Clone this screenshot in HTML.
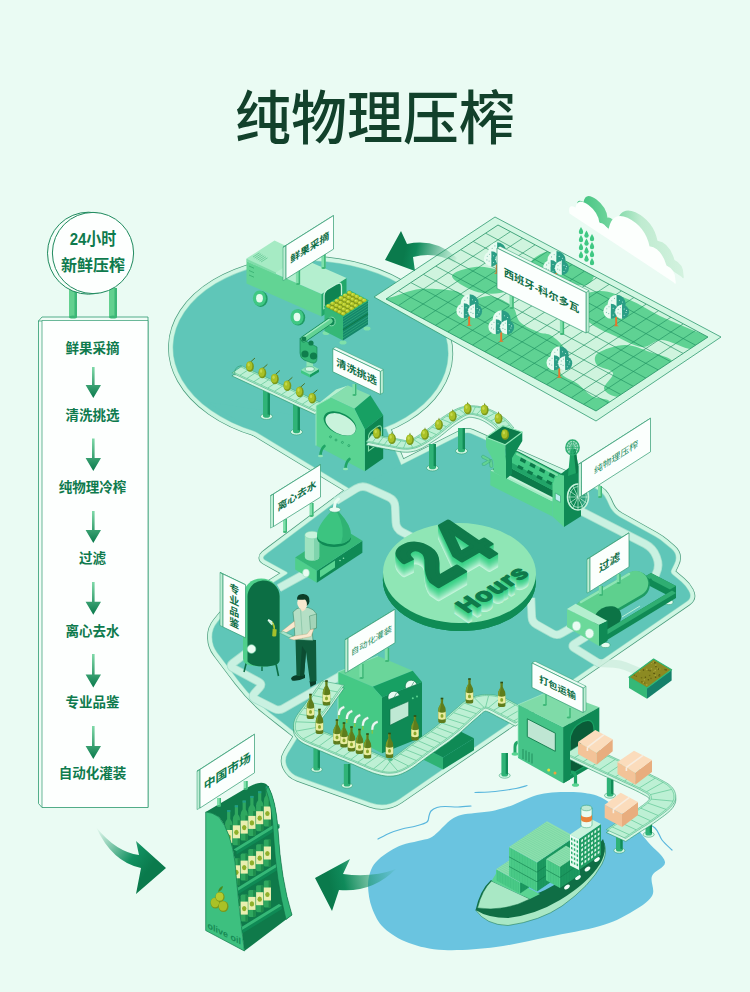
<!DOCTYPE html><html><head><meta charset="utf-8"><style>html,body{margin:0;padding:0;background:#eafbf3;font-family:"Liberation Sans",sans-serif}svg{display:block}svg text{font-family:"Liberation Sans","Noto Sans CJK SC",sans-serif}</style></head><body><svg width="750" height="992" viewBox="0 0 750 992">
<rect width="750" height="992" fill="#eafbf3"/>
<text transform="matrix(1 0 0 1.04 375 138.5)" x="0" y="0" font-size="56" font-weight="500" text-anchor="middle" fill="#12412b">纯物理压榨</text>
<ellipse cx="310.6" cy="350.5" rx="137.5" ry="89.5" transform="rotate(2 310.6 350.5)" fill="none" stroke="#4a9c7c" stroke-width="10.2" stroke-linejoin="round"/>
<polygon points="207,402 352,490 404,472 386,429 330,420" fill="none" stroke="#4a9c7c" stroke-width="10.2" stroke-linejoin="round"/>
<path d="M349.6 491.8Q352 490 354.7 488.6L462.5 434.3Q467 432 471.6 434L594.8 488.4Q603 492 606.7 500.2L609.2 505.7Q612.5 513 619.5 516.9L654.8 536.6Q660 539.5 664.6 543.4L671 548.8Q678.5 555 674.2 563.8L671.3 569.8Q670 572.5 672.3 574.4L681.4 582.1Q686 586 688.8 591.3L689 591.8Q692 597.5 686.7 601.2L399.2 798.9Q386 808 370.9 802.6L298.4 776.6Q291 774 287.5 767L287.5 767Q284 760 288.1 753.3L296.9 738.9Q299 735.5 295.9 733L292.8 730.5Q286.5 725.5 280.2 720.6L269 711.8Q252 698.5 239 681.2L232.8 673Q226 664 219.2 655L217.3 652.4Q212.5 646 212.3 638L212.2 637.5Q212 629 217.4 622.4L222.5 616.1Q225 613 228.4 610.9L286.5 574.6Q289 573 286.4 571.5L265.4 559.9Q262 558 265 555.5L265.7 554.9Q268 553 270.4 551.2Z" fill="none" stroke="#4a9c7c" stroke-width="10.2" stroke-linejoin="round"/>
<ellipse cx="310.6" cy="350.5" rx="137.5" ry="89.5" transform="rotate(2 310.6 350.5)" fill="none" stroke="#cff6e3" stroke-width="8.8" stroke-linejoin="round"/>
<polygon points="207,402 352,490 404,472 386,429 330,420" fill="none" stroke="#cff6e3" stroke-width="8.8" stroke-linejoin="round"/>
<path d="M349.6 491.8Q352 490 354.7 488.6L462.5 434.3Q467 432 471.6 434L594.8 488.4Q603 492 606.7 500.2L609.2 505.7Q612.5 513 619.5 516.9L654.8 536.6Q660 539.5 664.6 543.4L671 548.8Q678.5 555 674.2 563.8L671.3 569.8Q670 572.5 672.3 574.4L681.4 582.1Q686 586 688.8 591.3L689 591.8Q692 597.5 686.7 601.2L399.2 798.9Q386 808 370.9 802.6L298.4 776.6Q291 774 287.5 767L287.5 767Q284 760 288.1 753.3L296.9 738.9Q299 735.5 295.9 733L292.8 730.5Q286.5 725.5 280.2 720.6L269 711.8Q252 698.5 239 681.2L232.8 673Q226 664 219.2 655L217.3 652.4Q212.5 646 212.3 638L212.2 637.5Q212 629 217.4 622.4L222.5 616.1Q225 613 228.4 610.9L286.5 574.6Q289 573 286.4 571.5L265.4 559.9Q262 558 265 555.5L265.7 554.9Q268 553 270.4 551.2Z" fill="none" stroke="#cff6e3" stroke-width="8.8" stroke-linejoin="round"/>
<ellipse cx="310.6" cy="350.5" rx="137.5" ry="89.5" transform="rotate(2 310.6 350.5)" fill="none" stroke="#9fdfc9" stroke-width="1.2" stroke-linejoin="round"/>
<polygon points="207,402 352,490 404,472 386,429 330,420" fill="none" stroke="#9fdfc9" stroke-width="1.2" stroke-linejoin="round"/>
<path d="M349.6 491.8Q352 490 354.7 488.6L462.5 434.3Q467 432 471.6 434L594.8 488.4Q603 492 606.7 500.2L609.2 505.7Q612.5 513 619.5 516.9L654.8 536.6Q660 539.5 664.6 543.4L671 548.8Q678.5 555 674.2 563.8L671.3 569.8Q670 572.5 672.3 574.4L681.4 582.1Q686 586 688.8 591.3L689 591.8Q692 597.5 686.7 601.2L399.2 798.9Q386 808 370.9 802.6L298.4 776.6Q291 774 287.5 767L287.5 767Q284 760 288.1 753.3L296.9 738.9Q299 735.5 295.9 733L292.8 730.5Q286.5 725.5 280.2 720.6L269 711.8Q252 698.5 239 681.2L232.8 673Q226 664 219.2 655L217.3 652.4Q212.5 646 212.3 638L212.2 637.5Q212 629 217.4 622.4L222.5 616.1Q225 613 228.4 610.9L286.5 574.6Q289 573 286.4 571.5L265.4 559.9Q262 558 265 555.5L265.7 554.9Q268 553 270.4 551.2Z" fill="none" stroke="#9fdfc9" stroke-width="1.2" stroke-linejoin="round"/>
<ellipse cx="310.6" cy="350.5" rx="137.5" ry="89.5" transform="rotate(2 310.6 350.5)" fill="#5fc6b8"/>
<polygon points="207,402 352,490 404,472 386,429 330,420" fill="#5fc6b8"/>
<path d="M349.6 491.8Q352 490 354.7 488.6L462.5 434.3Q467 432 471.6 434L594.8 488.4Q603 492 606.7 500.2L609.2 505.7Q612.5 513 619.5 516.9L654.8 536.6Q660 539.5 664.6 543.4L671 548.8Q678.5 555 674.2 563.8L671.3 569.8Q670 572.5 672.3 574.4L681.4 582.1Q686 586 688.8 591.3L689 591.8Q692 597.5 686.7 601.2L399.2 798.9Q386 808 370.9 802.6L298.4 776.6Q291 774 287.5 767L287.5 767Q284 760 288.1 753.3L296.9 738.9Q299 735.5 295.9 733L292.8 730.5Q286.5 725.5 280.2 720.6L269 711.8Q252 698.5 239 681.2L232.8 673Q226 664 219.2 655L217.3 652.4Q212.5 646 212.3 638L212.2 637.5Q212 629 217.4 622.4L222.5 616.1Q225 613 228.4 610.9L286.5 574.6Q289 573 286.4 571.5L265.4 559.9Q262 558 265 555.5L265.7 554.9Q268 553 270.4 551.2Z" fill="#5fc6b8"/>
<g opacity="1"><path d="M577 509L645 543.9Q653 548 656.3 556.4L656.8 557.7Q660 566 656 574L652 582" fill="none" stroke="#a5e0cd" stroke-width="8.5" stroke-linejoin="round"/><path d="M577 509L645 543.9Q653 548 656.3 556.4L656.8 557.7Q660 566 656 574L652 582" fill="none" stroke="#c9f1e1" stroke-width="6.9" stroke-linejoin="round"/></g>
<g opacity="1"><path d="M531 598L531.8 617Q532 622 536.4 624.4L552.6 633.6Q557 636 561.3 633.5L578 624" fill="none" stroke="#a5e0cd" stroke-width="8.5" stroke-linejoin="round"/><path d="M531 598L531.8 617Q532 622 536.4 624.4L552.6 633.6Q557 636 561.3 633.5L578 624" fill="none" stroke="#c9f1e1" stroke-width="6.9" stroke-linejoin="round"/></g>
<g opacity="1"><path d="M592 633L574.4 643.9Q571 646 574.4 648.1L600 664" fill="none" stroke="#a5e0cd" stroke-width="8.5" stroke-linejoin="round"/><path d="M592 633L574.4 643.9Q571 646 574.4 648.1L600 664" fill="none" stroke="#c9f1e1" stroke-width="6.9" stroke-linejoin="round"/></g>
<g opacity="1"><path d="M336 501L356 488.7Q362 485 368.4 487.9L388.6 497.1Q395 500 395.2 507L395.8 522Q396 529 402.3 532.1L412 537" fill="none" stroke="#a5e0cd" stroke-width="8.5" stroke-linejoin="round"/><path d="M336 501L356 488.7Q362 485 368.4 487.9L388.6 497.1Q395 500 395.2 507L395.8 522Q396 529 402.3 532.1L412 537" fill="none" stroke="#c9f1e1" stroke-width="6.9" stroke-linejoin="round"/></g>
<g opacity="1"><path d="M308 572L279 588" fill="none" stroke="#a5e0cd" stroke-width="8.5" stroke-linejoin="round"/><path d="M308 572L279 588" fill="none" stroke="#c9f1e1" stroke-width="6.9" stroke-linejoin="round"/></g>
<g opacity="1"><path d="M253 648L233 663Q229 666 233.4 668.3L258.6 681.7Q263 684 259.6 687.7L254.4 693.3Q251 697 255.5 699.2L274.5 708.8Q279 711 283.3 708.5L340 676" fill="none" stroke="#a5e0cd" stroke-width="8.5" stroke-linejoin="round"/><path d="M253 648L233 663Q229 666 233.4 668.3L258.6 681.7Q263 684 259.6 687.7L254.4 693.3Q251 697 255.5 699.2L274.5 708.8Q279 711 283.3 708.5L340 676" fill="none" stroke="#c9f1e1" stroke-width="6.9" stroke-linejoin="round"/></g>
<path d="M368 886C367.8 879.7 369.3 874.3 371 870C372.7 865.7 374.8 863.2 378 860C381.2 856.8 386 853.5 390 851C394 848.5 397.3 846.7 402 845C406.7 843.3 413.3 842.2 418 841C422.7 839.8 426.7 839.5 430 838C433.3 836.5 435.7 834 438 832C440.3 830 441.7 828.2 444 826C446.3 823.8 449.2 820.8 452 819C454.8 817.2 457.2 816 461 815C464.8 814 470.3 813.6 475 813C479.7 812.4 484.5 812.2 489 811.5C493.5 810.8 498 809.6 502 808.5C506 807.4 509.3 806.4 513 805C516.7 803.6 520.5 801.5 524 800C527.5 798.5 530 797.2 534 796C538 794.8 542.8 793.7 548 793C553.2 792.3 558.8 792 565 792C571.2 792 578.5 791.8 585 793C591.5 794.2 596.8 794.8 604 799C611.2 803.2 620.7 810.8 628 818C635.3 825.2 641.8 834.7 648 842C654.2 849.3 664.3 856.3 665 862C665.7 867.7 654.2 870.3 652 876C649.8 881.7 655.7 889.8 652 896C648.3 902.2 638.7 908 630 913C621.3 918 613.7 922 600 926C586.3 930 565.3 933.5 548 937C530.7 940.5 513.3 944.8 496 947C478.7 949.2 458.5 950.7 444 950C429.5 949.3 419 946.7 409 943C399 939.3 390.2 933.8 384 928C377.8 922.2 374.7 915 372 908C369.3 901 368.2 892.3 368 886Z" fill="#6ac4e0"/>
<path d="M378 839C380 838 386 834.7 390 833C394 831.3 397.7 830.2 402 829C406.3 827.8 411.8 827.2 416 826C420.2 824.8 424.8 823.7 427 822C429.2 820.3 428.3 817.8 429 816C429.7 814.2 429.7 812.4 431 811C432.3 809.6 434.7 808.2 437 807.5C439.3 806.8 441.5 806.6 445 806.5C448.5 806.4 453.7 807.1 458 807C462.3 806.9 468.8 806.2 471 806" fill="none" stroke="#58b6dd" stroke-width="1.2" stroke-linecap="round"/>
<path d="M475 792.5C477.3 792.4 484.3 792.3 489 792C493.7 791.7 498.5 791.1 503 790.5C507.5 789.9 512 789.3 516 788.5C520 787.7 525.2 786 527 785.5" fill="none" stroke="#58b6dd" stroke-width="1.2" stroke-linecap="round"/>
<path d="M640 820C642.5 821.3 651.3 824.7 655 828C658.7 831.3 659.2 836.3 662 840C664.8 843.7 670.3 848.3 672 850" fill="none" stroke="#58b6dd" stroke-width="1.2" stroke-linecap="round"/>
<polygon points="495,217 721,337 596,421 374,297" fill="#d3f7e3" stroke="#2f9a70" stroke-width="0.8" stroke-linejoin="round"/>
<clipPath id="mapc"><polygon points="498,225 708,337 596,411 386,299"/></clipPath>
<g clip-path="url(#mapc)">
<polygon points="498,225 708,337 596,411 386,299" fill="#cff4de"/>
<path d="M380 300C382 298.5 385.3 298.8 392 297C398.7 295.2 409.5 290 420 289C430.5 288 446.7 289.2 455 291C463.3 292.8 464.2 299.2 470 300C475.8 300.8 483 295 490 296C497 297 507 301.7 512 306C517 310.3 515.7 317.7 520 322C524.3 326.3 532.7 329.7 538 332C543.3 334.3 547.3 332.7 552 336C556.7 339.3 564.7 346 566 352C567.3 358 558 366.7 560 372C562 377.3 572.7 380 578 384C583.3 388 586.7 393 592 396C597.3 399 608.7 398 610 402C611.3 406 608.3 420.3 600 420C591.7 419.7 596.7 419 560 400C523.3 381 410 322.7 380 306C350 289.3 378 301.5 380 300Z" fill="#5fd293"/>
<path d="M452 276C452.2 272 467 267.8 475 267C483 266.2 493.2 268.2 500 271C506.8 273.8 516 280.3 516 284C516 287.7 507 291.8 500 293C493 294.2 482 293.8 474 291C466 288.2 451.8 280 452 276Z" fill="#5fd293"/>
<path d="M531 262C532.7 258 542.7 251.8 550 251C557.3 250.2 567.7 253.7 575 257C582.3 260.3 592.2 266.3 594 271C595.8 275.7 591.7 283.3 586 285C580.3 286.7 567.7 282.7 560 281C552.3 279.3 544.8 278.2 540 275C535.2 271.8 529.3 266 531 262Z" fill="#5fd293"/>
<path d="M572 302C573.7 296.7 590.3 291.3 600 291C609.7 290.7 620 295.8 630 300C640 304.2 650 311.2 660 316C670 320.8 681.3 325 690 329C698.7 333 711.7 336.7 712 340C712.3 343.3 700.3 349 692 349C683.7 349 670.3 340.3 662 340C653.7 339.7 649.8 347.7 642 347C634.2 346.3 623.7 340 615 336C606.3 332 597.2 328.7 590 323C582.8 317.3 570.3 307.3 572 302Z" fill="#5fd293"/>
<path d="M598 353C602.7 349.7 616.3 345.2 625 345C633.7 344.8 642.2 349.3 650 352C657.8 354.7 671 357.5 672 361C673 364.5 661.3 368.8 656 373C650.7 377.2 646 382 640 386C634 390 626 396.5 620 397C614 397.5 605.2 393 604 389C602.8 385 614.2 377 613 373C611.8 369 599.5 368.3 597 365C594.5 361.7 593.3 356.3 598 353Z" fill="#5fd293"/>
<line x1="398.4" y1="305.6" x2="510.4" y2="231.6" stroke="#1f9162" stroke-width="0.65"/>
<line x1="410.7" y1="312.2" x2="522.7" y2="238.2" stroke="#1f9162" stroke-width="0.65"/>
<line x1="423.1" y1="318.8" x2="535.1" y2="244.8" stroke="#1f9162" stroke-width="0.65"/>
<line x1="435.4" y1="325.4" x2="547.4" y2="251.4" stroke="#1f9162" stroke-width="0.65"/>
<line x1="447.8" y1="331.9" x2="559.8" y2="257.9" stroke="#1f9162" stroke-width="0.65"/>
<line x1="460.1" y1="338.5" x2="572.1" y2="264.5" stroke="#1f9162" stroke-width="0.65"/>
<line x1="472.5" y1="345.1" x2="584.5" y2="271.1" stroke="#1f9162" stroke-width="0.65"/>
<line x1="484.8" y1="351.7" x2="596.8" y2="277.7" stroke="#1f9162" stroke-width="0.65"/>
<line x1="497.2" y1="358.3" x2="609.2" y2="284.3" stroke="#1f9162" stroke-width="0.65"/>
<line x1="509.5" y1="364.9" x2="621.5" y2="290.9" stroke="#1f9162" stroke-width="0.65"/>
<line x1="521.9" y1="371.5" x2="633.9" y2="297.5" stroke="#1f9162" stroke-width="0.65"/>
<line x1="534.2" y1="378.1" x2="646.2" y2="304.1" stroke="#1f9162" stroke-width="0.65"/>
<line x1="546.6" y1="384.6" x2="658.6" y2="310.6" stroke="#1f9162" stroke-width="0.65"/>
<line x1="558.9" y1="391.2" x2="670.9" y2="317.2" stroke="#1f9162" stroke-width="0.65"/>
<line x1="571.3" y1="397.8" x2="683.3" y2="323.8" stroke="#1f9162" stroke-width="0.65"/>
<line x1="583.6" y1="404.4" x2="695.6" y2="330.4" stroke="#1f9162" stroke-width="0.65"/>
<line x1="398.4" y1="290.8" x2="608.4" y2="402.8" stroke="#1f9162" stroke-width="0.65"/>
<line x1="410.9" y1="282.6" x2="620.9" y2="394.6" stroke="#1f9162" stroke-width="0.65"/>
<line x1="423.3" y1="274.3" x2="633.3" y2="386.3" stroke="#1f9162" stroke-width="0.65"/>
<line x1="435.8" y1="266.1" x2="645.8" y2="378.1" stroke="#1f9162" stroke-width="0.65"/>
<line x1="448.2" y1="257.9" x2="658.2" y2="369.9" stroke="#1f9162" stroke-width="0.65"/>
<line x1="460.7" y1="249.7" x2="670.7" y2="361.7" stroke="#1f9162" stroke-width="0.65"/>
<line x1="473.1" y1="241.4" x2="683.1" y2="353.4" stroke="#1f9162" stroke-width="0.65"/>
<line x1="485.6" y1="233.2" x2="695.6" y2="345.2" stroke="#1f9162" stroke-width="0.65"/>
</g>
<polygon points="498,225 708,337 596,411 386,299" fill="none" stroke="#1f9162" stroke-width="0.8" stroke-linejoin="round"/>
<path d="M598 663L614 663.7Q620 664 625.6 666.2L640.2 672.1Q645 674 646.5 679L648 684" fill="none" stroke="#cdeedd" stroke-width="8" opacity="0.8"/>
<defs>
<linearGradient id="gAr" x1="0" y1="0" x2="0" y2="1"><stop offset="0" stop-color="#7fd9a8"/><stop offset="1" stop-color="#0a7a4c"/></linearGradient>
<linearGradient id="gBig1" gradientUnits="userSpaceOnUse" x1="96" y1="827" x2="150" y2="868"><stop offset="0" stop-color="#1e9a68" stop-opacity="0"/><stop offset="0.7" stop-color="#119060" stop-opacity="1"/><stop offset="1" stop-color="#0a7a4c"/></linearGradient>
<linearGradient id="gBig2" gradientUnits="userSpaceOnUse" x1="400" y1="870" x2="330" y2="885"><stop offset="0" stop-color="#1e9a68" stop-opacity="0"/><stop offset="0.8" stop-color="#0f8a5a" stop-opacity="1"/><stop offset="1" stop-color="#0a7a4c"/></linearGradient>
<linearGradient id="gBig3" gradientUnits="userSpaceOnUse" x1="458" y1="262" x2="405" y2="250"><stop offset="0" stop-color="#1e9a68" stop-opacity="0"/><stop offset="0.8" stop-color="#0f8a5a" stop-opacity="1"/><stop offset="1" stop-color="#0a7a4c"/></linearGradient>
</defs>
<polygon points="38.5,321 42,317 148,317 148,807.5 42,807.5 38.5,803.5" fill="#f0fcf6" stroke="#2c9a6e" stroke-width="0.8" stroke-linejoin="round"/>
<polygon points="42,320.5 148,320.5 148,807.5 42,807.5" fill="#fdfffe" stroke="#2c9a6e" stroke-width="0.7" stroke-linejoin="round"/>
<line x1="38" y1="321" x2="42" y2="321" stroke="#2c9a6e" stroke-width="0.7"/>
<rect x="69" y="288" width="8" height="29" fill="#63d08f"/>
<rect x="74.5" y="288" width="2.5" height="29" fill="#3db777"/>
<ellipse cx="73" cy="317" rx="4" ry="1.6" fill="#3db777"/>
<rect x="109" y="288" width="8" height="29" fill="#63d08f"/>
<rect x="114.5" y="288" width="2.5" height="29" fill="#3db777"/>
<ellipse cx="113" cy="317" rx="4" ry="1.6" fill="#3db777"/>
<circle cx="88.5" cy="253.2" r="41" fill="#f6fef9" stroke="#1f8a5e" stroke-width="1"/>
<circle cx="93" cy="253" r="40.6" fill="#fdfffe" stroke="#1f8a5e" stroke-width="1"/>
<text transform="matrix(1 0 0 1.1 93 244.8)" x="0" y="0" font-size="15" font-weight="bold" text-anchor="middle" fill="#0e7a4d">24小时</text>
<text x="93" y="270.5" font-size="16" font-weight="bold" text-anchor="middle" fill="#0e7a4d">新鲜压榨</text>
<text x="92.6" y="353.2" font-size="13.5" font-weight="bold" text-anchor="middle" fill="#0e7a4d">鲜果采摘</text>
<text x="92.6" y="419.7" font-size="13.5" font-weight="bold" text-anchor="middle" fill="#0e7a4d">清洗挑选</text>
<text x="92.6" y="491.7" font-size="13.5" font-weight="bold" text-anchor="middle" fill="#0e7a4d">纯物理冷榨</text>
<text x="92.6" y="563.2" font-size="13.5" font-weight="bold" text-anchor="middle" fill="#0e7a4d">过滤</text>
<text x="92.6" y="636.2" font-size="13.5" font-weight="bold" text-anchor="middle" fill="#0e7a4d">离心去水</text>
<text x="92.6" y="706.9" font-size="13.5" font-weight="bold" text-anchor="middle" fill="#0e7a4d">专业品鉴</text>
<text x="92.6" y="778.2" font-size="13.5" font-weight="bold" text-anchor="middle" fill="#0e7a4d">自动化灌装</text>
<path d="M92 367 L94.6 367 L94.6 385 L101 385 L93.3 398 L85.6 385 L92 385 Z" fill="url(#gAr)"/>
<path d="M92 438.6 L94.6 438.6 L94.6 458 L101 458 L93.3 471 L85.6 458 L92 458 Z" fill="url(#gAr)"/>
<path d="M92 511 L94.6 511 L94.6 530 L101 530 L93.3 543 L85.6 530 L92 530 Z" fill="url(#gAr)"/>
<path d="M92 582 L94.6 582 L94.6 601.7 L101 601.7 L93.3 614.7 L85.6 601.7 L92 601.7 Z" fill="url(#gAr)"/>
<path d="M92 654 L94.6 654 L94.6 674.5 L101 674.5 L93.3 687.5 L85.6 674.5 L92 674.5 Z" fill="url(#gAr)"/>
<path d="M92 726 L94.6 726 L94.6 746 L101 746 L93.3 759 L85.6 746 L92 746 Z" fill="url(#gAr)"/>
<polygon points="321.5,316.5 246.5,283.5 246.5,261 321.5,294" fill="#62d494"/>
<polygon points="321.5,316.5 346.5,300.5 346.5,278 321.5,294" fill="#22a86a"/>
<polygon points="321.5,294 246.5,261 271.5,245 346.5,278" fill="#b4efcf"/>
<polygon points="246.5,261 246.5,258.5 274.5,240.5 304,254.5 276,272.5" fill="#a6ebc4"/>
<polygon points="246.5,261.5 276,274.5 276,272.5 246.5,258.7" fill="#7fdca9"/>
<line x1="253" y1="257" x2="259.5" y2="252.8" stroke="#4dbb83" stroke-width="0.6"/>
<line x1="254.6" y1="258" x2="261.1" y2="253.8" stroke="#4dbb83" stroke-width="0.6"/>
<line x1="256.2" y1="259" x2="262.7" y2="254.8" stroke="#4dbb83" stroke-width="0.6"/>
<line x1="257.8" y1="260" x2="264.3" y2="255.8" stroke="#4dbb83" stroke-width="0.6"/>
<line x1="259.4" y1="261" x2="265.9" y2="256.8" stroke="#4dbb83" stroke-width="0.6"/>
<line x1="261" y1="262" x2="267.5" y2="257.8" stroke="#4dbb83" stroke-width="0.6"/>
<line x1="249" y1="266" x2="254" y2="268.2" stroke="#2fa86c" stroke-width="0.7"/>
<line x1="249" y1="270.5" x2="254" y2="272.7" stroke="#2fa86c" stroke-width="0.7"/>
<line x1="249" y1="275" x2="254" y2="277.2" stroke="#2fa86c" stroke-width="0.7"/>
<path d="M324 308.5 L324 296 Q324 291 329 288.5 L337 283.8 Q341.5 281.5 341.5 286.5 L341.5 298.5 Z" fill="#0e8452" stroke="#c5f3da" stroke-width="1.3"/>
<ellipse cx="260.7" cy="298.9" rx="7" ry="8" fill="#1f9c63"/>
<ellipse cx="259.5" cy="298.3" rx="6.6" ry="7.8" fill="#3fc883"/>
<ellipse cx="259.5" cy="298.3" rx="3.4" ry="4.2" fill="#e4fbee"/>
<ellipse cx="298.2" cy="317.6" rx="7" ry="8" fill="#1f9c63"/>
<ellipse cx="297" cy="317" rx="6.6" ry="7.8" fill="#3fc883"/>
<ellipse cx="297" cy="317" rx="3.4" ry="4.2" fill="#e4fbee"/>
<rect x="295.9" y="270" width="4.2" height="14" fill="#7fe0aa"/>
<rect x="298.6" y="270" width="1.5" height="14" fill="#3db777"/>
<ellipse cx="298" cy="284" rx="2.1" ry="1.1" fill="#3db777"/>
<rect x="321.4" y="254" width="4.2" height="14" fill="#7fe0aa"/>
<rect x="324.1" y="254" width="1.5" height="14" fill="#3db777"/>
<ellipse cx="323.5" cy="268" rx="2.1" ry="1.1" fill="#3db777"/>
<polygon points="283,247.2 286,245.5 286,279 283,280.6" fill="#bfeed5" stroke="#2c9a6e" stroke-width="0.5" stroke-linejoin="round"/>
<polygon points="283,247.2 330.5,217.2 333.5,215.6 286,245.5" fill="#e9fbf2" stroke="#2c9a6e" stroke-width="0.5" stroke-linejoin="round"/>
<polygon points="286,245.5 333.5,215.6 333.5,249.1 286,279" fill="#fbfffd" stroke="#2c9a6e" stroke-width="0.7" stroke-linejoin="round"/>
<text transform="matrix(1 -0.63 0 1 309.8 250.9)" x="0" y="0" font-size="9.8" font-weight="bold" text-anchor="middle" fill="#0e6e46">鲜果采摘</text>
<ellipse cx="343" cy="342.5" rx="3.5" ry="2" fill="#7fe0aa"/>
<ellipse cx="367" cy="328.5" rx="3.5" ry="2" fill="#7fe0aa"/>
<ellipse cx="326" cy="333" rx="3.5" ry="2" fill="#7fe0aa"/>
<polygon points="343,340.5 324.5,330.9 324.5,306.9 343,316.5" fill="#35b877"/>
<polygon points="343,340.5 368,324.5 368,300.5 343,316.5" fill="#14866a"/>
<polygon points="343,316.5 324.5,306.9 349.5,290.9 368,300.5" fill="#8a9f1f"/>
<line x1="343" y1="319.2" x2="368" y2="303.2" stroke="#3fbf82" stroke-width="0.5"/>
<line x1="343" y1="321.8" x2="368" y2="305.8" stroke="#3fbf82" stroke-width="0.5"/>
<line x1="343" y1="324.5" x2="368" y2="308.5" stroke="#3fbf82" stroke-width="0.5"/>
<line x1="343" y1="327.2" x2="368" y2="311.2" stroke="#3fbf82" stroke-width="0.5"/>
<line x1="343" y1="329.8" x2="368" y2="313.8" stroke="#3fbf82" stroke-width="0.5"/>
<line x1="343" y1="332.5" x2="368" y2="316.5" stroke="#3fbf82" stroke-width="0.5"/>
<line x1="343" y1="335.2" x2="368" y2="319.2" stroke="#3fbf82" stroke-width="0.5"/>
<line x1="343" y1="337.8" x2="368" y2="321.8" stroke="#3fbf82" stroke-width="0.5"/>
<line x1="343" y1="329.7" x2="368" y2="313.7" stroke="#0c7a49" stroke-width="1.2"/>
<polygon points="343,316.5 324.5,306.9 349.5,290.9 368,300.5" fill="#7f981d" stroke="#2fb877" stroke-width="1.3" stroke-linejoin="round"/>
<ellipse cx="343.2" cy="313.6" rx="2.2" ry="1.8" fill="#b9cc2a"/>
<ellipse cx="342.7" cy="313.2" rx="1" ry="0.8" fill="#d3e35a"/>
<ellipse cx="347.4" cy="310.9" rx="2.2" ry="1.8" fill="#b9cc2a"/>
<ellipse cx="346.9" cy="310.5" rx="1" ry="0.8" fill="#d3e35a"/>
<ellipse cx="351.6" cy="308.3" rx="2.2" ry="1.8" fill="#b9cc2a"/>
<ellipse cx="351.1" cy="307.9" rx="1" ry="0.8" fill="#d3e35a"/>
<ellipse cx="355.7" cy="305.6" rx="2.2" ry="1.8" fill="#b9cc2a"/>
<ellipse cx="355.2" cy="305.2" rx="1" ry="0.8" fill="#d3e35a"/>
<ellipse cx="359.9" cy="302.9" rx="2.2" ry="1.8" fill="#b9cc2a"/>
<ellipse cx="359.4" cy="302.5" rx="1" ry="0.8" fill="#d3e35a"/>
<ellipse cx="364.1" cy="300.3" rx="2.2" ry="1.8" fill="#b9cc2a"/>
<ellipse cx="363.6" cy="299.9" rx="1" ry="0.8" fill="#d3e35a"/>
<ellipse cx="339.5" cy="311.7" rx="2.2" ry="1.8" fill="#b9cc2a"/>
<ellipse cx="339" cy="311.3" rx="1" ry="0.8" fill="#d3e35a"/>
<ellipse cx="343.7" cy="309" rx="2.2" ry="1.8" fill="#b9cc2a"/>
<ellipse cx="343.2" cy="308.6" rx="1" ry="0.8" fill="#d3e35a"/>
<ellipse cx="347.9" cy="306.3" rx="2.2" ry="1.8" fill="#b9cc2a"/>
<ellipse cx="347.4" cy="305.9" rx="1" ry="0.8" fill="#d3e35a"/>
<ellipse cx="352" cy="303.7" rx="2.2" ry="1.8" fill="#b9cc2a"/>
<ellipse cx="351.5" cy="303.3" rx="1" ry="0.8" fill="#d3e35a"/>
<ellipse cx="356.2" cy="301" rx="2.2" ry="1.8" fill="#b9cc2a"/>
<ellipse cx="355.7" cy="300.6" rx="1" ry="0.8" fill="#d3e35a"/>
<ellipse cx="360.4" cy="298.3" rx="2.2" ry="1.8" fill="#b9cc2a"/>
<ellipse cx="359.9" cy="297.9" rx="1" ry="0.8" fill="#d3e35a"/>
<ellipse cx="335.8" cy="309.8" rx="2.2" ry="1.8" fill="#b9cc2a"/>
<ellipse cx="335.3" cy="309.4" rx="1" ry="0.8" fill="#d3e35a"/>
<ellipse cx="340" cy="307.1" rx="2.2" ry="1.8" fill="#b9cc2a"/>
<ellipse cx="339.5" cy="306.7" rx="1" ry="0.8" fill="#d3e35a"/>
<ellipse cx="344.2" cy="304.4" rx="2.2" ry="1.8" fill="#b9cc2a"/>
<ellipse cx="343.7" cy="304" rx="1" ry="0.8" fill="#d3e35a"/>
<ellipse cx="348.3" cy="301.8" rx="2.2" ry="1.8" fill="#b9cc2a"/>
<ellipse cx="347.8" cy="301.4" rx="1" ry="0.8" fill="#d3e35a"/>
<ellipse cx="352.5" cy="299.1" rx="2.2" ry="1.8" fill="#b9cc2a"/>
<ellipse cx="352" cy="298.7" rx="1" ry="0.8" fill="#d3e35a"/>
<ellipse cx="356.7" cy="296.4" rx="2.2" ry="1.8" fill="#b9cc2a"/>
<ellipse cx="356.2" cy="296" rx="1" ry="0.8" fill="#d3e35a"/>
<ellipse cx="332.1" cy="307.8" rx="2.2" ry="1.8" fill="#b9cc2a"/>
<ellipse cx="331.6" cy="307.4" rx="1" ry="0.8" fill="#d3e35a"/>
<ellipse cx="336.3" cy="305.2" rx="2.2" ry="1.8" fill="#b9cc2a"/>
<ellipse cx="335.8" cy="304.8" rx="1" ry="0.8" fill="#d3e35a"/>
<ellipse cx="340.5" cy="302.5" rx="2.2" ry="1.8" fill="#b9cc2a"/>
<ellipse cx="340" cy="302.1" rx="1" ry="0.8" fill="#d3e35a"/>
<ellipse cx="344.6" cy="299.8" rx="2.2" ry="1.8" fill="#b9cc2a"/>
<ellipse cx="344.1" cy="299.4" rx="1" ry="0.8" fill="#d3e35a"/>
<ellipse cx="348.8" cy="297.2" rx="2.2" ry="1.8" fill="#b9cc2a"/>
<ellipse cx="348.3" cy="296.8" rx="1" ry="0.8" fill="#d3e35a"/>
<ellipse cx="353" cy="294.5" rx="2.2" ry="1.8" fill="#b9cc2a"/>
<ellipse cx="352.5" cy="294.1" rx="1" ry="0.8" fill="#d3e35a"/>
<ellipse cx="328.4" cy="305.9" rx="2.2" ry="1.8" fill="#b9cc2a"/>
<ellipse cx="327.9" cy="305.5" rx="1" ry="0.8" fill="#d3e35a"/>
<ellipse cx="332.6" cy="303.2" rx="2.2" ry="1.8" fill="#b9cc2a"/>
<ellipse cx="332.1" cy="302.8" rx="1" ry="0.8" fill="#d3e35a"/>
<ellipse cx="336.8" cy="300.6" rx="2.2" ry="1.8" fill="#b9cc2a"/>
<ellipse cx="336.3" cy="300.2" rx="1" ry="0.8" fill="#d3e35a"/>
<ellipse cx="340.9" cy="297.9" rx="2.2" ry="1.8" fill="#b9cc2a"/>
<ellipse cx="340.4" cy="297.5" rx="1" ry="0.8" fill="#d3e35a"/>
<ellipse cx="345.1" cy="295.2" rx="2.2" ry="1.8" fill="#b9cc2a"/>
<ellipse cx="344.6" cy="294.8" rx="1" ry="0.8" fill="#d3e35a"/>
<ellipse cx="349.3" cy="292.6" rx="2.2" ry="1.8" fill="#b9cc2a"/>
<ellipse cx="348.8" cy="292.2" rx="1" ry="0.8" fill="#d3e35a"/>
<ellipse cx="331.5" cy="321.5" rx="3.6" ry="4.3" fill="#0f8a55" stroke="#8fe3b5" stroke-width="0.9"/>
<polygon points="310,377.5 301,373 301,370 310,374.5" fill="#3fc883"/>
<polygon points="310,377.5 319,372.1 319,369.1 310,374.5" fill="#159a5e"/>
<polygon points="310,374.5 301,370 310,364.6 319,369.1" fill="#8fe5b6"/>
<rect x="306.5" y="360" width="6.5" height="9" fill="#8fe5b6"/>
<ellipse cx="309.7" cy="369" rx="4.6" ry="2.3" fill="#d4f7e4" stroke="#2a9d6c" stroke-width="0.5"/>
<path d="M300 338 L300 353 Q300 358 304 360 L312 363 Q317 364 317 358 L317 347 Z" fill="#35b877" stroke="#0f8452" stroke-width="0.6"/>
<circle cx="305" cy="354" r="3.6" fill="#0f7e4d"/><circle cx="313.5" cy="356" r="3.6" fill="#0f7e4d"/>
<circle cx="311" cy="343" r="2.6" fill="#0f7e4d"/>
<line x1="304" y1="339" x2="330" y2="321" stroke="#0f8452" stroke-width="6.6" stroke-linecap="round"/>
<line x1="304" y1="339" x2="330" y2="321" stroke="#63d394" stroke-width="5.2" stroke-linecap="round"/>
<line x1="303" y1="337.5" x2="329" y2="319.5" stroke="#a5ecc5" stroke-width="1.2" stroke-linecap="round"/>
<circle cx="304" cy="339" r="2.4" fill="#0f7e4d"/>
<ellipse cx="266.5" cy="416.5" rx="6" ry="2.9" fill="#d6f8e6" stroke="#1f9162" stroke-width="0.5"/>
<rect x="263" y="388" width="7" height="28" fill="#2fb377"/>
<rect x="267.6" y="388" width="2.4" height="28" fill="#118c57"/>
<ellipse cx="266.5" cy="416" rx="3.5" ry="1.8" fill="#2fb377"/>
<ellipse cx="296.5" cy="432" rx="6" ry="2.9" fill="#d6f8e6" stroke="#1f9162" stroke-width="0.5"/>
<rect x="293" y="403" width="7" height="28.5" fill="#2fb377"/>
<rect x="297.6" y="403" width="2.4" height="28.5" fill="#118c57"/>
<ellipse cx="296.5" cy="431.5" rx="3.5" ry="1.8" fill="#2fb377"/>
<polygon points="242.1,369.1 249,372.3 256,375.5 262.9,378.7 269.8,381.9 276.7,385.2 283.6,388.4 290.5,391.6 297.5,394.8 304.4,398 311.3,401.2 318.2,404.4 325.1,407.6 314.9,414.4 308,411.2 301,408 294.1,404.8 287.2,401.6 280.3,398.3 273.4,395.1 266.5,391.9 259.5,388.7 252.6,385.5 245.7,382.3 238.8,379.1 231.9,375.9" fill="#d4f6e4" stroke="#1f9162" stroke-width="0.6" stroke-linejoin="round"/>
<polygon points="242.1,366.1 249,369.3 256,372.5 262.9,375.7 269.8,378.9 276.7,382.2 283.6,385.4 290.5,388.6 297.5,391.8 304.4,395 311.3,398.2 318.2,401.4 325.1,404.6 314.9,411.4 308,408.2 301,405 294.1,401.8 287.2,398.6 280.3,395.3 273.4,392.1 266.5,388.9 259.5,385.7 252.6,382.5 245.7,379.3 238.8,376.1 231.9,372.9" fill="#bdf0d4" stroke="#2a9d6c" stroke-width="0.5" stroke-linejoin="round"/>
<polyline points="240.9,366.9 247.8,370.1 254.7,373.3 261.6,376.6 268.6,379.8 275.5,383 282.4,386.2 289.3,389.4 296.2,392.6 303.1,395.8 310.1,399 317,402.2 323.9,405.4" fill="none" stroke="#4fbf8a" stroke-width="0.6"/>
<polyline points="233.1,372.1 240,375.3 246.9,378.5 253.9,381.7 260.8,384.9 267.7,388.1 274.6,391.3 281.5,394.5 288.4,397.7 295.4,400.9 302.3,404.2 309.2,407.4 316.1,410.6" fill="none" stroke="#4fbf8a" stroke-width="0.6"/>
<line x1="247.8" y1="370.1" x2="240" y2="375.3" stroke="#4fbf8a" stroke-width="0.6"/>
<line x1="254.7" y1="373.3" x2="246.9" y2="378.5" stroke="#4fbf8a" stroke-width="0.6"/>
<line x1="261.6" y1="376.6" x2="253.9" y2="381.7" stroke="#4fbf8a" stroke-width="0.6"/>
<line x1="268.6" y1="379.8" x2="260.8" y2="384.9" stroke="#4fbf8a" stroke-width="0.6"/>
<line x1="275.5" y1="383" x2="267.7" y2="388.1" stroke="#4fbf8a" stroke-width="0.6"/>
<line x1="282.4" y1="386.2" x2="274.6" y2="391.3" stroke="#4fbf8a" stroke-width="0.6"/>
<line x1="289.3" y1="389.4" x2="281.5" y2="394.5" stroke="#4fbf8a" stroke-width="0.6"/>
<line x1="296.2" y1="392.6" x2="288.4" y2="397.7" stroke="#4fbf8a" stroke-width="0.6"/>
<line x1="303.1" y1="395.8" x2="295.4" y2="400.9" stroke="#4fbf8a" stroke-width="0.6"/>
<line x1="310.1" y1="399" x2="302.3" y2="404.2" stroke="#4fbf8a" stroke-width="0.6"/>
<line x1="317" y1="402.2" x2="309.2" y2="407.4" stroke="#4fbf8a" stroke-width="0.6"/>
<line x1="323.9" y1="405.4" x2="316.1" y2="410.6" stroke="#4fbf8a" stroke-width="0.6"/>
<path d="M241.5 365.5 Q233 367 235 375.5" fill="none" stroke="#2a9d6c" stroke-width="0.6"/>
<line x1="250.5" y1="362" x2="255" y2="358" stroke="#4a6b14" stroke-width="0.9"/>
<ellipse cx="250" cy="366.5" rx="3.9" ry="5.3" fill="#7a981b"/>
<ellipse cx="249.3" cy="365.9" rx="3" ry="4.4" fill="#a9c126"/>
<ellipse cx="248.7" cy="364.7" rx="1.2" ry="1.8" fill="#c5d84a"/>
<line x1="262.9" y1="368.4" x2="267.4" y2="364.4" stroke="#4a6b14" stroke-width="0.9"/>
<ellipse cx="262.4" cy="372.9" rx="3.9" ry="5.3" fill="#7a981b"/>
<ellipse cx="261.7" cy="372.3" rx="3" ry="4.4" fill="#a9c126"/>
<ellipse cx="261.1" cy="371.1" rx="1.2" ry="1.8" fill="#c5d84a"/>
<line x1="275.4" y1="374.5" x2="279.9" y2="370.5" stroke="#4a6b14" stroke-width="0.9"/>
<ellipse cx="274.9" cy="379" rx="3.9" ry="5.3" fill="#7a981b"/>
<ellipse cx="274.2" cy="378.4" rx="3" ry="4.4" fill="#a9c126"/>
<ellipse cx="273.6" cy="377.2" rx="1.2" ry="1.8" fill="#c5d84a"/>
<line x1="287.9" y1="381.3" x2="292.4" y2="377.3" stroke="#4a6b14" stroke-width="0.9"/>
<ellipse cx="287.4" cy="385.8" rx="3.9" ry="5.3" fill="#7a981b"/>
<ellipse cx="286.7" cy="385.2" rx="3" ry="4.4" fill="#a9c126"/>
<ellipse cx="286.1" cy="384" rx="1.2" ry="1.8" fill="#c5d84a"/>
<line x1="300.3" y1="387.4" x2="304.8" y2="383.4" stroke="#4a6b14" stroke-width="0.9"/>
<ellipse cx="299.8" cy="391.9" rx="3.9" ry="5.3" fill="#7a981b"/>
<ellipse cx="299.1" cy="391.3" rx="3" ry="4.4" fill="#a9c126"/>
<ellipse cx="298.5" cy="390.1" rx="1.2" ry="1.8" fill="#c5d84a"/>
<line x1="312.8" y1="393.8" x2="317.3" y2="389.8" stroke="#4a6b14" stroke-width="0.9"/>
<ellipse cx="312.3" cy="398.3" rx="3.9" ry="5.3" fill="#7a981b"/>
<ellipse cx="311.6" cy="397.7" rx="3" ry="4.4" fill="#a9c126"/>
<ellipse cx="311" cy="396.5" rx="1.2" ry="1.8" fill="#c5d84a"/>
<ellipse cx="432.5" cy="468" rx="6" ry="2.9" fill="#d6f8e6" stroke="#1f9162" stroke-width="0.5"/>
<rect x="429" y="444" width="7" height="23.5" fill="#2fb377"/>
<rect x="433.6" y="444" width="2.4" height="23.5" fill="#118c57"/>
<ellipse cx="432.5" cy="467.5" rx="3.5" ry="1.8" fill="#2fb377"/>
<ellipse cx="461.5" cy="451" rx="6" ry="2.9" fill="#d6f8e6" stroke="#1f9162" stroke-width="0.5"/>
<rect x="458" y="428" width="7" height="22.5" fill="#2fb377"/>
<rect x="462.6" y="428" width="2.4" height="22.5" fill="#118c57"/>
<ellipse cx="461.5" cy="450.5" rx="3.5" ry="1.8" fill="#2fb377"/>
<polygon points="316,405.6 330.4,397.6 348,385.6 336,389.5" fill="#b8f0d0"/>
<polygon points="330.4,397.6 348,385.6 370.4,395.2 354.4,408.8" fill="#86dfae"/>
<polygon points="354.4,408.8 370.4,395.2 383.2,415.2 364.8,429.6" fill="#17a063"/>
<polygon points="364.8,429.6 383.2,415.2 383.2,458.4 364.8,471.2" fill="#0d8550"/>
<polygon points="316,445.6 316,405.6 330.4,397.6 354.4,408.8 364.8,429.6 364.8,471.2" fill="#5ad492"/>
<path d="M316 445.6 L316 405.6 L330.4 397.6" fill="none" stroke="#a5ecc5" stroke-width="0.8"/>
<ellipse cx="340" cy="423.5" rx="17.5" ry="10.5" transform="rotate(27 340 423.5)" fill="#0f8c55"/>
<ellipse cx="340.6" cy="424.3" rx="16.3" ry="9.4" transform="rotate(27 340.6 424.3)" fill="#c9f3dc"/>
<circle cx="330.5" cy="436.8" r="1" fill="none" stroke="#17935b" stroke-width="0.6"/>
<circle cx="336" cy="440" r="1" fill="none" stroke="#17935b" stroke-width="0.6"/>
<circle cx="342.4" cy="442.4" r="1" fill="none" stroke="#17935b" stroke-width="0.6"/>
<circle cx="348.8" cy="445.6" r="1" fill="none" stroke="#17935b" stroke-width="0.6"/>
<path d="M324.5 446 q-3.5 3 -4 9" fill="none" stroke="#1fa566" stroke-width="2.6" stroke-linecap="round"/>
<ellipse cx="320.5" cy="456" rx="2.6" ry="1.3" fill="#8fe5b6"/>
<path d="M349.5 459 q-3.5 3 -4 9" fill="none" stroke="#1fa566" stroke-width="2.6" stroke-linecap="round"/>
<ellipse cx="345.5" cy="469" rx="2.6" ry="1.3" fill="#8fe5b6"/>
<path d="M368.5 451 L368.5 437.5 Q368.5 433.5 372 430.8 L377 427 Q381.5 424 381.5 429 L381.5 441.5 Z" fill="#0a6e42" stroke="#7fdba6" stroke-width="1.1"/>
<polygon points="372.1,437 374,437.3 376,437.8 378,438.2 380,438.6 381.9,439 383.9,439.4 385.8,439.8 387.6,440.1 389.5,440.5 391.2,440.8 392.9,441.1 394.7,441.4 396.6,441.7 398.5,442.1 400.3,442.5 401.8,442.8 403.3,443.1 404.5,443.4 405.6,443.5 406.5,443.6 407.2,443.7 407.8,443.7 408.2,443.6 408.7,443.6 409.4,443.4 410.3,443.1 411.3,442.6 412.6,442 413.9,441.3 415.3,440.4 416.8,439.5 418.3,438.5 419.9,437.5 421.5,436.4 423.1,435.3 424.7,434.2 426.2,433.2 427.7,432.1 429.2,431 430.8,429.7 432.4,428.4 434,427.1 435.6,425.7 437.3,424.4 438.9,423.1 440.6,421.8 442.3,420.5 444,419.4 445.5,418.4 447,417.4 448.5,416.5 450,415.5 451.6,414.6 453.2,413.7 454.8,412.8 456.5,412 458.4,411.2 460.3,410.5 462.4,409.9 464.7,409.4 467.1,409 469.4,408.8 471.6,408.8 473.8,408.8 475.8,409 477.8,409.2 479.7,409.6 481.5,409.9 483.2,410.4 484.9,410.8 486.4,411.3 488,411.8 489.7,412.4 491.4,413.1 493,413.8 494.5,414.6 496,415.4 497.4,416.3 498.8,417.1 500.1,418 501.4,418.8 502.6,419.7 503.8,420.5 504.9,421.3 505.9,422.1 506.9,423 507.8,423.9 508.7,424.7 509.4,425.6 510.1,426.4 510.8,427.2 511.4,428 512,428.7 512.6,429.4 513.2,430.1 513.8,430.8 500.2,435.2 499.4,434.4 498.7,433.6 498.1,432.8 497.5,432 496.9,431.3 496.3,430.5 495.7,429.9 495.1,429.2 494.5,428.5 493.8,427.9 493.1,427.3 492.3,426.7 491.4,426 490.4,425.3 489.3,424.6 488.2,423.8 487.1,423.1 486,422.4 484.8,421.7 483.6,421.1 482.5,420.5 481.4,420 480.4,419.6 479.4,419.2 478.3,418.8 477.1,418.5 475.9,418.2 474.8,417.9 473.8,417.7 472.7,417.5 471.8,417.4 471,417.3 470.2,417.3 469.6,417.3 469,417.4 468.5,417.4 467.9,417.6 467.2,417.8 466.4,418.1 465.5,418.5 464.4,419 463.3,419.6 462.1,420.3 460.8,421 459.5,421.9 458.1,422.7 456.7,423.7 455.2,424.6 453.9,425.5 452.5,426.5 451,427.7 449.5,428.9 447.9,430.1 446.3,431.5 444.7,432.8 443,434.2 441.3,435.5 439.6,436.9 437.8,438.2 436.1,439.4 434.5,440.4 432.9,441.5 431.2,442.6 429.5,443.8 427.8,444.9 426,446 424.2,447 422.3,448.1 420.3,449 418.2,449.9 415.9,450.8 413.3,451.4 410.6,451.9 407.9,452.2 405.4,452.2 403,452.1 400.9,451.8 398.9,451.5 397.1,451.2 395.4,450.8 393.8,450.5 392.3,450.2 390.8,449.9 389.3,449.6 387.5,449.3 385.6,449 383.6,448.6 381.6,448.2 379.6,447.8 377.6,447.4 375.6,447 373.7,446.6 371.7,446.2 369.8,445.8 367.9,445.4 365.9,445" fill="#d4f6e4" stroke="#1f9162" stroke-width="0.6" stroke-linejoin="round"/>
<polygon points="372.1,434 374,434.3 376,434.8 378,435.2 380,435.6 381.9,436 383.9,436.4 385.8,436.8 387.6,437.1 389.5,437.5 391.2,437.8 392.9,438.1 394.7,438.4 396.6,438.7 398.5,439.1 400.3,439.5 401.8,439.8 403.3,440.1 404.5,440.4 405.6,440.5 406.5,440.6 407.2,440.7 407.8,440.7 408.2,440.6 408.7,440.6 409.4,440.4 410.3,440.1 411.3,439.6 412.6,439 413.9,438.3 415.3,437.4 416.8,436.5 418.3,435.5 419.9,434.5 421.5,433.4 423.1,432.3 424.7,431.2 426.2,430.2 427.7,429.1 429.2,428 430.8,426.7 432.4,425.4 434,424.1 435.6,422.7 437.3,421.4 438.9,420.1 440.6,418.8 442.3,417.5 444,416.4 445.5,415.4 447,414.4 448.5,413.5 450,412.5 451.6,411.6 453.2,410.7 454.8,409.8 456.5,409 458.4,408.2 460.3,407.5 462.4,406.9 464.7,406.4 467.1,406 469.4,405.8 471.6,405.8 473.8,405.8 475.8,406 477.8,406.2 479.7,406.6 481.5,406.9 483.2,407.4 484.9,407.8 486.4,408.3 488,408.8 489.7,409.4 491.4,410.1 493,410.8 494.5,411.6 496,412.4 497.4,413.3 498.8,414.1 500.1,415 501.4,415.8 502.6,416.7 503.8,417.5 504.9,418.3 505.9,419.1 506.9,420 507.8,420.9 508.7,421.7 509.4,422.6 510.1,423.4 510.8,424.2 511.4,425 512,425.7 512.6,426.4 513.2,427.1 513.8,427.8 500.2,432.2 499.4,431.4 498.7,430.6 498.1,429.8 497.5,429 496.9,428.3 496.3,427.5 495.7,426.9 495.1,426.2 494.5,425.5 493.8,424.9 493.1,424.3 492.3,423.7 491.4,423 490.4,422.3 489.3,421.6 488.2,420.8 487.1,420.1 486,419.4 484.8,418.7 483.6,418.1 482.5,417.5 481.4,417 480.4,416.6 479.4,416.2 478.3,415.8 477.1,415.5 475.9,415.2 474.8,414.9 473.8,414.7 472.7,414.5 471.8,414.4 471,414.3 470.2,414.3 469.6,414.3 469,414.4 468.5,414.4 467.9,414.6 467.2,414.8 466.4,415.1 465.5,415.5 464.4,416 463.3,416.6 462.1,417.3 460.8,418 459.5,418.9 458.1,419.7 456.7,420.7 455.2,421.6 453.9,422.5 452.5,423.5 451,424.7 449.5,425.9 447.9,427.1 446.3,428.5 444.7,429.8 443,431.2 441.3,432.5 439.6,433.9 437.8,435.2 436.1,436.4 434.5,437.4 432.9,438.5 431.2,439.6 429.5,440.8 427.8,441.9 426,443 424.2,444 422.3,445.1 420.3,446 418.2,446.9 415.9,447.8 413.3,448.4 410.6,448.9 407.9,449.2 405.4,449.2 403,449.1 400.9,448.8 398.9,448.5 397.1,448.2 395.4,447.8 393.8,447.5 392.3,447.2 390.8,446.9 389.3,446.6 387.5,446.3 385.6,446 383.6,445.6 381.6,445.2 379.6,444.8 377.6,444.4 375.6,444 373.7,443.6 371.7,443.2 369.8,442.8 367.9,442.4 365.9,442" fill="#bdf0d4" stroke="#2a9d6c" stroke-width="0.5" stroke-linejoin="round"/>
<polyline points="371.3,434.9 373.3,435.3 375.2,435.7 377.2,436.1 379.2,436.5 381.2,436.9 383.1,437.3 385,437.7 386.9,438.1 388.8,438.5 390.6,438.8 392.3,439.1 394.1,439.4 395.9,439.7 397.8,440.1 399.5,440.4 401.1,440.8 402.5,441.1 403.9,441.3 405.1,441.5 406.1,441.7 407,441.7 407.8,441.7 408.5,441.6 409.2,441.5 410.1,441.3 411.2,440.9 412.4,440.4 413.7,439.7 415.1,439 416.6,438.1 418.1,437.2 419.7,436.2 421.3,435.1 422.9,434 424.5,432.9 426.1,431.9 427.6,430.8 429.1,429.7 430.7,428.5 432.2,427.2 433.8,425.9 435.5,424.6 437.1,423.3 438.7,421.9 440.4,420.6 442,419.3 443.7,418.1 445.3,417 446.9,416 448.4,415.1 449.8,414.1 451.3,413.2 452.8,412.3 454.4,411.4 456,410.6 457.6,409.8 459.3,409.1 461.2,408.4 463.1,407.8 465.2,407.3 467.3,407 469.4,406.8 471.5,406.8 473.4,406.8 475.4,407 477.2,407.2 479,407.5 480.7,407.9 482.3,408.3 483.9,408.7 485.5,409.2 487,409.7 488.6,410.3 490.2,410.9 491.7,411.6 493.2,412.4 494.7,413.2 496.1,414 497.4,414.8 498.7,415.7 500,416.5 501.2,417.3 502.3,418.1 503.4,418.9 504.4,419.8 505.4,420.6 506.2,421.4 507,422.3 507.8,423.1 508.5,423.9 509.1,424.7 509.7,425.4 510.3,426.2 510.9,426.9 511.5,427.6 512.2,428.3" fill="none" stroke="#4fbf8a" stroke-width="0.6"/>
<polyline points="366.7,441.1 368.6,441.5 370.5,441.8 372.5,442.2 374.4,442.6 376.4,443.1 378.4,443.5 380.4,443.9 382.3,444.3 384.3,444.6 386.2,445 388.2,445.3 389.9,445.6 391.5,445.9 393,446.2 394.6,446.5 396.2,446.9 397.8,447.2 399.6,447.6 401.5,447.9 403.5,448.1 405.6,448.2 407.9,448.2 410.3,447.9 412.8,447.5 415.1,446.9 417.2,446.1 419.2,445.3 421.1,444.3 423,443.3 424.8,442.3 426.5,441.2 428.2,440.1 429.9,439 431.5,437.9 433.1,436.8 434.7,435.7 436.4,434.6 438.2,433.3 439.9,432 441.5,430.6 443.2,429.3 444.8,427.9 446.4,426.6 448,425.3 449.6,424.1 451,423 452.5,421.9 453.9,421 455.3,420 456.8,419.1 458.2,418.2 459.5,417.4 460.8,416.6 462.1,415.9 463.3,415.2 464.4,414.7 465.5,414.3 466.4,413.9 467.3,413.6 468,413.5 468.8,413.4 469.5,413.3 470.4,413.3 471.3,413.3 472.3,413.4 473.4,413.5 474.5,413.7 475.6,414 476.8,414.2 478,414.6 479.2,414.9 480.4,415.3 481.5,415.7 482.6,416.2 483.8,416.7 484.9,417.3 486.1,417.9 487.3,418.6 488.5,419.4 489.7,420.1 490.8,420.9 491.9,421.6 492.9,422.4 493.8,423.1 494.7,423.7 495.4,424.3 496.1,425 496.7,425.7 497.3,426.3 497.9,427 498.5,427.8 499.1,428.5 499.8,429.3 500.4,430.1 501.1,430.9 501.8,431.7" fill="none" stroke="#4fbf8a" stroke-width="0.6"/>
<line x1="377.2" y1="436.1" x2="372.5" y2="442.2" stroke="#4fbf8a" stroke-width="0.6"/>
<line x1="383.1" y1="437.3" x2="378.4" y2="443.5" stroke="#4fbf8a" stroke-width="0.6"/>
<line x1="388.8" y1="438.5" x2="384.3" y2="444.6" stroke="#4fbf8a" stroke-width="0.6"/>
<line x1="394.1" y1="439.4" x2="389.9" y2="445.6" stroke="#4fbf8a" stroke-width="0.6"/>
<line x1="401.1" y1="440.8" x2="396.2" y2="446.9" stroke="#4fbf8a" stroke-width="0.6"/>
<line x1="406.1" y1="441.7" x2="403.5" y2="448.1" stroke="#4fbf8a" stroke-width="0.6"/>
<line x1="409.2" y1="441.5" x2="412.8" y2="447.5" stroke="#4fbf8a" stroke-width="0.6"/>
<line x1="413.7" y1="439.7" x2="421.1" y2="444.3" stroke="#4fbf8a" stroke-width="0.6"/>
<line x1="418.1" y1="437.2" x2="426.5" y2="441.2" stroke="#4fbf8a" stroke-width="0.6"/>
<line x1="422.9" y1="434" x2="431.5" y2="437.9" stroke="#4fbf8a" stroke-width="0.6"/>
<line x1="427.6" y1="430.8" x2="436.4" y2="434.6" stroke="#4fbf8a" stroke-width="0.6"/>
<line x1="432.2" y1="427.2" x2="441.5" y2="430.6" stroke="#4fbf8a" stroke-width="0.6"/>
<line x1="437.1" y1="423.3" x2="446.4" y2="426.6" stroke="#4fbf8a" stroke-width="0.6"/>
<line x1="442" y1="419.3" x2="451" y2="423" stroke="#4fbf8a" stroke-width="0.6"/>
<line x1="446.9" y1="416" x2="455.3" y2="420" stroke="#4fbf8a" stroke-width="0.6"/>
<line x1="452.8" y1="412.3" x2="460.8" y2="416.6" stroke="#4fbf8a" stroke-width="0.6"/>
<line x1="459.3" y1="409.1" x2="465.5" y2="414.3" stroke="#4fbf8a" stroke-width="0.6"/>
<line x1="467.3" y1="407" x2="468.8" y2="413.4" stroke="#4fbf8a" stroke-width="0.6"/>
<line x1="475.4" y1="407" x2="472.3" y2="413.4" stroke="#4fbf8a" stroke-width="0.6"/>
<line x1="482.3" y1="408.3" x2="476.8" y2="414.2" stroke="#4fbf8a" stroke-width="0.6"/>
<line x1="488.6" y1="410.3" x2="481.5" y2="415.7" stroke="#4fbf8a" stroke-width="0.6"/>
<line x1="494.7" y1="413.2" x2="486.1" y2="417.9" stroke="#4fbf8a" stroke-width="0.6"/>
<line x1="500" y1="416.5" x2="490.8" y2="420.9" stroke="#4fbf8a" stroke-width="0.6"/>
<line x1="505.4" y1="420.6" x2="495.4" y2="424.3" stroke="#4fbf8a" stroke-width="0.6"/>
<line x1="509.7" y1="425.4" x2="499.1" y2="428.5" stroke="#4fbf8a" stroke-width="0.6"/>
<ellipse cx="377" cy="433.4" rx="3.9" ry="5.3" fill="#7a981b"/>
<ellipse cx="376.3" cy="432.8" rx="3" ry="4.4" fill="#a9c126"/>
<ellipse cx="375.7" cy="431.6" rx="1.2" ry="1.8" fill="#c5d84a"/>
<path d="M376.2 428.4 l0.8 -2.2 l0.8 2.2z" fill="#6f8d1a"/>
<ellipse cx="392" cy="438.7" rx="3.9" ry="5.3" fill="#7a981b"/>
<ellipse cx="391.3" cy="438.1" rx="3" ry="4.4" fill="#a9c126"/>
<ellipse cx="390.7" cy="436.9" rx="1.2" ry="1.8" fill="#c5d84a"/>
<path d="M391.2 433.7 l0.8 -2.2 l0.8 2.2z" fill="#6f8d1a"/>
<ellipse cx="410" cy="439.8" rx="3.9" ry="5.3" fill="#7a981b"/>
<ellipse cx="409.3" cy="439.2" rx="3" ry="4.4" fill="#a9c126"/>
<ellipse cx="408.7" cy="438" rx="1.2" ry="1.8" fill="#c5d84a"/>
<path d="M409.2 434.8 l0.8 -2.2 l0.8 2.2z" fill="#6f8d1a"/>
<ellipse cx="425" cy="434.4" rx="3.9" ry="5.3" fill="#7a981b"/>
<ellipse cx="424.3" cy="433.8" rx="3" ry="4.4" fill="#a9c126"/>
<ellipse cx="423.7" cy="432.6" rx="1.2" ry="1.8" fill="#c5d84a"/>
<path d="M424.2 429.4 l0.8 -2.2 l0.8 2.2z" fill="#6f8d1a"/>
<ellipse cx="439" cy="424.8" rx="3.9" ry="5.3" fill="#7a981b"/>
<ellipse cx="438.3" cy="424.2" rx="3" ry="4.4" fill="#a9c126"/>
<ellipse cx="437.7" cy="423" rx="1.2" ry="1.8" fill="#c5d84a"/>
<path d="M438.2 419.8 l0.8 -2.2 l0.8 2.2z" fill="#6f8d1a"/>
<ellipse cx="452.8" cy="416.3" rx="3.9" ry="5.3" fill="#7a981b"/>
<ellipse cx="452.1" cy="415.7" rx="3" ry="4.4" fill="#a9c126"/>
<ellipse cx="451.5" cy="414.5" rx="1.2" ry="1.8" fill="#c5d84a"/>
<path d="M452 411.3 l0.8 -2.2 l0.8 2.2z" fill="#6f8d1a"/>
<ellipse cx="467.7" cy="408.9" rx="3.9" ry="5.3" fill="#7a981b"/>
<ellipse cx="467" cy="408.3" rx="3" ry="4.4" fill="#a9c126"/>
<ellipse cx="466.4" cy="407.1" rx="1.2" ry="1.8" fill="#c5d84a"/>
<path d="M466.9 403.9 l0.8 -2.2 l0.8 2.2z" fill="#6f8d1a"/>
<ellipse cx="484.7" cy="410" rx="3.9" ry="5.3" fill="#7a981b"/>
<ellipse cx="484" cy="409.4" rx="3" ry="4.4" fill="#a9c126"/>
<ellipse cx="483.4" cy="408.2" rx="1.2" ry="1.8" fill="#c5d84a"/>
<path d="M483.9 405 l0.8 -2.2 l0.8 2.2z" fill="#6f8d1a"/>
<ellipse cx="498.6" cy="418.5" rx="3.9" ry="5.3" fill="#7a981b"/>
<ellipse cx="497.9" cy="417.9" rx="3" ry="4.4" fill="#a9c126"/>
<ellipse cx="497.3" cy="416.7" rx="1.2" ry="1.8" fill="#c5d84a"/>
<path d="M497.8 413.5 l0.8 -2.2 l0.8 2.2z" fill="#6f8d1a"/>
<rect x="352.4" y="384" width="4" height="11" fill="#7fe0aa"/>
<rect x="355" y="384" width="1.4" height="11" fill="#3db777"/>
<ellipse cx="354.4" cy="395" rx="2" ry="1" fill="#3db777"/>
<polygon points="380.3,371.4 383.3,369.6 383.3,392.6 380.3,394.4" fill="#bfeed5" stroke="#2c9a6e" stroke-width="0.5" stroke-linejoin="round"/>
<polygon points="332.8,348.8 335.8,347 383.3,369.6 380.3,371.4" fill="#e9fbf2" stroke="#2c9a6e" stroke-width="0.5" stroke-linejoin="round"/>
<polygon points="332.8,348.8 380.3,371.4 380.3,394.4 332.8,371.8" fill="#fbfffd" stroke="#2c9a6e" stroke-width="0.7" stroke-linejoin="round"/>
<text transform="matrix(1 0.475 0 1 356.6 375.3)" x="0" y="0" font-size="10.2" font-weight="bold" text-anchor="middle" fill="#0e6e46">清洗挑选</text>
<path d="M490 459 l-7 -4 q-2.5 0.5 -1 3 l5.5 2.5 l-5.5 3 q-0.5 2.5 2.5 2 l6.5 -4z M489 460 l1 7 q2 1.5 3 -0.5 l-1 -7z" fill="#63d394" stroke="#2a9d6c" stroke-width="0.4"/>
<polygon points="490.3,470.4 507,460 569,491 552.5,501.5" fill="#0c7a4a"/>
<polygon points="498,474 552,501.5 556,499 502,471.5" fill="#c3f2d8"/>
<line x1="514" y1="460" x2="556" y2="482" stroke="#0c7a4a" stroke-width="19" stroke-linecap="round"/>
<line x1="514" y1="460" x2="556" y2="482" stroke="#3fc883" stroke-width="17.5" stroke-linecap="round"/>
<line x1="517" y1="454" x2="557" y2="475" stroke="#7fe0aa" stroke-width="2" stroke-linecap="round"/>
<line x1="511.5" y1="465.5" x2="553" y2="487.5" stroke="#22a468" stroke-width="5" stroke-linecap="round"/>
<polygon points="521,457.5 526.2,460.2 525,463.5 519.8,460.8" fill="#0c7a4a"/>
<polygon points="518.5,464.7 523.7,467.4 522.2,470.3 517.2,467.7" fill="#0c7a4a"/>
<polygon points="530.6,462.5 535.8,465.2 534.6,468.5 529.4,465.8" fill="#0c7a4a"/>
<polygon points="528.1,469.7 533.3,472.4 531.8,475.3 526.8,472.7" fill="#0c7a4a"/>
<polygon points="540.2,467.5 545.4,470.2 544.2,473.5 539,470.8" fill="#0c7a4a"/>
<polygon points="537.7,474.7 542.9,477.4 541.4,480.3 536.4,477.7" fill="#0c7a4a"/>
<polygon points="549.8,472.5 555,475.2 553.8,478.5 548.6,475.8" fill="#0c7a4a"/>
<polygon points="547.3,479.7 552.5,482.4 551,485.3 546,482.7" fill="#0c7a4a"/>
<polygon points="490.3,470.4 490.3,485.3 552.5,516.5 552.5,501.5" fill="#5ad492"/>
<polygon points="490.3,470.4 552.5,501.5 554.5,500.3 492.3,469.2" fill="#a5ecc5"/>
<polygon points="486,437.3 486,447 493.5,461 493.5,472 506,479 506,461 505.2,444.8" fill="#5ad492"/>
<polygon points="505.2,444.8 506,461 506,479 512,474 512,458 522.3,441 522.3,432" fill="#0f8a55"/>
<polygon points="486,437.3 503,425.6 522.3,432 505.2,444.8" fill="#0c7a4a" stroke="#8fe5b6" stroke-width="1.2" stroke-linejoin="round"/>
<ellipse cx="505.2" cy="434.5" rx="3.9" ry="5.3" fill="#7a981b"/>
<ellipse cx="504.5" cy="433.9" rx="3" ry="4.4" fill="#a9c126"/>
<ellipse cx="503.9" cy="432.7" rx="1.2" ry="1.8" fill="#c5d84a"/>
<polygon points="552.5,516.5 552.5,485 555,478 560,474.5 564,475.5 564,527" fill="#5ad492"/>
<polygon points="564,527 564,475.5 560,474.5 570,467 577,464.5 581,468 581,516.3" fill="#0f8a55"/>
<rect x="555.3" y="493" width="5.2" height="6.5" transform="skewY(29)" fill="#bfeff0" stroke="#2a9d6c" stroke-width="0.5" style="transform-origin:555.3px 493px"/>
<polygon points="568,476 570.5,449 575.5,449 579,472" fill="#1fa566"/>
<polygon points="573.5,449 575.5,449 579,472 576,474" fill="#0c7a4a"/>
<ellipse cx="578" cy="497" rx="10.5" ry="13" fill="#0f8a55" opacity="0.6"/>
<ellipse cx="578" cy="497" rx="10.5" ry="13" fill="none" stroke="#c9f3dc" stroke-width="1.5"/>
<ellipse cx="578" cy="497" rx="8.3" ry="10.4" fill="none" stroke="#c9f3dc" stroke-width="0.7"/>
<line x1="567.5" y1="497" x2="588.5" y2="497" stroke="#c9f3dc" stroke-width="0.7"/>
<line x1="568.9" y1="490.5" x2="587.1" y2="503.5" stroke="#c9f3dc" stroke-width="0.7"/>
<line x1="572.8" y1="485.7" x2="583.2" y2="508.3" stroke="#c9f3dc" stroke-width="0.7"/>
<line x1="578" y1="484" x2="578" y2="510" stroke="#c9f3dc" stroke-width="0.7"/>
<line x1="583.2" y1="485.7" x2="572.8" y2="508.3" stroke="#c9f3dc" stroke-width="0.7"/>
<line x1="587.1" y1="490.5" x2="568.9" y2="503.5" stroke="#c9f3dc" stroke-width="0.7"/>
<ellipse cx="572.5" cy="447.5" rx="6.6" ry="7.6" fill="#1fa566" opacity="0.35"/>
<ellipse cx="572.5" cy="447.5" rx="6.6" ry="7.6" fill="none" stroke="#2fae72" stroke-width="1.5"/>
<ellipse cx="572.5" cy="447.5" rx="4.3999999999999995" ry="5.0" fill="none" stroke="#2fae72" stroke-width="0.7"/>
<line x1="565.9" y1="447.5" x2="579.1" y2="447.5" stroke="#2fae72" stroke-width="0.7"/>
<line x1="566.8" y1="443.7" x2="578.2" y2="451.3" stroke="#2fae72" stroke-width="0.7"/>
<line x1="569.2" y1="440.9" x2="575.8" y2="454.1" stroke="#2fae72" stroke-width="0.7"/>
<line x1="572.5" y1="439.9" x2="572.5" y2="455.1" stroke="#2fae72" stroke-width="0.7"/>
<line x1="575.8" y1="440.9" x2="569.2" y2="454.1" stroke="#2fae72" stroke-width="0.7"/>
<line x1="578.2" y1="443.7" x2="566.8" y2="451.3" stroke="#2fae72" stroke-width="0.7"/>
<rect x="598" y="486" width="4" height="11" fill="#7fe0aa"/>
<rect x="600.6" y="486" width="1.4" height="11" fill="#3db777"/>
<ellipse cx="600" cy="497" rx="2" ry="1" fill="#3db777"/>
<polygon points="578.5,464.1 581.5,462.5 581.5,496 578.5,497.6" fill="#bfeed5" stroke="#2c9a6e" stroke-width="0.5" stroke-linejoin="round"/>
<polygon points="578.5,464.1 647.5,420 650.5,418.3 581.5,462.5" fill="#e9fbf2" stroke="#2c9a6e" stroke-width="0.5" stroke-linejoin="round"/>
<polygon points="581.5,462.5 650.5,418.3 650.5,451.8 581.5,496" fill="#fbfffd" stroke="#2c9a6e" stroke-width="0.7" stroke-linejoin="round"/>
<text transform="matrix(1 -0.64 0 1 616 460.4)" x="0" y="0" font-size="8.8" text-anchor="middle" fill="#178a5a">纯物理压榨</text>
<ellipse cx="668.5" cy="602" rx="4.6" ry="2.6" fill="#e6fbf0" stroke="#2a9d6c" stroke-width="0.5"/>
<ellipse cx="605.5" cy="645" rx="4.6" ry="2.6" fill="#e6fbf0" stroke="#2a9d6c" stroke-width="0.5"/>
<polygon points="645,576.5 651,573 676,586 676,593 670,596.5 645,583.5" fill="#0f8a55"/>
<polygon points="645,576.5 651,573 676,586 670,589.5" fill="#2fae72"/>
<line x1="598" y1="612" x2="652" y2="580" stroke="#0f8a55" stroke-width="4"/>
<line x1="588" y1="613" x2="636" y2="585" stroke="#1f9c63" stroke-width="27.5" stroke-linecap="round"/>
<line x1="587.5" y1="611.5" x2="635.5" y2="583.5" stroke="#5ed08e" stroke-width="25.5" stroke-linecap="round"/>
<line x1="581" y1="602" x2="629" y2="574" stroke="#8fe5b6" stroke-width="2.5" stroke-linecap="round"/>
<ellipse cx="607.5" cy="618.5" rx="14.5" ry="11.5" transform="rotate(-30 607.5 618.5)" fill="#0c7446"/>
<polygon points="603,632 672,590.5 676,593 676,598 607,640 603,637.5" fill="#0f8a55"/>
<polygon points="603,632 672,590.5 676,593 607,634.5" fill="#2fae72"/>
<line x1="622" y1="617" x2="640" y2="606" stroke="#c5f3da" stroke-width="0.9"/>
<polygon points="567,609 567,627 599,646 599,625" fill="#6bd99a"/>
<polygon points="567,609 575.6,603.7 607.5,621 599,625" fill="#b4efcf"/>
<polygon points="599,625 607.5,621 607.5,641 599,646" fill="#0f8a55"/>
<ellipse cx="576.5" cy="626" rx="4.3" ry="4.8" fill="#e9fcf2" stroke="#8fdcb8" stroke-width="0.6"/>
<ellipse cx="589.5" cy="633.5" rx="4.3" ry="4.8" fill="#e9fcf2" stroke="#8fdcb8" stroke-width="0.6"/>
<rect x="599" y="586" width="4" height="9" fill="#7fe0aa"/>
<rect x="601.6" y="586" width="1.4" height="9" fill="#3db777"/>
<ellipse cx="601" cy="595" rx="2" ry="1" fill="#3db777"/>
<rect x="616.7" y="574" width="4" height="9" fill="#7fe0aa"/>
<rect x="619.3" y="574" width="1.4" height="9" fill="#3db777"/>
<ellipse cx="618.7" cy="583" rx="2" ry="1" fill="#3db777"/>
<polygon points="587,559.1 590,557.5 590,591.5 587,593.1" fill="#bfeed5" stroke="#2c9a6e" stroke-width="0.5" stroke-linejoin="round"/>
<polygon points="587,559.1 626,534.6 629,532.9 590,557.5" fill="#e9fbf2" stroke="#2c9a6e" stroke-width="0.5" stroke-linejoin="round"/>
<polygon points="590,557.5 629,532.9 629,566.9 590,591.5" fill="#fbfffd" stroke="#2c9a6e" stroke-width="0.7" stroke-linejoin="round"/>
<text transform="matrix(1 -0.63 0 1 609.5 566.1)" x="0" y="0" font-size="10.6" font-weight="bold" text-anchor="middle" fill="#0e6e46">过滤</text>
<polygon points="647,698.7 629,687.9 629,677.2 647,688" fill="#35b877"/>
<polygon points="647,698.7 671.6,680.5 671.6,669.8 647,688" fill="#15806a"/>
<polygon points="647,688 629,677.2 653.6,659 671.6,669.8" fill="#8a8a24"/>
<polygon points="647,688 629,677.2 653.6,659 671.6,669.8" fill="#8c8a22" stroke="#2fb877" stroke-width="1.2" stroke-linejoin="round"/>
<circle cx="655.2" cy="675.2" r="0.8" fill="#a9a53a"/>
<circle cx="643.5" cy="670.1" r="0.8" fill="#5c5a10"/>
<circle cx="646.8" cy="684.9" r="0.8" fill="#a9a53a"/>
<circle cx="648.4" cy="679.7" r="0.8" fill="#5c5a10"/>
<circle cx="657.7" cy="668.6" r="0.8" fill="#a9a53a"/>
<circle cx="659.3" cy="668.9" r="0.8" fill="#6e6a16"/>
<circle cx="655.9" cy="666.6" r="0.8" fill="#5c5a10"/>
<circle cx="641.9" cy="681.9" r="0.8" fill="#6e6a16"/>
<circle cx="664.9" cy="669.6" r="0.8" fill="#6e6a16"/>
<circle cx="643.6" cy="682.5" r="0.8" fill="#a9a53a"/>
<circle cx="655.2" cy="670.4" r="0.8" fill="#a9a53a"/>
<circle cx="655.8" cy="665.1" r="0.8" fill="#a9a53a"/>
<circle cx="648.4" cy="670.3" r="0.8" fill="#6e6a16"/>
<circle cx="636.3" cy="676.2" r="0.8" fill="#6e6a16"/>
<circle cx="645.4" cy="677.2" r="0.8" fill="#5c5a10"/>
<circle cx="653.9" cy="672.1" r="0.8" fill="#a9a53a"/>
<circle cx="658.4" cy="669.1" r="0.8" fill="#5c5a10"/>
<circle cx="654.3" cy="673.5" r="0.8" fill="#5c5a10"/>
<circle cx="651" cy="678.4" r="0.8" fill="#6e6a16"/>
<circle cx="655.1" cy="662.8" r="0.8" fill="#5c5a10"/>
<circle cx="651.4" cy="668.7" r="0.8" fill="#a9a53a"/>
<circle cx="651.6" cy="663.1" r="0.8" fill="#5c5a10"/>
<circle cx="659.5" cy="674.7" r="0.8" fill="#5c5a10"/>
<circle cx="646.8" cy="669.4" r="0.8" fill="#a9a53a"/>
<circle cx="655.6" cy="677.2" r="0.8" fill="#5c5a10"/>
<circle cx="634.4" cy="675.3" r="0.8" fill="#6e6a16"/>
<circle cx="644.4" cy="679.7" r="0.8" fill="#a9a53a"/>
<circle cx="649.6" cy="675.5" r="0.8" fill="#6e6a16"/>
<circle cx="659.6" cy="675.9" r="0.8" fill="#6e6a16"/>
<circle cx="653.9" cy="673.3" r="0.8" fill="#5c5a10"/>
<circle cx="654.5" cy="662.7" r="0.8" fill="#5c5a10"/>
<circle cx="644.7" cy="683" r="0.8" fill="#6e6a16"/>
<circle cx="658.8" cy="675.8" r="0.8" fill="#6e6a16"/>
<circle cx="653.3" cy="662.2" r="0.8" fill="#a9a53a"/>
<circle cx="641.5" cy="677.8" r="0.8" fill="#6e6a16"/>
<circle cx="639.7" cy="671.6" r="0.8" fill="#a9a53a"/>
<circle cx="651.6" cy="663.3" r="0.8" fill="#a9a53a"/>
<circle cx="659.8" cy="669" r="0.8" fill="#a9a53a"/>
<circle cx="650.1" cy="670.7" r="0.8" fill="#5c5a10"/>
<circle cx="666.1" cy="669.9" r="0.8" fill="#5c5a10"/>
<g transform="rotate(1 459.5 573)">
<path d="M383.0 573 a76.5 50 0 0 0 153.0 0 v8 a76.5 50 0 0 1 -153.0 0z" fill="#0f8c55"/>
<ellipse cx="459.5" cy="581" rx="76.5" ry="50" fill="#0f8c55"/>
<ellipse cx="459.5" cy="573" rx="76.5" ry="50" fill="#8fe6b5"/>
</g>
<text transform="matrix(0.566 -0.324 0.693 0.473 436 601)" x="0" y="0" font-size="100" font-weight="bold" letter-spacing="5" fill="#c4f5db" stroke="#c4f5db" stroke-width="4.5" stroke-linejoin="round">24</text>
<text transform="matrix(0.566 -0.324 0.693 0.473 436 600)" x="0" y="0" font-size="100" font-weight="bold" letter-spacing="5" fill="#b3f0d1" stroke="#b3f0d1" stroke-width="4.5" stroke-linejoin="round">24</text>
<text transform="matrix(0.566 -0.324 0.693 0.473 436 599)" x="0" y="0" font-size="100" font-weight="bold" letter-spacing="5" fill="#a4ecc7" stroke="#a4ecc7" stroke-width="4.5" stroke-linejoin="round">24</text>
<text transform="matrix(0.566 -0.324 0.693 0.473 436 598)" x="0" y="0" font-size="100" font-weight="bold" letter-spacing="5" fill="#95e8be" stroke="#95e8be" stroke-width="4.5" stroke-linejoin="round">24</text>
<text transform="matrix(0.566 -0.324 0.693 0.473 436 597)" x="0" y="0" font-size="100" font-weight="bold" letter-spacing="5" fill="#87e5b6" stroke="#87e5b6" stroke-width="4.5" stroke-linejoin="round">24</text>
<text transform="matrix(0.566 -0.324 0.693 0.473 436 596)" x="0" y="0" font-size="100" font-weight="bold" letter-spacing="5" fill="#7ae1ad" stroke="#7ae1ad" stroke-width="4.5" stroke-linejoin="round">24</text>
<text transform="matrix(0.566 -0.324 0.693 0.473 436 595)" x="0" y="0" font-size="100" font-weight="bold" letter-spacing="5" fill="#6ddea6" stroke="#6ddea6" stroke-width="4.5" stroke-linejoin="round">24</text>
<text transform="matrix(0.566 -0.324 0.693 0.473 436 594)" x="0" y="0" font-size="100" font-weight="bold" letter-spacing="5" fill="#61db9f" stroke="#61db9f" stroke-width="4.5" stroke-linejoin="round">24</text>
<text transform="matrix(0.566 -0.324 0.693 0.473 436 593)" x="0" y="0" font-size="100" font-weight="bold" letter-spacing="5" fill="#57d898" stroke="#57d898" stroke-width="4.5" stroke-linejoin="round">24</text>
<text transform="matrix(0.566 -0.324 0.693 0.473 436 592)" x="0" y="0" font-size="100" font-weight="bold" letter-spacing="5" fill="#4dd692" stroke="#4dd692" stroke-width="4.5" stroke-linejoin="round">24</text>
<text transform="matrix(0.566 -0.324 0.693 0.473 436 591)" x="0" y="0" font-size="100" font-weight="bold" letter-spacing="5" fill="#44d48d" stroke="#44d48d" stroke-width="4.5" stroke-linejoin="round">24</text>
<text transform="matrix(0.566 -0.324 0.693 0.473 436 590)" x="0" y="0" font-size="100" font-weight="bold" letter-spacing="5" fill="#3dd289" stroke="#3dd289" stroke-width="4.5" stroke-linejoin="round">24</text>
<text transform="matrix(0.566 -0.324 0.693 0.473 436 589)" x="0" y="0" font-size="100" font-weight="bold" letter-spacing="5" fill="#38d085" stroke="#38d085" stroke-width="4.5" stroke-linejoin="round">24</text>
<text transform="matrix(0.566 -0.324 0.693 0.473 436 588)" x="0" y="0" font-size="100" font-weight="bold" letter-spacing="5" fill="#0f7a4a" stroke="#0f7a4a" stroke-width="4.5" stroke-linejoin="round">24</text>
<text transform="matrix(0.212 -0.132 0.2 0.14 467 623.5)" x="0" y="0" font-size="96" font-weight="bold" letter-spacing="5" fill="#c4f5db" stroke="#c4f5db" stroke-width="6" stroke-linejoin="round">Hours</text>
<text transform="matrix(0.212 -0.132 0.2 0.14 467 622.5)" x="0" y="0" font-size="96" font-weight="bold" letter-spacing="5" fill="#afefce" stroke="#afefce" stroke-width="6" stroke-linejoin="round">Hours</text>
<text transform="matrix(0.212 -0.132 0.2 0.14 467 621.5)" x="0" y="0" font-size="96" font-weight="bold" letter-spacing="5" fill="#9beac2" stroke="#9beac2" stroke-width="6" stroke-linejoin="round">Hours</text>
<text transform="matrix(0.212 -0.132 0.2 0.14 467 620.5)" x="0" y="0" font-size="96" font-weight="bold" letter-spacing="5" fill="#88e5b6" stroke="#88e5b6" stroke-width="6" stroke-linejoin="round">Hours</text>
<text transform="matrix(0.212 -0.132 0.2 0.14 467 619.5)" x="0" y="0" font-size="96" font-weight="bold" letter-spacing="5" fill="#77e1ac" stroke="#77e1ac" stroke-width="6" stroke-linejoin="round">Hours</text>
<text transform="matrix(0.212 -0.132 0.2 0.14 467 618.5)" x="0" y="0" font-size="96" font-weight="bold" letter-spacing="5" fill="#67dda2" stroke="#67dda2" stroke-width="6" stroke-linejoin="round">Hours</text>
<text transform="matrix(0.212 -0.132 0.2 0.14 467 617.5)" x="0" y="0" font-size="96" font-weight="bold" letter-spacing="5" fill="#59d99a" stroke="#59d99a" stroke-width="6" stroke-linejoin="round">Hours</text>
<text transform="matrix(0.212 -0.132 0.2 0.14 467 616.5)" x="0" y="0" font-size="96" font-weight="bold" letter-spacing="5" fill="#4cd692" stroke="#4cd692" stroke-width="6" stroke-linejoin="round">Hours</text>
<text transform="matrix(0.212 -0.132 0.2 0.14 467 615.5)" x="0" y="0" font-size="96" font-weight="bold" letter-spacing="5" fill="#41d38b" stroke="#41d38b" stroke-width="6" stroke-linejoin="round">Hours</text>
<text transform="matrix(0.212 -0.132 0.2 0.14 467 614.5)" x="0" y="0" font-size="96" font-weight="bold" letter-spacing="5" fill="#39d186" stroke="#39d186" stroke-width="6" stroke-linejoin="round">Hours</text>
<text transform="matrix(0.212 -0.132 0.2 0.14 467 613.5)" x="0" y="0" font-size="96" font-weight="bold" letter-spacing="5" fill="#0f7a4a" stroke="#0f7a4a" stroke-width="6" stroke-linejoin="round">Hours</text>
<polygon points="316.8,582.8 295.2,569.6 295.2,557.6 316.8,570.8" fill="#4fcf8b"/>
<polygon points="316.8,582.8 362.4,552.7 362.4,540.7 316.8,570.8" fill="#0f8a55"/>
<polygon points="316.8,570.8 295.2,557.6 340.8,527.5 362.4,540.7" fill="#35b877"/>
<polygon points="320,577.5 335,567.5 335,560.5 320,570.5" fill="#5ad492"/>
<circle cx="340" cy="560.5" r="0.8" fill="#8fe5b6"/><circle cx="343.5" cy="558.2" r="0.8" fill="#8fe5b6"/>
<ellipse cx="306" cy="573" rx="3.4" ry="4" fill="#e9fcf2" stroke="#8fdcb8" stroke-width="0.5"/>
<path d="M304.8 535 v22 a7.2 3.8 0 0 0 14.4 0 v-22z" fill="#9fe3c0"/>
<path d="M314 535 v25.5 a7.2 3.8 0 0 0 5.2 -3.5 v-22z" fill="#7fd4ad"/>
<ellipse cx="312" cy="535" rx="7.2" ry="3.8" fill="#c9f3dc" stroke="#7fd4ad" stroke-width="0.5"/>
<ellipse cx="334" cy="537.5" rx="17" ry="9.5" fill="#0f8a55"/>
<path d="M317 535.5 Q317 526 330.5 512 L331 509.5 L338.5 509.5 L339 512 Q351.5 526 351 535.5 A17 9 0 0 1 317 535.5z" fill="#3cc480"/>
<path d="M339 512 Q351.5 526 351 535.5 A17 9 0 0 1 341 544 Q346 528 337 512z" fill="#2fb374"/>
<ellipse cx="334.8" cy="509.6" rx="5.8" ry="2.6" fill="#e9fcf2" stroke="#2a9d6c" stroke-width="0.5"/>
<path d="M334.5 509 Q334 502 338.5 499" fill="none" stroke="#e9fcf2" stroke-width="3" stroke-linecap="round"/>
<rect x="283" y="519" width="4" height="13" fill="#7fe0aa"/>
<rect x="285.6" y="519" width="1.4" height="13" fill="#3db777"/>
<ellipse cx="285" cy="532" rx="2" ry="1" fill="#3db777"/>
<rect x="309.5" y="503" width="4" height="13" fill="#7fe0aa"/>
<rect x="312.1" y="503" width="1.4" height="13" fill="#3db777"/>
<ellipse cx="311.5" cy="516" rx="2" ry="1" fill="#3db777"/>
<polygon points="270.5,495.6 273.5,494 273.5,526.5 270.5,528.1" fill="#bfeed5" stroke="#2c9a6e" stroke-width="0.5" stroke-linejoin="round"/>
<polygon points="270.5,495.6 317.5,466.3 320.5,464.6 273.5,494" fill="#e9fbf2" stroke="#2c9a6e" stroke-width="0.5" stroke-linejoin="round"/>
<polygon points="273.5,494 320.5,464.6 320.5,497.1 273.5,526.5" fill="#fbfffd" stroke="#2c9a6e" stroke-width="0.7" stroke-linejoin="round"/>
<text transform="matrix(1 -0.625 0 1 297 499.2)" x="0" y="0" font-size="9.8" font-weight="bold" text-anchor="middle" fill="#0e6e46">离心去水</text>
<line x1="247" y1="660" x2="244" y2="672" stroke="#0c6e44" stroke-width="1.6"/><line x1="276" y1="664" x2="278.5" y2="676" stroke="#0c6e44" stroke-width="1.6"/><line x1="262" y1="664" x2="262" y2="671" stroke="#0c6e44" stroke-width="1.4"/>
<path d="M243 659 V596 a18.3 17.5 0 0 1 36.6 0 V660 q0 6.5 -18 6.5 q-18.6 0 -18.6 -7.5z" fill="#4fcf8b"/>
<path d="M247.5 661.5 V598 a16 16.5 0 0 1 32.1 -2 V660 q0 6.5 -16 6.5 q-12 0 -16.1 -5z" fill="#0c6e44"/>
<circle cx="251.5" cy="649" r="4.3" fill="#e9fcf2" stroke="#8fdcb8" stroke-width="0.6"/>
<path d="M268.5 619 l4 2.2 l-1 2 l-4 -2.2z" fill="#e9fcf2"/>
<path d="M271.5 622 q2.5 1 2.8 6" fill="none" stroke="#c5d84a" stroke-width="1.3"/>
<polygon points="220,572.4 223,574 223,627 220,625.4" fill="#bfeed5" stroke="#2c9a6e" stroke-width="0.5" stroke-linejoin="round"/>
<polygon points="220,572.4 242.5,583.1 245.5,584.8 223,574" fill="#e9fbf2" stroke="#2c9a6e" stroke-width="0.5" stroke-linejoin="round"/>
<polygon points="223,574 245.5,584.8 245.5,637.8 223,627" fill="#fbfffd" stroke="#2c9a6e" stroke-width="0.7" stroke-linejoin="round"/>
<text transform="matrix(1 0.48 0 1 234.2 593)" x="0" y="0" font-size="10" font-weight="bold" text-anchor="middle" fill="#0e6e46">专</text>
<text transform="matrix(1 0.48 0 1 234.2 604.2)" x="0" y="0" font-size="10" font-weight="bold" text-anchor="middle" fill="#0e6e46">业</text>
<text transform="matrix(1 0.48 0 1 234.2 615.5)" x="0" y="0" font-size="10" font-weight="bold" text-anchor="middle" fill="#0e6e46">品</text>
<text transform="matrix(1 0.48 0 1 234.2 626.7)" x="0" y="0" font-size="10" font-weight="bold" text-anchor="middle" fill="#0e6e46">鉴</text>
<path d="M291 678.5 q1 -3 6 -3.5 l8 -0.5 v3.5 q-7 3.5 -13 2.5z" fill="#0a3f2a"/>
<path d="M309.5 681 l6.5 -1 v4 l-5.5 3z" fill="#0a3f2a"/>
<path d="M295.5 639 L316 640 L316.5 681 L310 682 L306 652 L304 676 L296.5 676 Z" fill="#0f5c3c"/>
<path d="M306 652 L304 676 L300 676 L302 646z" fill="#0c4c32"/>
<path d="M293 612 Q297 607.5 301 607.5 L308 607.5 Q314 609 316.5 614 L316.5 628 L312 629.5 L313 640.5 L295 639.5 L294 622 Z" fill="#b4dfc5" stroke="#2a7d5a" stroke-width="0.5"/>
<path d="M300.5 608 L302.5 639" fill="none" stroke="#6fb595" stroke-width="0.5"/>
<path d="M309.5 616 L316.5 614 L316.5 628 L310.5 630z" fill="#a3d4b8" stroke="#2a7d5a" stroke-width="0.4"/>
<path d="M310.5 629.5 L313.8 629 L311 636.5 L294 640 L289 638.5 L291 636.5 L307 634z" fill="#f8e8cf" stroke="#b58a5a" stroke-width="0.3"/>
<path d="M294.5 621 L295 627 L284 634 L281 633 L282 631z" fill="#f8e8cf" stroke="#b58a5a" stroke-width="0.3"/>
<polygon points="279,632.5 289,637.5 293.5,636 283.5,631.5" fill="#a5e3cc" stroke="#2a9d6c" stroke-width="0.4" stroke-linejoin="round"/>
<path d="M272.7 628.5 l4 1 l-0.5 6.5 q-2 1.2 -4 0z" fill="#b5c92a" opacity="0.9"/>
<path d="M270 620.5 l3.2 3.6 l-1.6 1.2 l-3 -3.4z" fill="#c9f3dc"/>
<path d="M272.8 624.5 q1.8 2 1.7 5" fill="none" stroke="#a9c126" stroke-width="1.4"/>
<path d="M300.5 605 h5 v4.5 l-3 2 l-2 -2z" fill="#f5e2c6"/>
<ellipse cx="302.6" cy="602.8" rx="5.4" ry="6.4" fill="#f8e8cf"/>
<path d="M297 600 Q296.5 593.5 303.5 594 Q310 594.5 309.5 601.5 Q309 605 306.8 606 Q307.5 601.5 305 599.5 Q301 600 297.3 599.5z" fill="#0c3d28"/>
<polygon points="443,769.5 423,759.5 423,747.5 443,757.5" fill="#2fb374"/>
<polygon points="443,769.5 474,750.3 474,738.3 443,757.5" fill="#0f8a55"/>
<polygon points="443,757.5 423,747.5 454,728.3 474,738.3" fill="#0f8a55"/>
<ellipse cx="316.7" cy="769.5" rx="5.5" ry="2.7" fill="#d6f8e6" stroke="#1f9162" stroke-width="0.5"/>
<rect x="313.4" y="748" width="6.5" height="21" fill="#2fb377"/>
<rect x="317.7" y="748" width="2.3" height="21" fill="#118c57"/>
<ellipse cx="316.7" cy="769" rx="3.2" ry="1.6" fill="#2fb377"/>
<ellipse cx="347" cy="785.5" rx="5.5" ry="2.7" fill="#d6f8e6" stroke="#1f9162" stroke-width="0.5"/>
<rect x="343.8" y="764" width="6.5" height="21" fill="#2fb377"/>
<rect x="348" y="764" width="2.3" height="21" fill="#118c57"/>
<ellipse cx="347" cy="785" rx="3.2" ry="1.6" fill="#2fb377"/>
<polygon points="338,672 372.7,686.7 412.7,670.7 378,656" fill="#6ad69a"/>
<polygon points="372.7,686.7 412.7,670.7 422,681.9 382,697.3" fill="#17a063"/>
<polygon points="382,697.3 422,681.9 422,737.3 382,753.3" fill="#0f8a55"/>
<polygon points="338,730.7 338,672 372.7,686.7 382,697.3 382,753.3" fill="#45c985"/>
<path d="M338 730 V672 L378 656" fill="none" stroke="#a5ecc5" stroke-width="0.7"/>
<path d="M388.4 699.7 a6 6.3 -20 0 1 11.2 -4.4 z" fill="#e9fcf2" stroke="#0c6e44" stroke-width="0.6"/>
<line x1="394" y1="697.5" x2="396.5" y2="693" stroke="#0c6e44" stroke-width="0.5"/>
<path d="M405.7 688.7 a6 6.3 -20 0 1 11.2 -4.4 z" fill="#e9fcf2" stroke="#0c6e44" stroke-width="0.6"/>
<line x1="411.3" y1="686.5" x2="413.8" y2="682" stroke="#0c6e44" stroke-width="0.5"/>
<polygon points="390,709.3 408.7,701.3 408.7,716 390,725.3" fill="#bfe9d4" stroke="#0c6e44" stroke-width="0.6" stroke-linejoin="round"/>
<circle cx="412.8" cy="698.3" r="1" fill="#5ad492"/><circle cx="417" cy="696.6" r="1" fill="#5ad492"/>
<polygon points="344.2,688.1 343,689.8 341.7,691.6 340.4,693.4 339.1,695.2 337.8,697 336.5,698.8 335.2,700.6 334,702.4 332.8,704.1 331.6,705.8 330.4,707.4 329.3,709.1 328.1,710.7 326.9,712.3 325.7,713.9 324.5,715.4 323.4,716.9 322.3,718.2 321.4,719.5 320.5,720.8 319.8,721.9 319.2,722.9 318.8,723.8 318.5,724.7 318.2,725.6 318,726.5 317.8,727.3 317.8,728 317.8,728.7 317.8,729.2 317.9,729.7 318.1,730.2 318.3,730.7 318.6,731.1 319,731.6 319.5,732.1 320,732.5 320.7,733 321.6,733.5 322.7,734.1 324.1,734.7 325.6,735.4 327.4,736.1 329.3,736.9 331.3,737.7 333.4,738.6 335.7,739.5 337.9,740.5 340.1,741.4 342.4,742.4 344.8,743.4 347.3,744.5 349.9,745.5 352.5,746.6 355.1,747.7 357.7,748.8 360.3,749.9 362.9,750.9 365.3,751.9 367.7,752.9 370.1,753.9 372.5,754.9 374.9,755.9 377.1,756.9 379.3,757.9 381.4,758.8 383.4,759.7 385.3,760.4 387,761.1 388.4,761.6 389.6,761.9 390.5,762.2 391.5,762.4 392.4,762.6 392.7,762.6 392.4,762.6 391.5,762.6 390.2,762.7 389,762.8 388.3,763 388.1,763.1 388.5,762.9 389.3,762.6 390.3,762.1 391.3,761.6 392.4,760.9 393.8,760 395.3,759 397,757.8 398.8,756.5 400.6,755.1 402.6,753.6 404.5,752.1 406.6,750.6 408.6,749.1 410.7,747.6 412.7,746.1 414.8,744.6 416.9,743.2 419.1,741.7 421.2,740.2 423.3,738.7 425.5,737.1 427.6,735.7 429.6,734.2 431.6,732.7 433.5,731.3 435.3,729.9 437,728.5 438.7,727 440.5,725.5 442.2,724 443.9,722.5 445.6,721 447.2,719.5 448.8,718 450.4,716.6 452,715.2 453.6,713.8 455,712.6 456.3,711.5 457.5,710.5 458.6,709.5 459.7,708.5 460.8,707.5 461.9,706.5 463.1,705.5 464.4,704.5 465.8,703.5 467.5,702.5 469.3,701.5 471.3,700.6 473.4,699.9 475.4,699.2 477.5,698.6 479.8,698.2 482.1,697.8 484.4,697.6 486.7,697.5 488.9,697.6 491.1,697.7 493.2,697.9 495.2,698.2 497.3,698.6 499.6,699.2 501.7,699.9 503.6,700.6 505.3,701.4 507,702.2 508.5,703 510,703.7 511.4,704.5 512.8,705.3 514.1,706 515.3,706.6 516.6,707.3 517.9,707.9 519.3,708.7 520.7,709.4 522.1,710.1 523.4,710.8 524.8,711.6 526.1,712.3 527.5,713 528.8,713.7 530.1,714.5 531.4,715.2 532.8,715.9 515.2,726.1 513.9,725.4 512.5,724.7 511.2,724 509.9,723.2 508.5,722.5 507.2,721.8 505.9,721.1 504.6,720.4 503.3,719.7 502,719.1 500.8,718.4 499.4,717.7 498,717 496.5,716.2 495.1,715.4 493.8,714.7 492.5,714 491.2,713.4 490.1,712.8 489,712.3 488.1,711.9 487.4,711.6 487,711.4 486.7,711.4 486.3,711.3 485.9,711.2 485.6,711.2 485.4,711.2 485.3,711.2 485.3,711.2 485.3,711.2 485.3,711.2 485.2,711.2 485.1,711.2 484.9,711.3 484.7,711.4 484.5,711.5 484.3,711.6 483.8,711.8 483.3,712.2 482.6,712.8 481.8,713.4 481,714.2 480,715.1 478.9,716 477.7,717.1 476.3,718.3 475,719.4 473.6,720.6 472.2,721.8 470.8,723.1 469.2,724.5 467.6,726 465.9,727.5 464.2,729.1 462.4,730.7 460.6,732.3 458.7,733.9 456.7,735.5 454.7,737.1 452.7,738.7 450.6,740.3 448.5,741.9 446.3,743.5 444.1,745 441.9,746.6 439.7,748.1 437.5,749.7 435.4,751.2 433.3,752.6 431.3,754.1 429.3,755.4 427.5,756.8 425.6,758.2 423.6,759.7 421.7,761.1 419.7,762.6 417.7,764.1 415.8,765.6 413.8,767 411.8,768.3 409.8,769.6 407.7,770.8 405.7,771.9 404,772.7 402.4,773.5 400.7,774.2 398.6,774.9 396.1,775.6 393.1,776 390.1,776.2 387.4,776.2 385.1,775.9 383.1,775.6 381.4,775.3 379.5,774.8 377.2,774.2 374.8,773.5 372.5,772.7 370.2,771.8 367.9,770.9 365.7,769.9 363.4,768.9 361.2,768 358.9,767 356.7,766 354.5,765 352.3,764.1 350,763.2 347.5,762.2 345,761.1 342.3,760.1 339.7,759 337,757.9 334.4,756.8 331.7,755.7 329.2,754.6 326.7,753.5 324.3,752.5 322.1,751.5 320.1,750.7 318.1,749.9 316.1,749 314,748.2 312,747.4 309.9,746.5 307.9,745.6 305.9,744.7 303.9,743.7 301.9,742.5 300.1,741.3 298.5,739.9 297.2,738.6 296.1,737.2 295.2,735.9 294.4,734.5 293.9,733.1 293.6,731.6 293.5,730.2 293.5,728.8 293.6,727.5 293.8,726.1 294.1,724.7 294.5,723.3 295.1,721.7 295.9,720.1 296.8,718.5 297.8,716.9 298.9,715.4 300,713.9 301.1,712.4 302.3,710.9 303.4,709.4 304.6,707.9 305.7,706.4 306.7,704.9 307.9,703.4 309,701.7 310.3,700 311.5,698.2 312.8,696.5 314.1,694.7 315.3,692.9 316.6,691.1 317.9,689.3 319.2,687.5 320.5,685.7 321.8,683.9" fill="#d4f6e4" stroke="#1f9162" stroke-width="0.6" stroke-linejoin="round"/>
<polygon points="344.2,685.1 343,686.8 341.7,688.6 340.4,690.4 339.1,692.2 337.8,694 336.5,695.8 335.2,697.6 334,699.4 332.8,701.1 331.6,702.8 330.4,704.4 329.3,706.1 328.1,707.7 326.9,709.3 325.7,710.9 324.5,712.4 323.4,713.9 322.3,715.2 321.4,716.5 320.5,717.8 319.8,718.9 319.2,719.9 318.8,720.8 318.5,721.7 318.2,722.6 318,723.5 317.8,724.3 317.8,725 317.8,725.7 317.8,726.2 317.9,726.7 318.1,727.2 318.3,727.7 318.6,728.1 319,728.6 319.5,729.1 320,729.5 320.7,730 321.6,730.5 322.7,731.1 324.1,731.7 325.6,732.4 327.4,733.1 329.3,733.9 331.3,734.7 333.4,735.6 335.7,736.5 337.9,737.5 340.1,738.4 342.4,739.4 344.8,740.4 347.3,741.5 349.9,742.5 352.5,743.6 355.1,744.7 357.7,745.8 360.3,746.9 362.9,747.9 365.3,748.9 367.7,749.9 370.1,750.9 372.5,751.9 374.9,752.9 377.1,753.9 379.3,754.9 381.4,755.8 383.4,756.7 385.3,757.4 387,758.1 388.4,758.6 389.6,758.9 390.5,759.2 391.5,759.4 392.4,759.6 392.7,759.6 392.4,759.6 391.5,759.6 390.2,759.7 389,759.8 388.3,760 388.1,760.1 388.5,759.9 389.3,759.6 390.3,759.1 391.3,758.6 392.4,757.9 393.8,757 395.3,756 397,754.8 398.8,753.5 400.6,752.1 402.6,750.6 404.5,749.1 406.6,747.6 408.6,746.1 410.7,744.6 412.7,743.1 414.8,741.6 416.9,740.2 419.1,738.7 421.2,737.2 423.3,735.7 425.5,734.1 427.6,732.7 429.6,731.2 431.6,729.7 433.5,728.3 435.3,726.9 437,725.5 438.7,724 440.5,722.5 442.2,721 443.9,719.5 445.6,718 447.2,716.5 448.8,715 450.4,713.6 452,712.2 453.6,710.8 455,709.6 456.3,708.5 457.5,707.5 458.6,706.5 459.7,705.5 460.8,704.5 461.9,703.5 463.1,702.5 464.4,701.5 465.8,700.5 467.5,699.5 469.3,698.5 471.3,697.6 473.4,696.9 475.4,696.2 477.5,695.6 479.8,695.2 482.1,694.8 484.4,694.6 486.7,694.5 488.9,694.6 491.1,694.7 493.2,694.9 495.2,695.2 497.3,695.6 499.6,696.2 501.7,696.9 503.6,697.6 505.3,698.4 507,699.2 508.5,700 510,700.7 511.4,701.5 512.8,702.3 514.1,703 515.3,703.6 516.6,704.3 517.9,704.9 519.3,705.7 520.7,706.4 522.1,707.1 523.4,707.8 524.8,708.6 526.1,709.3 527.5,710 528.8,710.7 530.1,711.5 531.4,712.2 532.8,712.9 515.2,723.1 513.9,722.4 512.5,721.7 511.2,721 509.9,720.2 508.5,719.5 507.2,718.8 505.9,718.1 504.6,717.4 503.3,716.7 502,716.1 500.8,715.4 499.4,714.7 498,714 496.5,713.2 495.1,712.4 493.8,711.7 492.5,711 491.2,710.4 490.1,709.8 489,709.3 488.1,708.9 487.4,708.6 487,708.4 486.7,708.4 486.3,708.3 485.9,708.2 485.6,708.2 485.4,708.2 485.3,708.2 485.3,708.2 485.3,708.2 485.3,708.2 485.2,708.2 485.1,708.2 484.9,708.3 484.7,708.4 484.5,708.5 484.3,708.6 483.8,708.8 483.3,709.2 482.6,709.8 481.8,710.4 481,711.2 480,712.1 478.9,713 477.7,714.1 476.3,715.3 475,716.4 473.6,717.6 472.2,718.8 470.8,720.1 469.2,721.5 467.6,723 465.9,724.5 464.2,726.1 462.4,727.7 460.6,729.3 458.7,730.9 456.7,732.5 454.7,734.1 452.7,735.7 450.6,737.3 448.5,738.9 446.3,740.5 444.1,742 441.9,743.6 439.7,745.1 437.5,746.7 435.4,748.2 433.3,749.6 431.3,751.1 429.3,752.4 427.5,753.8 425.6,755.2 423.6,756.7 421.7,758.1 419.7,759.6 417.7,761.1 415.8,762.6 413.8,764 411.8,765.3 409.8,766.6 407.7,767.8 405.7,768.9 404,769.7 402.4,770.5 400.7,771.2 398.6,771.9 396.1,772.6 393.1,773 390.1,773.2 387.4,773.2 385.1,772.9 383.1,772.6 381.4,772.3 379.5,771.8 377.2,771.2 374.8,770.5 372.5,769.7 370.2,768.8 367.9,767.9 365.7,766.9 363.4,765.9 361.2,765 358.9,764 356.7,763 354.5,762 352.3,761.1 350,760.2 347.5,759.2 345,758.1 342.3,757.1 339.7,756 337,754.9 334.4,753.8 331.7,752.7 329.2,751.6 326.7,750.5 324.3,749.5 322.1,748.5 320.1,747.7 318.1,746.9 316.1,746 314,745.2 312,744.4 309.9,743.5 307.9,742.6 305.9,741.7 303.9,740.7 301.9,739.5 300.1,738.3 298.5,736.9 297.2,735.6 296.1,734.2 295.2,732.9 294.4,731.5 293.9,730.1 293.6,728.6 293.5,727.2 293.5,725.8 293.6,724.5 293.8,723.1 294.1,721.7 294.5,720.3 295.1,718.7 295.9,717.1 296.8,715.5 297.8,713.9 298.9,712.4 300,710.9 301.1,709.4 302.3,707.9 303.4,706.4 304.6,704.9 305.7,703.4 306.7,701.9 307.9,700.4 309,698.7 310.3,697 311.5,695.2 312.8,693.5 314.1,691.7 315.3,689.9 316.6,688.1 317.9,686.3 319.2,684.5 320.5,682.7 321.8,680.9" fill="#bdf0d4" stroke="#2a9d6c" stroke-width="0.5" stroke-linejoin="round"/>
<polyline points="342.6,684.8 341.3,686.5 340,688.3 338.7,690.1 337.4,691.9 336.1,693.7 334.8,695.5 333.6,697.3 332.3,699.1 331.1,700.8 329.9,702.5 328.7,704.1 327.6,705.7 326.4,707.4 325.2,709 324,710.6 322.8,712.1 321.7,713.5 320.6,714.9 319.7,716.2 318.8,717.5 318.1,718.6 317.5,719.7 317,720.7 316.7,721.6 316.4,722.6 316.2,723.5 316,724.3 315.9,725.1 315.9,725.8 316,726.4 316.1,727 316.3,727.5 316.6,728 316.9,728.6 317.4,729.1 317.9,729.7 318.5,730.2 319.3,730.7 320.3,731.3 321.5,731.9 322.9,732.5 324.5,733.2 326.2,734 328.1,734.7 330.2,735.6 332.3,736.4 334.5,737.3 336.7,738.3 338.9,739.3 341.2,740.2 343.6,741.3 346.1,742.3 348.7,743.4 351.3,744.5 353.9,745.6 356.6,746.6 359.2,747.7 361.7,748.7 364.2,749.7 366.6,750.7 368.9,751.7 371.3,752.7 373.7,753.8 375.9,754.8 378.1,755.7 380.3,756.7 382.3,757.5 384.2,758.3 385.9,758.9 387.4,759.5 388.6,759.9 389.7,760.1 390.8,760.4 391.7,760.5 392.1,760.6 392,760.6 391.4,760.6 390.4,760.7 389.6,760.8 389.1,760.9 389.1,760.9 389.6,760.7 390.4,760.3 391.5,759.8 392.5,759.3 393.7,758.6 395.1,757.6 396.7,756.6 398.4,755.4 400.2,754 402.1,752.6 404,751.2 406,749.7 408,748.2 410,746.6 412.1,745.2 414.1,743.7 416.2,742.2 418.3,740.8 420.4,739.3 422.6,737.8 424.7,736.3 426.9,734.7 429,733.2 431,731.7 433,730.3 434.9,728.8 436.7,727.4 438.5,726 440.2,724.5 442,723.1 443.7,721.5 445.4,720 447.1,718.5 448.7,717 450.4,715.5 452,714.1 453.5,712.7 455.1,711.3 456.5,710.1 457.8,709 459,708 460.1,707 461.2,706 462.3,705 463.4,704 464.6,703.1 465.8,702.1 467.2,701.2 468.7,700.2 470.5,699.3 472.3,698.4 474.2,697.7 476.1,697.1 478.1,696.6 480.2,696.2 482.3,695.8 484.4,695.6 486.6,695.6 488.6,695.6 490.7,695.7 492.7,695.9 494.6,696.2 496.5,696.6 498.6,697.1 500.6,697.8 502.4,698.5 504.1,699.2 505.7,700 507.2,700.7 508.7,701.5 510.1,702.3 511.5,703 512.8,703.7 514,704.4 515.3,705.1 516.6,705.7 518,706.4 519.4,707.2 520.8,707.9 522.1,708.6 523.5,709.3 524.8,710.1 526.2,710.8 527.5,711.5 528.8,712.2 530.1,712.9 531.4,713.6" fill="none" stroke="#4fbf8a" stroke-width="0.6"/>
<polyline points="323.4,681.2 322.2,683 320.9,684.8 319.6,686.6 318.3,688.4 317,690.2 315.7,692 314.5,693.8 313.2,695.5 311.9,697.3 310.7,699 309.6,700.7 308.4,702.3 307.4,703.8 306.3,705.2 305.1,706.7 304,708.2 302.8,709.7 301.7,711.2 300.6,712.7 299.5,714.2 298.5,715.8 297.7,717.3 296.9,718.9 296.3,720.4 295.9,721.8 295.6,723.1 295.4,724.5 295.3,725.8 295.3,727.1 295.4,728.5 295.7,729.8 296.2,731.1 296.9,732.5 297.8,733.8 298.8,735 300.1,736.3 301.6,737.6 303.3,738.8 305.2,739.9 307.1,740.9 309.1,741.8 311.1,742.7 313.1,743.5 315.2,744.4 317.2,745.2 319.2,746 321.2,746.8 323.3,747.7 325.5,748.7 327.9,749.7 330.3,750.8 332.9,751.8 335.5,752.9 338.2,754 340.8,755.1 343.5,756.2 346.1,757.3 348.7,758.3 351.1,759.3 353.4,760.3 355.6,761.2 357.9,762.2 360.1,763.1 362.4,764.1 364.6,765.1 366.9,766.1 369.1,767 371.3,768 373.6,768.8 375.8,769.6 378.1,770.3 380.3,770.9 382.2,771.3 383.8,771.6 385.6,771.9 387.8,772.1 390.2,772.2 392.9,772 395.6,771.6 397.8,771 399.7,770.3 401.4,769.7 402.9,769 404.5,768.2 406.5,767.1 408.5,766 410.5,764.7 412.4,763.4 414.4,762 416.3,760.5 418.3,759.1 420.2,757.6 422.2,756.1 424.1,754.6 426,753.2 427.9,751.8 429.9,750.5 431.9,749 434,747.6 436.1,746.1 438.3,744.5 440.5,743 442.7,741.4 444.9,739.9 447,738.3 449.2,736.7 451.2,735.2 453.3,733.6 455.2,732 457.2,730.4 459.1,728.8 460.9,727.2 462.7,725.6 464.4,724 466.1,722.5 467.7,721 469.3,719.6 470.7,718.3 472.1,717.1 473.5,715.9 474.8,714.8 476.2,713.6 477.3,712.5 478.4,711.6 479.4,710.7 480.3,709.9 481.2,709.2 481.9,708.7 482.5,708.2 483,707.9 483.4,707.7 483.7,707.6 484,707.4 484.4,707.3 484.6,707.3 484.9,707.2 485,707.2 485.2,707.2 485.4,707.2 485.6,707.2 486,707.2 486.4,707.2 487,707.3 487.5,707.4 487.9,707.5 488.5,707.7 489.3,708 490.3,708.5 491.4,709 492.5,709.6 493.8,710.2 495.1,710.9 496.4,711.7 497.8,712.4 499.3,713.2 500.7,713.9 502,714.6 503.3,715.3 504.6,715.9 505.9,716.6 507.2,717.3 508.5,718 509.8,718.8 511.2,719.5 512.5,720.2 513.9,720.9 515.2,721.6 516.6,722.4" fill="none" stroke="#4fbf8a" stroke-width="0.6"/>
<line x1="337.4" y1="691.9" x2="318.3" y2="688.4" stroke="#4fbf8a" stroke-width="0.6"/>
<line x1="332.3" y1="699.1" x2="313.2" y2="695.5" stroke="#4fbf8a" stroke-width="0.6"/>
<line x1="327.6" y1="705.7" x2="308.4" y2="702.3" stroke="#4fbf8a" stroke-width="0.6"/>
<line x1="322.8" y1="712.1" x2="304" y2="708.2" stroke="#4fbf8a" stroke-width="0.6"/>
<line x1="318.8" y1="717.5" x2="299.5" y2="714.2" stroke="#4fbf8a" stroke-width="0.6"/>
<line x1="316.4" y1="722.6" x2="295.9" y2="721.8" stroke="#4fbf8a" stroke-width="0.6"/>
<line x1="316.3" y1="727.5" x2="296.2" y2="731.1" stroke="#4fbf8a" stroke-width="0.6"/>
<line x1="319.3" y1="730.7" x2="303.3" y2="738.8" stroke="#4fbf8a" stroke-width="0.6"/>
<line x1="324.5" y1="733.2" x2="311.1" y2="742.7" stroke="#4fbf8a" stroke-width="0.6"/>
<line x1="332.3" y1="736.4" x2="319.2" y2="746" stroke="#4fbf8a" stroke-width="0.6"/>
<line x1="341.2" y1="740.2" x2="327.9" y2="749.7" stroke="#4fbf8a" stroke-width="0.6"/>
<line x1="348.7" y1="743.4" x2="335.5" y2="752.9" stroke="#4fbf8a" stroke-width="0.6"/>
<line x1="356.6" y1="746.6" x2="343.5" y2="756.2" stroke="#4fbf8a" stroke-width="0.6"/>
<line x1="364.2" y1="749.7" x2="351.1" y2="759.3" stroke="#4fbf8a" stroke-width="0.6"/>
<line x1="371.3" y1="752.7" x2="357.9" y2="762.2" stroke="#4fbf8a" stroke-width="0.6"/>
<line x1="378.1" y1="755.7" x2="364.6" y2="765.1" stroke="#4fbf8a" stroke-width="0.6"/>
<line x1="385.9" y1="758.9" x2="373.6" y2="768.8" stroke="#4fbf8a" stroke-width="0.6"/>
<line x1="390.8" y1="760.4" x2="382.2" y2="771.3" stroke="#4fbf8a" stroke-width="0.6"/>
<line x1="389.1" y1="760.9" x2="397.8" y2="771" stroke="#4fbf8a" stroke-width="0.6"/>
<line x1="393.7" y1="758.6" x2="408.5" y2="766" stroke="#4fbf8a" stroke-width="0.6"/>
<line x1="400.2" y1="754" x2="416.3" y2="760.5" stroke="#4fbf8a" stroke-width="0.6"/>
<line x1="406" y1="749.7" x2="422.2" y2="756.1" stroke="#4fbf8a" stroke-width="0.6"/>
<line x1="412.1" y1="745.2" x2="427.9" y2="751.8" stroke="#4fbf8a" stroke-width="0.6"/>
<line x1="418.3" y1="740.8" x2="434" y2="747.6" stroke="#4fbf8a" stroke-width="0.6"/>
<line x1="424.7" y1="736.3" x2="440.5" y2="743" stroke="#4fbf8a" stroke-width="0.6"/>
<line x1="431" y1="731.7" x2="447" y2="738.3" stroke="#4fbf8a" stroke-width="0.6"/>
<line x1="436.7" y1="727.4" x2="453.3" y2="733.6" stroke="#4fbf8a" stroke-width="0.6"/>
<line x1="442" y1="723.1" x2="459.1" y2="728.8" stroke="#4fbf8a" stroke-width="0.6"/>
<line x1="447.1" y1="718.5" x2="464.4" y2="724" stroke="#4fbf8a" stroke-width="0.6"/>
<line x1="453.5" y1="712.7" x2="470.7" y2="718.3" stroke="#4fbf8a" stroke-width="0.6"/>
<line x1="459" y1="708" x2="476.2" y2="713.6" stroke="#4fbf8a" stroke-width="0.6"/>
<line x1="464.6" y1="703.1" x2="481.2" y2="709.2" stroke="#4fbf8a" stroke-width="0.6"/>
<line x1="474.2" y1="697.7" x2="484" y2="707.4" stroke="#4fbf8a" stroke-width="0.6"/>
<line x1="488.6" y1="695.6" x2="485.6" y2="707.2" stroke="#4fbf8a" stroke-width="0.6"/>
<line x1="500.6" y1="697.8" x2="488.5" y2="707.7" stroke="#4fbf8a" stroke-width="0.6"/>
<line x1="508.7" y1="701.5" x2="493.8" y2="710.2" stroke="#4fbf8a" stroke-width="0.6"/>
<line x1="515.3" y1="705.1" x2="500.7" y2="713.9" stroke="#4fbf8a" stroke-width="0.6"/>
<line x1="522.1" y1="708.6" x2="507.2" y2="717.3" stroke="#4fbf8a" stroke-width="0.6"/>
<line x1="528.8" y1="712.2" x2="513.9" y2="720.9" stroke="#4fbf8a" stroke-width="0.6"/>
<path d="M344.3 707 q-5.5 1.5 -5.5 8" fill="none" stroke="#7fbf9f" stroke-width="3"/>
<path d="M344.3 707 q-5.5 1.5 -5.5 8" fill="none" stroke="#ecfaf3" stroke-width="2.1"/>
<line x1="338.8" y1="715.5" x2="338.8" y2="719" stroke="#a9c126" stroke-width="0.9"/>
<path d="M352.3 711 q-5.5 1.5 -5.5 8" fill="none" stroke="#7fbf9f" stroke-width="3"/>
<path d="M352.3 711 q-5.5 1.5 -5.5 8" fill="none" stroke="#ecfaf3" stroke-width="2.1"/>
<line x1="346.8" y1="719.5" x2="346.8" y2="723" stroke="#a9c126" stroke-width="0.9"/>
<path d="M360.3 715 q-5.5 1.5 -5.5 8" fill="none" stroke="#7fbf9f" stroke-width="3"/>
<path d="M360.3 715 q-5.5 1.5 -5.5 8" fill="none" stroke="#ecfaf3" stroke-width="2.1"/>
<line x1="354.8" y1="723.5" x2="354.8" y2="727" stroke="#a9c126" stroke-width="0.9"/>
<path d="M368.3 717.7 q-5.5 1.5 -5.5 8" fill="none" stroke="#7fbf9f" stroke-width="3"/>
<path d="M368.3 717.7 q-5.5 1.5 -5.5 8" fill="none" stroke="#ecfaf3" stroke-width="2.1"/>
<line x1="362.8" y1="726.2" x2="362.8" y2="729.7" stroke="#a9c126" stroke-width="0.9"/>
<path d="M377.7 721.7 q-5.5 1.5 -5.5 8" fill="none" stroke="#7fbf9f" stroke-width="3"/>
<path d="M377.7 721.7 q-5.5 1.5 -5.5 8" fill="none" stroke="#ecfaf3" stroke-width="2.1"/>
<line x1="372.2" y1="730.2" x2="372.2" y2="733.7" stroke="#a9c126" stroke-width="0.9"/>
<path d="M322.8 704 v-11.5 q0 -2.5 1.2 -4 l1.4 -3 v-4.3 h2.2 v4.3 l1.4 3 q1.2 1.5 1.2 4 v11.5 a3.7 1.6 0 0 1 -7.4 0z" fill="#5e7d1c"/>
<path d="M322.8 704 v-11.5 q0 -2.5 1.2 -4 l1.4 -3 v-4.3 h0.9 z" fill="#7c9a2a"/>
<rect x="325.2" y="680.2" width="2.6" height="1.6" fill="#2f4f12"/>
<path d="M322.8 700.8 v-7 a3.7 1.4 0 0 0 7.4 0 v7 a3.7 1.4 0 0 1 -7.4 0z" fill="#e9eda0"/>
<ellipse cx="326.5" cy="698.4" rx="1.5" ry="1.9" fill="#8aa62a"/>
<path d="M306.8 717.5 v-11.5 q0 -2.5 1.2 -4 l1.4 -3 v-4.3 h2.2 v4.3 l1.4 3 q1.2 1.5 1.2 4 v11.5 a3.7 1.6 0 0 1 -7.4 0z" fill="#5e7d1c"/>
<path d="M306.8 717.5 v-11.5 q0 -2.5 1.2 -4 l1.4 -3 v-4.3 h0.9 z" fill="#7c9a2a"/>
<rect x="309.2" y="693.7" width="2.6" height="1.6" fill="#2f4f12"/>
<path d="M306.8 714.3 v-7 a3.7 1.4 0 0 0 7.4 0 v7 a3.7 1.4 0 0 1 -7.4 0z" fill="#e9eda0"/>
<ellipse cx="310.5" cy="711.9" rx="1.5" ry="1.9" fill="#8aa62a"/>
<path d="M315.8 732.5 v-11.5 q0 -2.5 1.2 -4 l1.4 -3 v-4.3 h2.2 v4.3 l1.4 3 q1.2 1.5 1.2 4 v11.5 a3.7 1.6 0 0 1 -7.4 0z" fill="#5e7d1c"/>
<path d="M315.8 732.5 v-11.5 q0 -2.5 1.2 -4 l1.4 -3 v-4.3 h0.9 z" fill="#7c9a2a"/>
<rect x="318.2" y="708.7" width="2.6" height="1.6" fill="#2f4f12"/>
<path d="M315.8 729.3 v-7 a3.7 1.4 0 0 0 7.4 0 v7 a3.7 1.4 0 0 1 -7.4 0z" fill="#e9eda0"/>
<ellipse cx="319.5" cy="726.9" rx="1.5" ry="1.9" fill="#8aa62a"/>
<path d="M333.3 743 v-11.5 q0 -2.5 1.2 -4 l1.4 -3 v-4.3 h2.2 v4.3 l1.4 3 q1.2 1.5 1.2 4 v11.5 a3.7 1.6 0 0 1 -7.4 0z" fill="#5e7d1c"/>
<path d="M333.3 743 v-11.5 q0 -2.5 1.2 -4 l1.4 -3 v-4.3 h0.9 z" fill="#7c9a2a"/>
<rect x="335.7" y="719.2" width="2.6" height="1.6" fill="#2f4f12"/>
<path d="M333.3 739.8 v-7 a3.7 1.4 0 0 0 7.4 0 v7 a3.7 1.4 0 0 1 -7.4 0z" fill="#e9eda0"/>
<ellipse cx="337" cy="737.4" rx="1.5" ry="1.9" fill="#8aa62a"/>
<path d="M340.3 746 v-11.5 q0 -2.5 1.2 -4 l1.4 -3 v-4.3 h2.2 v4.3 l1.4 3 q1.2 1.5 1.2 4 v11.5 a3.7 1.6 0 0 1 -7.4 0z" fill="#5e7d1c"/>
<path d="M340.3 746 v-11.5 q0 -2.5 1.2 -4 l1.4 -3 v-4.3 h0.9 z" fill="#7c9a2a"/>
<rect x="342.7" y="722.2" width="2.6" height="1.6" fill="#2f4f12"/>
<path d="M340.3 742.8 v-7 a3.7 1.4 0 0 0 7.4 0 v7 a3.7 1.4 0 0 1 -7.4 0z" fill="#e9eda0"/>
<ellipse cx="344" cy="740.4" rx="1.5" ry="1.9" fill="#8aa62a"/>
<path d="M347.8 750 v-11.5 q0 -2.5 1.2 -4 l1.4 -3 v-4.3 h2.2 v4.3 l1.4 3 q1.2 1.5 1.2 4 v11.5 a3.7 1.6 0 0 1 -7.4 0z" fill="#5e7d1c"/>
<path d="M347.8 750 v-11.5 q0 -2.5 1.2 -4 l1.4 -3 v-4.3 h0.9 z" fill="#7c9a2a"/>
<rect x="350.2" y="726.2" width="2.6" height="1.6" fill="#2f4f12"/>
<path d="M347.8 746.8 v-7 a3.7 1.4 0 0 0 7.4 0 v7 a3.7 1.4 0 0 1 -7.4 0z" fill="#e9eda0"/>
<ellipse cx="351.5" cy="744.4" rx="1.5" ry="1.9" fill="#8aa62a"/>
<path d="M355.8 752.5 v-11.5 q0 -2.5 1.2 -4 l1.4 -3 v-4.3 h2.2 v4.3 l1.4 3 q1.2 1.5 1.2 4 v11.5 a3.7 1.6 0 0 1 -7.4 0z" fill="#5e7d1c"/>
<path d="M355.8 752.5 v-11.5 q0 -2.5 1.2 -4 l1.4 -3 v-4.3 h0.9 z" fill="#7c9a2a"/>
<rect x="358.2" y="728.7" width="2.6" height="1.6" fill="#2f4f12"/>
<path d="M355.8 749.3 v-7 a3.7 1.4 0 0 0 7.4 0 v7 a3.7 1.4 0 0 1 -7.4 0z" fill="#e9eda0"/>
<ellipse cx="359.5" cy="746.9" rx="1.5" ry="1.9" fill="#8aa62a"/>
<path d="M363.8 757 v-11.5 q0 -2.5 1.2 -4 l1.4 -3 v-4.3 h2.2 v4.3 l1.4 3 q1.2 1.5 1.2 4 v11.5 a3.7 1.6 0 0 1 -7.4 0z" fill="#5e7d1c"/>
<path d="M363.8 757 v-11.5 q0 -2.5 1.2 -4 l1.4 -3 v-4.3 h0.9 z" fill="#7c9a2a"/>
<rect x="366.2" y="733.2" width="2.6" height="1.6" fill="#2f4f12"/>
<path d="M363.8 753.8 v-7 a3.7 1.4 0 0 0 7.4 0 v7 a3.7 1.4 0 0 1 -7.4 0z" fill="#e9eda0"/>
<ellipse cx="367.5" cy="751.4" rx="1.5" ry="1.9" fill="#8aa62a"/>
<path d="M385.8 756.5 v-11.5 q0 -2.5 1.2 -4 l1.4 -3 v-4.3 h2.2 v4.3 l1.4 3 q1.2 1.5 1.2 4 v11.5 a3.7 1.6 0 0 1 -7.4 0z" fill="#5e7d1c"/>
<path d="M385.8 756.5 v-11.5 q0 -2.5 1.2 -4 l1.4 -3 v-4.3 h0.9 z" fill="#7c9a2a"/>
<rect x="388.2" y="732.7" width="2.6" height="1.6" fill="#2f4f12"/>
<path d="M385.8 753.3 v-7 a3.7 1.4 0 0 0 7.4 0 v7 a3.7 1.4 0 0 1 -7.4 0z" fill="#e9eda0"/>
<ellipse cx="389.5" cy="750.9" rx="1.5" ry="1.9" fill="#8aa62a"/>
<path d="M411.3 739 v-11.5 q0 -2.5 1.2 -4 l1.4 -3 v-4.3 h2.2 v4.3 l1.4 3 q1.2 1.5 1.2 4 v11.5 a3.7 1.6 0 0 1 -7.4 0z" fill="#5e7d1c"/>
<path d="M411.3 739 v-11.5 q0 -2.5 1.2 -4 l1.4 -3 v-4.3 h0.9 z" fill="#7c9a2a"/>
<rect x="413.7" y="715.2" width="2.6" height="1.6" fill="#2f4f12"/>
<path d="M411.3 735.8 v-7 a3.7 1.4 0 0 0 7.4 0 v7 a3.7 1.4 0 0 1 -7.4 0z" fill="#e9eda0"/>
<ellipse cx="415" cy="733.4" rx="1.5" ry="1.9" fill="#8aa62a"/>
<path d="M438.3 721.5 v-11.5 q0 -2.5 1.2 -4 l1.4 -3 v-4.3 h2.2 v4.3 l1.4 3 q1.2 1.5 1.2 4 v11.5 a3.7 1.6 0 0 1 -7.4 0z" fill="#5e7d1c"/>
<path d="M438.3 721.5 v-11.5 q0 -2.5 1.2 -4 l1.4 -3 v-4.3 h0.9 z" fill="#7c9a2a"/>
<rect x="440.7" y="697.7" width="2.6" height="1.6" fill="#2f4f12"/>
<path d="M438.3 718.3 v-7 a3.7 1.4 0 0 0 7.4 0 v7 a3.7 1.4 0 0 1 -7.4 0z" fill="#e9eda0"/>
<ellipse cx="442" cy="715.9" rx="1.5" ry="1.9" fill="#8aa62a"/>
<path d="M465.8 702 v-11.5 q0 -2.5 1.2 -4 l1.4 -3 v-4.3 h2.2 v4.3 l1.4 3 q1.2 1.5 1.2 4 v11.5 a3.7 1.6 0 0 1 -7.4 0z" fill="#5e7d1c"/>
<path d="M465.8 702 v-11.5 q0 -2.5 1.2 -4 l1.4 -3 v-4.3 h0.9 z" fill="#7c9a2a"/>
<rect x="468.2" y="678.2" width="2.6" height="1.6" fill="#2f4f12"/>
<path d="M465.8 698.8 v-7 a3.7 1.4 0 0 0 7.4 0 v7 a3.7 1.4 0 0 1 -7.4 0z" fill="#e9eda0"/>
<ellipse cx="469.5" cy="696.4" rx="1.5" ry="1.9" fill="#8aa62a"/>
<path d="M498 705.5 v-11.5 q0 -2.5 1.2 -4 l1.4 -3 v-4.3 h2.2 v4.3 l1.4 3 q1.2 1.5 1.2 4 v11.5 a3.7 1.6 0 0 1 -7.4 0z" fill="#5e7d1c"/>
<path d="M498 705.5 v-11.5 q0 -2.5 1.2 -4 l1.4 -3 v-4.3 h0.9 z" fill="#7c9a2a"/>
<rect x="500.4" y="681.7" width="2.6" height="1.6" fill="#2f4f12"/>
<path d="M498 702.3 v-7 a3.7 1.4 0 0 0 7.4 0 v7 a3.7 1.4 0 0 1 -7.4 0z" fill="#e9eda0"/>
<ellipse cx="501.7" cy="699.9" rx="1.5" ry="1.9" fill="#8aa62a"/>
<rect x="359.3" y="664" width="4.4" height="14" fill="#7fe0aa"/>
<rect x="362.2" y="664" width="1.5" height="14" fill="#3db777"/>
<ellipse cx="361.5" cy="678" rx="2.2" ry="1.1" fill="#3db777"/>
<rect x="384.8" y="648" width="4.4" height="13" fill="#7fe0aa"/>
<rect x="387.7" y="648" width="1.5" height="13" fill="#3db777"/>
<ellipse cx="387" cy="661" rx="2.2" ry="1.1" fill="#3db777"/>
<polygon points="345,639.6 348,638 348,671.5 345,673.1" fill="#bfeed5" stroke="#2c9a6e" stroke-width="0.5" stroke-linejoin="round"/>
<polygon points="345,639.6 392,611 395,609.3 348,638" fill="#e9fbf2" stroke="#2c9a6e" stroke-width="0.5" stroke-linejoin="round"/>
<polygon points="348,638 395,609.3 395,642.8 348,671.5" fill="#fbfffd" stroke="#2c9a6e" stroke-width="0.7" stroke-linejoin="round"/>
<text transform="matrix(1 -0.61 0 1 371.5 643.5)" x="0" y="0" font-size="8.2" text-anchor="middle" fill="#178a5a">自动化灌装</text>
<ellipse cx="504.7" cy="775.5" rx="5.5" ry="2.7" fill="#d6f8e6" stroke="#1f9162" stroke-width="0.5"/>
<rect x="501.4" y="753" width="6.5" height="22" fill="#2fb377"/>
<rect x="505.7" y="753" width="2.3" height="22" fill="#118c57"/>
<ellipse cx="504.7" cy="775" rx="3.2" ry="1.6" fill="#2fb377"/>
<ellipse cx="610" cy="795.5" rx="5.5" ry="2.7" fill="#d6f8e6" stroke="#1f9162" stroke-width="0.5"/>
<rect x="606.8" y="778" width="6.5" height="17" fill="#2fb377"/>
<rect x="611" y="778" width="2.3" height="17" fill="#118c57"/>
<ellipse cx="610" cy="795" rx="3.2" ry="1.6" fill="#2fb377"/>
<ellipse cx="648.7" cy="834.5" rx="5.5" ry="2.7" fill="#d6f8e6" stroke="#1f9162" stroke-width="0.5"/>
<rect x="645.5" y="815" width="6.5" height="19" fill="#2fb377"/>
<rect x="649.7" y="815" width="2.3" height="19" fill="#118c57"/>
<ellipse cx="648.7" cy="834" rx="3.2" ry="1.6" fill="#2fb377"/>
<ellipse cx="619.3" cy="850.5" rx="5.5" ry="2.7" fill="#d6f8e6" stroke="#1f9162" stroke-width="0.5"/>
<rect x="616" y="837" width="6.5" height="13" fill="#2fb377"/>
<rect x="620.3" y="837" width="2.3" height="13" fill="#118c57"/>
<ellipse cx="619.3" cy="850" rx="3.2" ry="1.6" fill="#2fb377"/>
<path d="M518 742 q-3 1 -3 5 v6" fill="none" stroke="#1fa566" stroke-width="3"/>
<polygon points="518,704.7 552.7,690 599.3,707.3 563.3,727.3" fill="#7fdba8"/>
<polygon points="563.3,727.3 599.3,707.3 599.3,762 563.3,783.3" fill="#0f8a55"/>
<path d="M570 775 V742 Q570 728 582 722 Q594 716.5 594 730 V761z" fill="#0a5c38" stroke="#17a063" stroke-width="1.2"/>
<polygon points="583,745.8 585.1,746.8 587.3,747.8 589.4,748.9 591.5,749.9 593.6,750.9 595.7,751.9 597.9,752.9 600,754 602.2,755 604.4,756.1 606.6,757.1 608.9,758.2 611.3,759.3 613.7,760.5 616.3,761.7 618.9,762.9 621.5,764.1 624.2,765.4 626.8,766.6 629.4,767.8 631.9,769 634.4,770.1 636.7,771.2 638.9,772.2 640.9,773.1 642.8,774 644.7,774.9 646.5,775.7 648.3,776.5 650,777.3 651.7,778.1 653.3,778.9 654.9,779.7 656.5,780.4 658,781.2 659.5,782 660.7,782.7 661.9,783.3 663.1,784 664.3,784.6 665.5,785.3 666.8,786 668,786.8 669.2,787.7 670.4,788.7 671.5,789.7 672.5,790.8 673.3,792 674,793 674.5,794.1 675,795.2 675.3,796.3 675.6,797.5 675.8,798.8 675.8,800.1 675.6,801.5 675.3,802.9 674.7,804.3 674,805.7 673.1,807.2 671.9,808.7 670.6,810.2 669.1,811.6 667.6,812.9 666,814.2 664.4,815.5 662.7,816.7 661.1,817.9 659.5,819 657.9,820.2 656.5,821.2 655,822.2 653.5,823.3 651.9,824.4 650.4,825.4 648.8,826.5 647.2,827.5 645.7,828.5 644.2,829.4 642.7,830.3 641.3,831.2 640,832 638.8,832.8 637.6,833.5 636.5,834.3 635.4,835 634.3,835.7 633.3,836.3 632.4,837 631.4,837.6 630.5,838.2 629.6,838.9 628.6,839.5 627.7,840.1 626.7,840.8 625.7,841.4 606.3,832.6 607.3,831.9 608.2,831.3 609.1,830.6 610.1,830 611,829.4 612,828.8 612.9,828.1 613.9,827.4 615,826.7 616,826 617.2,825.3 618.4,824.5 619.7,823.6 621.1,822.7 622.5,821.9 624,821 625.4,820.1 626.8,819.2 628.3,818.3 629.7,817.4 631.1,816.5 632.4,815.6 633.7,814.7 635,813.8 636.4,812.8 637.9,811.7 639.4,810.6 640.9,809.5 642.4,808.5 643.8,807.4 645,806.4 646.2,805.5 647.2,804.6 648,803.9 648.5,803.3 648.9,802.8 649.2,802.4 649.4,802 649.5,801.6 649.6,801.2 649.6,800.9 649.6,800.5 649.6,800.1 649.5,799.8 649.3,799.3 649.2,798.9 648.9,798.4 648.7,798 648.5,797.7 648.3,797.6 648.1,797.3 647.8,797.1 647.3,796.8 646.7,796.4 646,796 645.2,795.5 644.2,795 643.1,794.4 641.8,793.7 640.5,793 639.3,792.4 638.1,791.7 636.8,791.1 635.4,790.4 634,789.7 632.4,789 630.7,788.2 629,787.4 627.2,786.6 625.2,785.7 623.2,784.8 621.1,783.8 619,782.8 616.7,781.7 614.3,780.6 611.8,779.4 609.2,778.2 606.6,777 603.9,775.8 601.2,774.5 598.6,773.3 596,772.1 593.5,770.9 591.1,769.8 588.8,768.7 586.5,767.6 584.3,766.5 582.1,765.5 579.9,764.4 577.8,763.4 575.6,762.4 573.5,761.3 571.4,760.3 569.3,759.3 567.2,758.3 565,757.2" fill="#d4f6e4" stroke="#1f9162" stroke-width="0.6" stroke-linejoin="round"/>
<polygon points="583,742.8 585.1,743.8 587.3,744.8 589.4,745.9 591.5,746.9 593.6,747.9 595.7,748.9 597.9,749.9 600,751 602.2,752 604.4,753.1 606.6,754.1 608.9,755.2 611.3,756.3 613.7,757.5 616.3,758.7 618.9,759.9 621.5,761.1 624.2,762.4 626.8,763.6 629.4,764.8 631.9,766 634.4,767.1 636.7,768.2 638.9,769.2 640.9,770.1 642.8,771 644.7,771.9 646.5,772.7 648.3,773.5 650,774.3 651.7,775.1 653.3,775.9 654.9,776.7 656.5,777.4 658,778.2 659.5,779 660.7,779.7 661.9,780.3 663.1,781 664.3,781.6 665.5,782.3 666.8,783 668,783.8 669.2,784.7 670.4,785.7 671.5,786.7 672.5,787.8 673.3,789 674,790 674.5,791.1 675,792.2 675.3,793.3 675.6,794.5 675.8,795.8 675.8,797.1 675.6,798.5 675.3,799.9 674.7,801.3 674,802.7 673.1,804.2 671.9,805.7 670.6,807.2 669.1,808.6 667.6,809.9 666,811.2 664.4,812.5 662.7,813.7 661.1,814.9 659.5,816 657.9,817.2 656.5,818.2 655,819.2 653.5,820.3 651.9,821.4 650.4,822.4 648.8,823.5 647.2,824.5 645.7,825.5 644.2,826.4 642.7,827.3 641.3,828.2 640,829 638.8,829.8 637.6,830.5 636.5,831.3 635.4,832 634.3,832.7 633.3,833.3 632.4,834 631.4,834.6 630.5,835.2 629.6,835.9 628.6,836.5 627.7,837.1 626.7,837.8 625.7,838.4 606.3,829.6 607.3,828.9 608.2,828.3 609.1,827.6 610.1,827 611,826.4 612,825.8 612.9,825.1 613.9,824.4 615,823.7 616,823 617.2,822.3 618.4,821.5 619.7,820.6 621.1,819.7 622.5,818.9 624,818 625.4,817.1 626.8,816.2 628.3,815.3 629.7,814.4 631.1,813.5 632.4,812.6 633.7,811.7 635,810.8 636.4,809.8 637.9,808.7 639.4,807.6 640.9,806.5 642.4,805.5 643.8,804.4 645,803.4 646.2,802.5 647.2,801.6 648,800.9 648.5,800.3 648.9,799.8 649.2,799.4 649.4,799 649.5,798.6 649.6,798.2 649.6,797.9 649.6,797.5 649.6,797.1 649.5,796.8 649.3,796.3 649.2,795.9 648.9,795.4 648.7,795 648.5,794.7 648.3,794.6 648.1,794.3 647.8,794.1 647.3,793.8 646.7,793.4 646,793 645.2,792.5 644.2,792 643.1,791.4 641.8,790.7 640.5,790 639.3,789.4 638.1,788.7 636.8,788.1 635.4,787.4 634,786.7 632.4,786 630.7,785.2 629,784.4 627.2,783.6 625.2,782.7 623.2,781.8 621.1,780.8 619,779.8 616.7,778.7 614.3,777.6 611.8,776.4 609.2,775.2 606.6,774 603.9,772.8 601.2,771.5 598.6,770.3 596,769.1 593.5,767.9 591.1,766.8 588.8,765.7 586.5,764.6 584.3,763.5 582.1,762.5 579.9,761.4 577.8,760.4 575.6,759.4 573.5,758.3 571.4,757.3 569.3,756.3 567.2,755.3 565,754.2" fill="#bdf0d4" stroke="#2a9d6c" stroke-width="0.5" stroke-linejoin="round"/>
<polyline points="581.7,743.6 583.9,744.6 586,745.6 588.1,746.7 590.3,747.7 592.4,748.7 594.5,749.7 596.6,750.7 598.8,751.8 600.9,752.8 603.1,753.9 605.4,754.9 607.7,756 610,757.1 612.5,758.3 615.1,759.5 617.7,760.7 620.3,762 623,763.2 625.6,764.4 628.2,765.6 630.7,766.8 633.1,767.9 635.5,769 637.6,770 639.6,771 641.6,771.8 643.5,772.7 645.3,773.5 647,774.4 648.8,775.1 650.4,775.9 652.1,776.7 653.7,777.5 655.2,778.2 656.7,779 658.1,779.8 659.4,780.5 660.6,781.1 661.8,781.7 663,782.4 664.2,783 665.4,783.8 666.5,784.5 667.7,785.4 668.8,786.3 669.9,787.2 670.8,788.3 671.6,789.4 672.2,790.4 672.7,791.4 673.2,792.5 673.5,793.6 673.8,794.7 673.9,795.9 673.9,797.2 673.8,798.5 673.5,799.8 673,801.1 672.3,802.5 671.4,803.9 670.3,805.3 669,806.7 667.6,808.1 666.1,809.4 664.5,810.6 662.9,811.9 661.3,813.1 659.7,814.3 658.1,815.5 656.5,816.6 655.1,817.6 653.6,818.6 652.1,819.7 650.6,820.8 649,821.8 647.4,822.8 645.9,823.8 644.3,824.8 642.8,825.7 641.4,826.6 640,827.5 638.7,828.3 637.4,829.1 636.3,829.9 635.1,830.6 634,831.4 633,832.1 632,832.7 631,833.4 630.1,834 629.1,834.6 628.2,835.3 627.3,835.9 626.3,836.5 625.3,837.2 624.4,837.8" fill="none" stroke="#4fbf8a" stroke-width="0.6"/>
<polyline points="566.3,753.4 568.4,754.5 570.6,755.5 572.7,756.5 574.8,757.5 576.9,758.6 579,759.6 581.2,760.6 583.3,761.7 585.5,762.7 587.7,763.8 590,764.9 592.3,766 594.8,767.1 597.3,768.3 599.8,769.5 602.5,770.7 605.1,772 607.8,773.2 610.4,774.4 613,775.6 615.5,776.8 617.9,777.9 620.2,779 622.4,780 624.5,781 626.5,781.9 628.4,782.8 630.2,783.6 632,784.4 633.6,785.2 635.2,785.9 636.7,786.6 638.1,787.3 639.4,787.9 640.6,788.6 641.9,789.2 643.1,789.9 644.4,790.6 645.5,791.2 646.5,791.7 647.4,792.2 648.1,792.7 648.8,793.1 649.3,793.4 649.6,793.7 649.9,794 650.2,794.3 650.4,794.6 650.7,795.1 650.9,795.6 651.1,796.1 651.3,796.5 651.4,797 651.4,797.4 651.4,797.8 651.4,798.2 651.3,798.7 651.1,799.1 650.9,799.6 650.6,800.1 650.2,800.6 649.5,801.3 648.7,802.1 647.7,803 646.5,804 645.2,805 643.8,806 642.3,807.1 640.8,808.2 639.3,809.3 637.8,810.3 636.4,811.4 635.1,812.3 633.8,813.2 632.4,814.1 631,815 629.6,815.9 628.2,816.8 626.7,817.7 625.3,818.6 623.8,819.5 622.4,820.4 621.1,821.3 619.7,822.1 618.5,822.9 617.4,823.7 616.3,824.4 615.3,825.1 614.3,825.7 613.3,826.4 612.4,827 611.4,827.6 610.5,828.3 609.6,828.9 608.6,829.5 607.6,830.2" fill="none" stroke="#4fbf8a" stroke-width="0.6"/>
<line x1="590.3" y1="747.7" x2="574.8" y2="757.5" stroke="#4fbf8a" stroke-width="0.6"/>
<line x1="598.8" y1="751.8" x2="583.3" y2="761.7" stroke="#4fbf8a" stroke-width="0.6"/>
<line x1="607.7" y1="756" x2="592.3" y2="766" stroke="#4fbf8a" stroke-width="0.6"/>
<line x1="615.1" y1="759.5" x2="599.8" y2="769.5" stroke="#4fbf8a" stroke-width="0.6"/>
<line x1="623" y1="763.2" x2="607.8" y2="773.2" stroke="#4fbf8a" stroke-width="0.6"/>
<line x1="630.7" y1="766.8" x2="615.5" y2="776.8" stroke="#4fbf8a" stroke-width="0.6"/>
<line x1="639.6" y1="771" x2="624.5" y2="781" stroke="#4fbf8a" stroke-width="0.6"/>
<line x1="647" y1="774.4" x2="632" y2="784.4" stroke="#4fbf8a" stroke-width="0.6"/>
<line x1="655.2" y1="778.2" x2="639.4" y2="787.9" stroke="#4fbf8a" stroke-width="0.6"/>
<line x1="663" y1="782.4" x2="646.5" y2="791.7" stroke="#4fbf8a" stroke-width="0.6"/>
<line x1="671.6" y1="789.4" x2="650.4" y2="794.6" stroke="#4fbf8a" stroke-width="0.6"/>
<line x1="673" y1="801.1" x2="651.1" y2="799.1" stroke="#4fbf8a" stroke-width="0.6"/>
<line x1="666.1" y1="809.4" x2="647.7" y2="803" stroke="#4fbf8a" stroke-width="0.6"/>
<line x1="658.1" y1="815.5" x2="640.8" y2="808.2" stroke="#4fbf8a" stroke-width="0.6"/>
<line x1="650.6" y1="820.8" x2="633.8" y2="813.2" stroke="#4fbf8a" stroke-width="0.6"/>
<line x1="642.8" y1="825.7" x2="626.7" y2="817.7" stroke="#4fbf8a" stroke-width="0.6"/>
<line x1="636.3" y1="829.9" x2="619.7" y2="822.1" stroke="#4fbf8a" stroke-width="0.6"/>
<line x1="629.1" y1="834.6" x2="612.4" y2="827" stroke="#4fbf8a" stroke-width="0.6"/>
<polygon points="518,704.7 518,758 563.3,783.3 563.3,727.3" fill="#45c488"/>
<path d="M518 757 V704.7 L552.7 690" fill="none" stroke="#a5ecc5" stroke-width="0.7"/>
<polygon points="527.3,718.8 555.3,733.2 555.3,751.3 527.3,736.7" fill="#bfe6d3" stroke="#0f7a4a" stroke-width="0.9" stroke-linejoin="round"/>
<line x1="523" y1="749" x2="523" y2="759" stroke="#0f7a4a" stroke-width="0.7"/>
<line x1="526" y1="750.5" x2="526" y2="760.5" stroke="#0f7a4a" stroke-width="0.7"/>
<line x1="529" y1="752" x2="529" y2="762" stroke="#0f7a4a" stroke-width="0.7"/>
<line x1="532" y1="753.5" x2="532" y2="763.5" stroke="#0f7a4a" stroke-width="0.7"/>
<circle cx="548.7" cy="770" r="1.5" fill="#e6e23a"/><circle cx="555" cy="773" r="1.5" fill="#f0a03c"/>
<path d="M571 772 q4 0 4.5 4 v8" fill="none" stroke="#1fa566" stroke-width="3.2"/>
<ellipse cx="575.5" cy="785" rx="3.6" ry="1.8" fill="#5ad492"/>
<ellipse cx="515" cy="754" rx="3.4" ry="1.7" fill="#5ad492"/>
<polygon points="563.3,727.3 570,723.6 570,779.5 563.3,783.3" fill="#0f8a55"/>
<polygon points="578,742 596.7,752.7 596.7,764.7 578,754" fill="#f3c398"/>
<polygon points="596.7,752.7 612.7,739.3 612.7,751.3 596.7,764.7" fill="#e8ad7e"/>
<polygon points="578,742 595.3,730 612.7,739.3 596.7,752.7" fill="#fbdcbc"/>
<line x1="587.4" y1="747.4" x2="604" y2="734.6" stroke="#f7ede0" stroke-width="1.6"/>
<line x1="587.4" y1="747.4" x2="587.4" y2="751" stroke="#f7ede0" stroke-width="1.6"/>
<polygon points="617.5,762 635.3,772.7 635.3,784.7 617.5,774" fill="#f3c398"/>
<polygon points="635.3,772.7 652,759.9 652,771.9 635.3,784.7" fill="#e8ad7e"/>
<polygon points="617.5,762 634,750.8 652,759.9 635.3,772.7" fill="#fbdcbc"/>
<line x1="626.4" y1="767.4" x2="643" y2="755.3" stroke="#f7ede0" stroke-width="1.6"/>
<line x1="626.4" y1="767.4" x2="626.4" y2="771" stroke="#f7ede0" stroke-width="1.6"/>
<polygon points="604.7,804.7 622,814 622,827 604.7,817.7" fill="#f3c398"/>
<polygon points="622,814 638,802 638,815 622,827" fill="#e8ad7e"/>
<polygon points="604.7,804.7 620.7,792.7 638,802 622,814" fill="#fbdcbc"/>
<line x1="613.4" y1="809.4" x2="629.4" y2="797.4" stroke="#f7ede0" stroke-width="1.6"/>
<line x1="613.4" y1="809.4" x2="613.4" y2="813.2" stroke="#f7ede0" stroke-width="1.6"/>
<rect x="542.7" y="694" width="4" height="11" fill="#7fe0aa"/>
<rect x="545.3" y="694" width="1.4" height="11" fill="#3db777"/>
<ellipse cx="544.7" cy="705" rx="2" ry="1" fill="#3db777"/>
<rect x="566.7" y="708" width="4" height="9.5" fill="#7fe0aa"/>
<rect x="569.3" y="708" width="1.4" height="9.5" fill="#3db777"/>
<ellipse cx="568.7" cy="717.5" rx="2" ry="1" fill="#3db777"/>
<polygon points="583,688 586,686.2 586,710.7 583,712.5" fill="#bfeed5" stroke="#2c9a6e" stroke-width="0.5" stroke-linejoin="round"/>
<polygon points="532,663 535,661.2 586,686.2 583,688" fill="#e9fbf2" stroke="#2c9a6e" stroke-width="0.5" stroke-linejoin="round"/>
<polygon points="532,663 583,688 583,712.5 532,687.5" fill="#fbfffd" stroke="#2c9a6e" stroke-width="0.7" stroke-linejoin="round"/>
<text transform="matrix(1 0.49 0 1 557.5 691.1)" x="0" y="0" font-size="9.2" font-weight="bold" text-anchor="middle" fill="#0e6e46">打包运输</text>
<path d="M475.6 910 Q486 925 508 925.5 Q540 921 562 906 Q590 886 602 864 Q608 852 604 843 L604 852 Q590 880 556 897 Q520 914 492 912z" fill="#a9e8c5" stroke="#0f6e45" stroke-width="0.5"/>
<path d="M475.6 910 Q480 890 491 880 L500 886 Q520 903 545 890 L556 884 Q585 865 603 839 Q608 850 600 864 Q588 883 560 900 Q535 915 508 918 Q488 918 475.6 910z" fill="#0f6e45"/>
<path d="M477.5 908 Q482 890 491.5 881 L530 899 Q505 912 477.5 908z" fill="#a9e8c5" stroke="#0f6e45" stroke-width="0.5"/>
<path d="M491.5 881 L497 872 L540 894 L530 899z" fill="#5ad492"/>
<ellipse cx="567" cy="887" rx="3.2" ry="1.9" transform="rotate(-38 567 887)" fill="#f3fdf8"/>
<ellipse cx="578" cy="877.5" rx="3.2" ry="1.9" transform="rotate(-38 578 877.5)" fill="#f3fdf8"/>
<ellipse cx="587.5" cy="869" rx="3.2" ry="1.9" transform="rotate(-38 587.5 869)" fill="#f3fdf8"/>
<ellipse cx="597" cy="859.5" rx="3.2" ry="1.9" transform="rotate(-38 597 859.5)" fill="#f3fdf8"/>
<polygon points="520,893.5 496,880.3 496,869.3 520,882.5" fill="#4fcf8b"/>
<polygon points="520,893.5 535,883.3 535,872.3 520,882.5" fill="#1f9c63"/>
<polygon points="520,882.5 496,869.3 511,859.1 535,872.3" fill="#8ddfae"/>
<line x1="518.4" y1="892.6" x2="518.4" y2="881.6" stroke="#2fae72" stroke-width="0.35"/>
<line x1="516.8" y1="891.7" x2="516.8" y2="880.7" stroke="#2fae72" stroke-width="0.35"/>
<line x1="515.2" y1="890.9" x2="515.2" y2="879.9" stroke="#2fae72" stroke-width="0.35"/>
<line x1="513.6" y1="890" x2="513.6" y2="879" stroke="#2fae72" stroke-width="0.35"/>
<line x1="512" y1="889.1" x2="512" y2="878.1" stroke="#2fae72" stroke-width="0.35"/>
<line x1="510.4" y1="888.2" x2="510.4" y2="877.2" stroke="#2fae72" stroke-width="0.35"/>
<line x1="508.8" y1="887.3" x2="508.8" y2="876.3" stroke="#2fae72" stroke-width="0.35"/>
<line x1="507.2" y1="886.5" x2="507.2" y2="875.5" stroke="#2fae72" stroke-width="0.35"/>
<line x1="505.6" y1="885.6" x2="505.6" y2="874.6" stroke="#2fae72" stroke-width="0.35"/>
<line x1="504" y1="884.7" x2="504" y2="873.7" stroke="#2fae72" stroke-width="0.35"/>
<line x1="502.4" y1="883.8" x2="502.4" y2="872.8" stroke="#2fae72" stroke-width="0.35"/>
<line x1="500.8" y1="882.9" x2="500.8" y2="871.9" stroke="#2fae72" stroke-width="0.35"/>
<line x1="499.2" y1="882.1" x2="499.2" y2="871.1" stroke="#2fae72" stroke-width="0.35"/>
<line x1="497.6" y1="881.2" x2="497.6" y2="870.2" stroke="#2fae72" stroke-width="0.35"/>
<line x1="521.6" y1="892.4" x2="521.6" y2="881.4" stroke="#0f8452" stroke-width="0.35"/>
<line x1="523.2" y1="891.3" x2="523.2" y2="880.3" stroke="#0f8452" stroke-width="0.35"/>
<line x1="524.8" y1="890.2" x2="524.8" y2="879.2" stroke="#0f8452" stroke-width="0.35"/>
<line x1="526.4" y1="889.1" x2="526.4" y2="878.1" stroke="#0f8452" stroke-width="0.35"/>
<line x1="528" y1="888.1" x2="528" y2="877.1" stroke="#0f8452" stroke-width="0.35"/>
<line x1="529.6" y1="887" x2="529.6" y2="876" stroke="#0f8452" stroke-width="0.35"/>
<line x1="531.2" y1="885.9" x2="531.2" y2="874.9" stroke="#0f8452" stroke-width="0.35"/>
<line x1="532.8" y1="884.8" x2="532.8" y2="873.8" stroke="#0f8452" stroke-width="0.35"/>
<line x1="521.8" y1="881.3" x2="497.8" y2="868.1" stroke="#5ecf93" stroke-width="0.35"/>
<line x1="523.6" y1="880.1" x2="499.6" y2="866.9" stroke="#5ecf93" stroke-width="0.35"/>
<line x1="525.4" y1="878.8" x2="501.4" y2="865.6" stroke="#5ecf93" stroke-width="0.35"/>
<line x1="527.2" y1="877.6" x2="503.2" y2="864.4" stroke="#5ecf93" stroke-width="0.35"/>
<line x1="529" y1="876.4" x2="505" y2="863.2" stroke="#5ecf93" stroke-width="0.35"/>
<line x1="530.8" y1="875.2" x2="506.8" y2="862" stroke="#5ecf93" stroke-width="0.35"/>
<line x1="532.6" y1="873.9" x2="508.6" y2="860.7" stroke="#5ecf93" stroke-width="0.35"/>
<polygon points="537,891.5 509,876.1 509,847.1 537,862.5" fill="#4fcf8b"/>
<polygon points="537,891.5 575,865.7 575,836.7 537,862.5" fill="#1f9c63"/>
<polygon points="537,862.5 509,847.1 547,821.3 575,836.7" fill="#8ddfae"/>
<line x1="535.4" y1="890.6" x2="535.4" y2="861.6" stroke="#2fae72" stroke-width="0.35"/>
<line x1="533.8" y1="889.7" x2="533.8" y2="860.7" stroke="#2fae72" stroke-width="0.35"/>
<line x1="532.2" y1="888.9" x2="532.2" y2="859.9" stroke="#2fae72" stroke-width="0.35"/>
<line x1="530.6" y1="888" x2="530.6" y2="859" stroke="#2fae72" stroke-width="0.35"/>
<line x1="529" y1="887.1" x2="529" y2="858.1" stroke="#2fae72" stroke-width="0.35"/>
<line x1="527.4" y1="886.2" x2="527.4" y2="857.2" stroke="#2fae72" stroke-width="0.35"/>
<line x1="525.8" y1="885.3" x2="525.8" y2="856.3" stroke="#2fae72" stroke-width="0.35"/>
<line x1="524.2" y1="884.5" x2="524.2" y2="855.5" stroke="#2fae72" stroke-width="0.35"/>
<line x1="522.6" y1="883.6" x2="522.6" y2="854.6" stroke="#2fae72" stroke-width="0.35"/>
<line x1="521" y1="882.7" x2="521" y2="853.7" stroke="#2fae72" stroke-width="0.35"/>
<line x1="519.4" y1="881.8" x2="519.4" y2="852.8" stroke="#2fae72" stroke-width="0.35"/>
<line x1="517.8" y1="880.9" x2="517.8" y2="851.9" stroke="#2fae72" stroke-width="0.35"/>
<line x1="516.2" y1="880.1" x2="516.2" y2="851.1" stroke="#2fae72" stroke-width="0.35"/>
<line x1="514.6" y1="879.2" x2="514.6" y2="850.2" stroke="#2fae72" stroke-width="0.35"/>
<line x1="513" y1="878.3" x2="513" y2="849.3" stroke="#2fae72" stroke-width="0.35"/>
<line x1="511.4" y1="877.4" x2="511.4" y2="848.4" stroke="#2fae72" stroke-width="0.35"/>
<line x1="538.6" y1="890.4" x2="538.6" y2="861.4" stroke="#0f8452" stroke-width="0.35"/>
<line x1="540.2" y1="889.3" x2="540.2" y2="860.3" stroke="#0f8452" stroke-width="0.35"/>
<line x1="541.8" y1="888.2" x2="541.8" y2="859.2" stroke="#0f8452" stroke-width="0.35"/>
<line x1="543.4" y1="887.1" x2="543.4" y2="858.1" stroke="#0f8452" stroke-width="0.35"/>
<line x1="545" y1="886.1" x2="545" y2="857.1" stroke="#0f8452" stroke-width="0.35"/>
<line x1="546.6" y1="885" x2="546.6" y2="856" stroke="#0f8452" stroke-width="0.35"/>
<line x1="548.2" y1="883.9" x2="548.2" y2="854.9" stroke="#0f8452" stroke-width="0.35"/>
<line x1="549.8" y1="882.8" x2="549.8" y2="853.8" stroke="#0f8452" stroke-width="0.35"/>
<line x1="551.4" y1="881.7" x2="551.4" y2="852.7" stroke="#0f8452" stroke-width="0.35"/>
<line x1="553" y1="880.6" x2="553" y2="851.6" stroke="#0f8452" stroke-width="0.35"/>
<line x1="554.6" y1="879.5" x2="554.6" y2="850.5" stroke="#0f8452" stroke-width="0.35"/>
<line x1="556.2" y1="878.4" x2="556.2" y2="849.4" stroke="#0f8452" stroke-width="0.35"/>
<line x1="557.8" y1="877.4" x2="557.8" y2="848.4" stroke="#0f8452" stroke-width="0.35"/>
<line x1="559.4" y1="876.3" x2="559.4" y2="847.3" stroke="#0f8452" stroke-width="0.35"/>
<line x1="561" y1="875.2" x2="561" y2="846.2" stroke="#0f8452" stroke-width="0.35"/>
<line x1="562.6" y1="874.1" x2="562.6" y2="845.1" stroke="#0f8452" stroke-width="0.35"/>
<line x1="564.2" y1="873" x2="564.2" y2="844" stroke="#0f8452" stroke-width="0.35"/>
<line x1="565.8" y1="871.9" x2="565.8" y2="842.9" stroke="#0f8452" stroke-width="0.35"/>
<line x1="567.4" y1="870.8" x2="567.4" y2="841.8" stroke="#0f8452" stroke-width="0.35"/>
<line x1="569" y1="869.7" x2="569" y2="840.7" stroke="#0f8452" stroke-width="0.35"/>
<line x1="570.6" y1="868.7" x2="570.6" y2="839.7" stroke="#0f8452" stroke-width="0.35"/>
<line x1="572.2" y1="867.6" x2="572.2" y2="838.6" stroke="#0f8452" stroke-width="0.35"/>
<line x1="538.8" y1="861.3" x2="510.8" y2="845.9" stroke="#5ecf93" stroke-width="0.35"/>
<line x1="540.6" y1="860.1" x2="512.6" y2="844.7" stroke="#5ecf93" stroke-width="0.35"/>
<line x1="542.4" y1="858.8" x2="514.4" y2="843.4" stroke="#5ecf93" stroke-width="0.35"/>
<line x1="544.2" y1="857.6" x2="516.2" y2="842.2" stroke="#5ecf93" stroke-width="0.35"/>
<line x1="546" y1="856.4" x2="518" y2="841" stroke="#5ecf93" stroke-width="0.35"/>
<line x1="547.8" y1="855.2" x2="519.8" y2="839.8" stroke="#5ecf93" stroke-width="0.35"/>
<line x1="549.6" y1="853.9" x2="521.6" y2="838.5" stroke="#5ecf93" stroke-width="0.35"/>
<line x1="551.4" y1="852.7" x2="523.4" y2="837.3" stroke="#5ecf93" stroke-width="0.35"/>
<line x1="553.2" y1="851.5" x2="525.2" y2="836.1" stroke="#5ecf93" stroke-width="0.35"/>
<line x1="555" y1="850.3" x2="527" y2="834.9" stroke="#5ecf93" stroke-width="0.35"/>
<line x1="556.8" y1="849" x2="528.8" y2="833.6" stroke="#5ecf93" stroke-width="0.35"/>
<line x1="558.6" y1="847.8" x2="530.6" y2="832.4" stroke="#5ecf93" stroke-width="0.35"/>
<line x1="560.4" y1="846.6" x2="532.4" y2="831.2" stroke="#5ecf93" stroke-width="0.35"/>
<line x1="562.2" y1="845.4" x2="534.2" y2="830" stroke="#5ecf93" stroke-width="0.35"/>
<line x1="564" y1="844.1" x2="536" y2="828.7" stroke="#5ecf93" stroke-width="0.35"/>
<line x1="565.8" y1="842.9" x2="537.8" y2="827.5" stroke="#5ecf93" stroke-width="0.35"/>
<line x1="567.6" y1="841.7" x2="539.6" y2="826.3" stroke="#5ecf93" stroke-width="0.35"/>
<line x1="569.4" y1="840.5" x2="541.4" y2="825.1" stroke="#5ecf93" stroke-width="0.35"/>
<line x1="571.2" y1="839.2" x2="543.2" y2="823.8" stroke="#5ecf93" stroke-width="0.35"/>
<line x1="573" y1="838" x2="545" y2="822.6" stroke="#5ecf93" stroke-width="0.35"/>
<polyline points="509,866.4 537,881.8 575,856" fill="none" stroke="#0f7a4a" stroke-width="0.6"/>
<polyline points="509,856.8 537,872.2 575,846.3" fill="none" stroke="#0f7a4a" stroke-width="0.6"/>
<polygon points="560,888 546,880.3 546,859.3 560,867" fill="#4fcf8b"/>
<polygon points="560,888 580,874.4 580,853.4 560,867" fill="#1f9c63"/>
<polygon points="560,867 546,859.3 566,845.7 580,853.4" fill="#8ddfae"/>
<line x1="558.4" y1="887.1" x2="558.4" y2="866.1" stroke="#2fae72" stroke-width="0.35"/>
<line x1="556.8" y1="886.2" x2="556.8" y2="865.2" stroke="#2fae72" stroke-width="0.35"/>
<line x1="555.2" y1="885.4" x2="555.2" y2="864.4" stroke="#2fae72" stroke-width="0.35"/>
<line x1="553.6" y1="884.5" x2="553.6" y2="863.5" stroke="#2fae72" stroke-width="0.35"/>
<line x1="552" y1="883.6" x2="552" y2="862.6" stroke="#2fae72" stroke-width="0.35"/>
<line x1="550.4" y1="882.7" x2="550.4" y2="861.7" stroke="#2fae72" stroke-width="0.35"/>
<line x1="548.8" y1="881.8" x2="548.8" y2="860.8" stroke="#2fae72" stroke-width="0.35"/>
<line x1="561.6" y1="886.9" x2="561.6" y2="865.9" stroke="#0f8452" stroke-width="0.35"/>
<line x1="563.2" y1="885.8" x2="563.2" y2="864.8" stroke="#0f8452" stroke-width="0.35"/>
<line x1="564.8" y1="884.7" x2="564.8" y2="863.7" stroke="#0f8452" stroke-width="0.35"/>
<line x1="566.4" y1="883.6" x2="566.4" y2="862.6" stroke="#0f8452" stroke-width="0.35"/>
<line x1="568" y1="882.6" x2="568" y2="861.6" stroke="#0f8452" stroke-width="0.35"/>
<line x1="569.6" y1="881.5" x2="569.6" y2="860.5" stroke="#0f8452" stroke-width="0.35"/>
<line x1="571.2" y1="880.4" x2="571.2" y2="859.4" stroke="#0f8452" stroke-width="0.35"/>
<line x1="572.8" y1="879.3" x2="572.8" y2="858.3" stroke="#0f8452" stroke-width="0.35"/>
<line x1="574.4" y1="878.2" x2="574.4" y2="857.2" stroke="#0f8452" stroke-width="0.35"/>
<line x1="576" y1="877.1" x2="576" y2="856.1" stroke="#0f8452" stroke-width="0.35"/>
<line x1="577.6" y1="876" x2="577.6" y2="855" stroke="#0f8452" stroke-width="0.35"/>
<line x1="561.8" y1="865.8" x2="547.8" y2="858.1" stroke="#5ecf93" stroke-width="0.35"/>
<line x1="563.6" y1="864.6" x2="549.6" y2="856.9" stroke="#5ecf93" stroke-width="0.35"/>
<line x1="565.4" y1="863.3" x2="551.4" y2="855.6" stroke="#5ecf93" stroke-width="0.35"/>
<line x1="567.2" y1="862.1" x2="553.2" y2="854.4" stroke="#5ecf93" stroke-width="0.35"/>
<line x1="569" y1="860.9" x2="555" y2="853.2" stroke="#5ecf93" stroke-width="0.35"/>
<line x1="570.8" y1="859.7" x2="556.8" y2="852" stroke="#5ecf93" stroke-width="0.35"/>
<line x1="572.6" y1="858.4" x2="558.6" y2="850.7" stroke="#5ecf93" stroke-width="0.35"/>
<line x1="574.4" y1="857.2" x2="560.4" y2="849.5" stroke="#5ecf93" stroke-width="0.35"/>
<line x1="576.2" y1="856" x2="562.2" y2="848.3" stroke="#5ecf93" stroke-width="0.35"/>
<line x1="578" y1="854.8" x2="564" y2="847.1" stroke="#5ecf93" stroke-width="0.35"/>
<polyline points="546,869.8 560,877.5 580,863.9" fill="none" stroke="#0f7a4a" stroke-width="0.6"/>
<polygon points="579,870 570,865.5 570,834.5 579,839" fill="#e9fcf2"/>
<polygon points="579,870 601,855 601,824 579,839" fill="#1f9c63"/>
<polygon points="579,839 570,834.5 592,819.5 601,824" fill="#c9f3dc"/>
<rect x="581.2" y="840" width="1.8" height="2.5" fill="#d9f6e6" transform="skewY(-34)" style="transform-origin:581.2px 840px"/>
<rect x="584.5" y="837.8" width="1.8" height="2.5" fill="#d9f6e6" transform="skewY(-34)" style="transform-origin:584.5px 837.8px"/>
<rect x="587.8" y="835.5" width="1.8" height="2.5" fill="#d9f6e6" transform="skewY(-34)" style="transform-origin:587.8px 835.5px"/>
<rect x="591.1" y="833.3" width="1.8" height="2.5" fill="#d9f6e6" transform="skewY(-34)" style="transform-origin:591.1px 833.3px"/>
<rect x="594.4" y="831" width="1.8" height="2.5" fill="#d9f6e6" transform="skewY(-34)" style="transform-origin:594.4px 831px"/>
<rect x="597.7" y="828.8" width="1.8" height="2.5" fill="#d9f6e6" transform="skewY(-34)" style="transform-origin:597.7px 828.8px"/>
<rect x="571" y="837.5" width="1.5" height="2.4" fill="#2fae72" transform="skewY(27)" style="transform-origin:571px 837.5px"/>
<rect x="573.8" y="838.9" width="1.5" height="2.4" fill="#2fae72" transform="skewY(27)" style="transform-origin:573.8px 838.9px"/>
<rect x="576.6" y="840.3" width="1.5" height="2.4" fill="#2fae72" transform="skewY(27)" style="transform-origin:576.6px 840.3px"/>
<rect x="581.2" y="844.6" width="1.8" height="2.5" fill="#d9f6e6" transform="skewY(-34)" style="transform-origin:581.2px 844.6px"/>
<rect x="584.5" y="842.4" width="1.8" height="2.5" fill="#d9f6e6" transform="skewY(-34)" style="transform-origin:584.5px 842.4px"/>
<rect x="587.8" y="840.1" width="1.8" height="2.5" fill="#d9f6e6" transform="skewY(-34)" style="transform-origin:587.8px 840.1px"/>
<rect x="591.1" y="837.9" width="1.8" height="2.5" fill="#d9f6e6" transform="skewY(-34)" style="transform-origin:591.1px 837.9px"/>
<rect x="594.4" y="835.6" width="1.8" height="2.5" fill="#d9f6e6" transform="skewY(-34)" style="transform-origin:594.4px 835.6px"/>
<rect x="597.7" y="833.4" width="1.8" height="2.5" fill="#d9f6e6" transform="skewY(-34)" style="transform-origin:597.7px 833.4px"/>
<rect x="571" y="842.1" width="1.5" height="2.4" fill="#2fae72" transform="skewY(27)" style="transform-origin:571px 842.1px"/>
<rect x="573.8" y="843.5" width="1.5" height="2.4" fill="#2fae72" transform="skewY(27)" style="transform-origin:573.8px 843.5px"/>
<rect x="576.6" y="844.9" width="1.5" height="2.4" fill="#2fae72" transform="skewY(27)" style="transform-origin:576.6px 844.9px"/>
<rect x="581.2" y="849.2" width="1.8" height="2.5" fill="#d9f6e6" transform="skewY(-34)" style="transform-origin:581.2px 849.2px"/>
<rect x="584.5" y="847" width="1.8" height="2.5" fill="#d9f6e6" transform="skewY(-34)" style="transform-origin:584.5px 847px"/>
<rect x="587.8" y="844.7" width="1.8" height="2.5" fill="#d9f6e6" transform="skewY(-34)" style="transform-origin:587.8px 844.7px"/>
<rect x="591.1" y="842.5" width="1.8" height="2.5" fill="#d9f6e6" transform="skewY(-34)" style="transform-origin:591.1px 842.5px"/>
<rect x="594.4" y="840.2" width="1.8" height="2.5" fill="#d9f6e6" transform="skewY(-34)" style="transform-origin:594.4px 840.2px"/>
<rect x="597.7" y="838" width="1.8" height="2.5" fill="#d9f6e6" transform="skewY(-34)" style="transform-origin:597.7px 838px"/>
<rect x="571" y="846.7" width="1.5" height="2.4" fill="#2fae72" transform="skewY(27)" style="transform-origin:571px 846.7px"/>
<rect x="573.8" y="848.1" width="1.5" height="2.4" fill="#2fae72" transform="skewY(27)" style="transform-origin:573.8px 848.1px"/>
<rect x="576.6" y="849.5" width="1.5" height="2.4" fill="#2fae72" transform="skewY(27)" style="transform-origin:576.6px 849.5px"/>
<rect x="581.2" y="853.8" width="1.8" height="2.5" fill="#d9f6e6" transform="skewY(-34)" style="transform-origin:581.2px 853.8px"/>
<rect x="584.5" y="851.6" width="1.8" height="2.5" fill="#d9f6e6" transform="skewY(-34)" style="transform-origin:584.5px 851.6px"/>
<rect x="587.8" y="849.3" width="1.8" height="2.5" fill="#d9f6e6" transform="skewY(-34)" style="transform-origin:587.8px 849.3px"/>
<rect x="591.1" y="847.1" width="1.8" height="2.5" fill="#d9f6e6" transform="skewY(-34)" style="transform-origin:591.1px 847.1px"/>
<rect x="594.4" y="844.8" width="1.8" height="2.5" fill="#d9f6e6" transform="skewY(-34)" style="transform-origin:594.4px 844.8px"/>
<rect x="597.7" y="842.6" width="1.8" height="2.5" fill="#d9f6e6" transform="skewY(-34)" style="transform-origin:597.7px 842.6px"/>
<rect x="571" y="851.3" width="1.5" height="2.4" fill="#2fae72" transform="skewY(27)" style="transform-origin:571px 851.3px"/>
<rect x="573.8" y="852.7" width="1.5" height="2.4" fill="#2fae72" transform="skewY(27)" style="transform-origin:573.8px 852.7px"/>
<rect x="576.6" y="854.1" width="1.5" height="2.4" fill="#2fae72" transform="skewY(27)" style="transform-origin:576.6px 854.1px"/>
<rect x="581.2" y="858.4" width="1.8" height="2.5" fill="#d9f6e6" transform="skewY(-34)" style="transform-origin:581.2px 858.4px"/>
<rect x="584.5" y="856.2" width="1.8" height="2.5" fill="#d9f6e6" transform="skewY(-34)" style="transform-origin:584.5px 856.2px"/>
<rect x="587.8" y="853.9" width="1.8" height="2.5" fill="#d9f6e6" transform="skewY(-34)" style="transform-origin:587.8px 853.9px"/>
<rect x="591.1" y="851.7" width="1.8" height="2.5" fill="#d9f6e6" transform="skewY(-34)" style="transform-origin:591.1px 851.7px"/>
<rect x="594.4" y="849.4" width="1.8" height="2.5" fill="#d9f6e6" transform="skewY(-34)" style="transform-origin:594.4px 849.4px"/>
<rect x="597.7" y="847.2" width="1.8" height="2.5" fill="#d9f6e6" transform="skewY(-34)" style="transform-origin:597.7px 847.2px"/>
<rect x="571" y="855.9" width="1.5" height="2.4" fill="#2fae72" transform="skewY(27)" style="transform-origin:571px 855.9px"/>
<rect x="573.8" y="857.3" width="1.5" height="2.4" fill="#2fae72" transform="skewY(27)" style="transform-origin:573.8px 857.3px"/>
<rect x="576.6" y="858.7" width="1.5" height="2.4" fill="#2fae72" transform="skewY(27)" style="transform-origin:576.6px 858.7px"/>
<rect x="581.2" y="863" width="1.8" height="2.5" fill="#d9f6e6" transform="skewY(-34)" style="transform-origin:581.2px 863px"/>
<rect x="584.5" y="860.8" width="1.8" height="2.5" fill="#d9f6e6" transform="skewY(-34)" style="transform-origin:584.5px 860.8px"/>
<rect x="587.8" y="858.5" width="1.8" height="2.5" fill="#d9f6e6" transform="skewY(-34)" style="transform-origin:587.8px 858.5px"/>
<rect x="591.1" y="856.3" width="1.8" height="2.5" fill="#d9f6e6" transform="skewY(-34)" style="transform-origin:591.1px 856.3px"/>
<rect x="594.4" y="854" width="1.8" height="2.5" fill="#d9f6e6" transform="skewY(-34)" style="transform-origin:594.4px 854px"/>
<rect x="597.7" y="851.8" width="1.8" height="2.5" fill="#d9f6e6" transform="skewY(-34)" style="transform-origin:597.7px 851.8px"/>
<rect x="571" y="860.5" width="1.5" height="2.4" fill="#2fae72" transform="skewY(27)" style="transform-origin:571px 860.5px"/>
<rect x="573.8" y="861.9" width="1.5" height="2.4" fill="#2fae72" transform="skewY(27)" style="transform-origin:573.8px 861.9px"/>
<rect x="576.6" y="863.3" width="1.5" height="2.4" fill="#2fae72" transform="skewY(27)" style="transform-origin:576.6px 863.3px"/>
<path d="M581 808 v17 a5.5 2.8 0 0 0 11 0 v-17z" fill="#e9fcf2" stroke="#2a9d6c" stroke-width="0.5"/>
<path d="M581 814.5 v5 a5.5 2.8 0 0 0 11 0 v-5 a5.5 2.8 0 0 1 -11 0z" fill="#e8843c"/>
<ellipse cx="586.5" cy="808" rx="5.5" ry="2.8" fill="#bfe9d4" stroke="#2a9d6c" stroke-width="0.5"/>
<path d="M205.7 812 L243 790 Q262 778 268 786 Q276 800 278 830 Q281 880 292 915 L244.4 951 Q238 900 235 862 Q231 832 219 817z" fill="#0f7a4a"/>
<rect x="225.1" y="823" width="7.2" height="27" rx="1.6" fill="#2fa85f"/>
<rect x="229.9" y="823" width="2.4" height="27" fill="#1f8c4c"/>
<path d="M225.1 825 q0 -4 2 -6 v-9 h3.2 v9 q2 2 2 6z" fill="#2fa85f"/>
<rect x="227.1" y="810" width="3.2" height="2" fill="#1f9c8a"/>
<rect x="225.1" y="830" width="7.2" height="13" fill="#e9efb0"/>
<ellipse cx="228.7" cy="837" rx="2.2" ry="2.6" fill="#8fb02a"/>
<rect x="232.8" y="818.3" width="7.2" height="27" rx="1.6" fill="#2fa85f"/>
<rect x="237.6" y="818.3" width="2.4" height="27" fill="#1f8c4c"/>
<path d="M232.8 820.3 q0 -4 2 -6 v-9 h3.2 v9 q2 2 2 6z" fill="#2fa85f"/>
<rect x="234.8" y="805.3" width="3.2" height="2" fill="#1f9c8a"/>
<rect x="232.8" y="825.3" width="7.2" height="13" fill="#e9efb0"/>
<ellipse cx="236.4" cy="832.3" rx="2.2" ry="2.6" fill="#8fb02a"/>
<rect x="240.6" y="813.6" width="7.2" height="27" rx="1.6" fill="#2fa85f"/>
<rect x="245.4" y="813.6" width="2.4" height="27" fill="#1f8c4c"/>
<path d="M240.6 815.6 q0 -4 2 -6 v-9 h3.2 v9 q2 2 2 6z" fill="#2fa85f"/>
<rect x="242.6" y="800.6" width="3.2" height="2" fill="#1f9c8a"/>
<rect x="240.6" y="820.6" width="7.2" height="13" fill="#e9efb0"/>
<ellipse cx="244.2" cy="827.6" rx="2.2" ry="2.6" fill="#8fb02a"/>
<rect x="248.3" y="808.9" width="7.2" height="27" rx="1.6" fill="#2fa85f"/>
<rect x="253.1" y="808.9" width="2.4" height="27" fill="#1f8c4c"/>
<path d="M248.3 810.9 q0 -4 2 -6 v-9 h3.2 v9 q2 2 2 6z" fill="#2fa85f"/>
<rect x="250.3" y="795.9" width="3.2" height="2" fill="#1f9c8a"/>
<rect x="248.3" y="815.9" width="7.2" height="13" fill="#e9efb0"/>
<ellipse cx="251.9" cy="822.9" rx="2.2" ry="2.6" fill="#8fb02a"/>
<rect x="256.1" y="804.2" width="7.2" height="27" rx="1.6" fill="#2fa85f"/>
<rect x="260.9" y="804.2" width="2.4" height="27" fill="#1f8c4c"/>
<path d="M256.1 806.2 q0 -4 2 -6 v-9 h3.2 v9 q2 2 2 6z" fill="#2fa85f"/>
<rect x="258.1" y="791.2" width="3.2" height="2" fill="#1f9c8a"/>
<rect x="256.1" y="811.2" width="7.2" height="13" fill="#e9efb0"/>
<ellipse cx="259.7" cy="818.2" rx="2.2" ry="2.6" fill="#8fb02a"/>
<rect x="263.8" y="799.5" width="7.2" height="27" rx="1.6" fill="#2fa85f"/>
<rect x="268.6" y="799.5" width="2.4" height="27" fill="#1f8c4c"/>
<path d="M263.8 801.5 q0 -4 2 -6 v-9 h3.2 v9 q2 2 2 6z" fill="#2fa85f"/>
<rect x="265.8" y="786.5" width="3.2" height="2" fill="#1f9c8a"/>
<rect x="263.8" y="806.5" width="7.2" height="13" fill="#e9efb0"/>
<ellipse cx="267.4" cy="813.5" rx="2.2" ry="2.6" fill="#8fb02a"/>
<polygon points="236.5,851 279.5,824.5 279.5,828 236.5,854.5" fill="#0f8a55"/>
<polygon points="236.5,851 279.5,824.5 276.5,823 233.5,849.5" fill="#35b877"/>
<rect x="225.1" y="863" width="7.2" height="27" rx="1.6" fill="#2fa85f"/>
<rect x="229.9" y="863" width="2.4" height="27" fill="#1f8c4c"/>
<rect x="225.1" y="870" width="7.2" height="13" fill="#e9efb0"/>
<ellipse cx="228.7" cy="877" rx="2.2" ry="2.6" fill="#8fb02a"/>
<rect x="232.8" y="858.3" width="7.2" height="27" rx="1.6" fill="#2fa85f"/>
<rect x="237.6" y="858.3" width="2.4" height="27" fill="#1f8c4c"/>
<rect x="232.8" y="865.3" width="7.2" height="13" fill="#e9efb0"/>
<ellipse cx="236.4" cy="872.3" rx="2.2" ry="2.6" fill="#8fb02a"/>
<rect x="240.6" y="853.6" width="7.2" height="27" rx="1.6" fill="#2fa85f"/>
<rect x="245.4" y="853.6" width="2.4" height="27" fill="#1f8c4c"/>
<rect x="240.6" y="860.6" width="7.2" height="13" fill="#e9efb0"/>
<ellipse cx="244.2" cy="867.6" rx="2.2" ry="2.6" fill="#8fb02a"/>
<rect x="248.3" y="848.9" width="7.2" height="27" rx="1.6" fill="#2fa85f"/>
<rect x="253.1" y="848.9" width="2.4" height="27" fill="#1f8c4c"/>
<rect x="248.3" y="855.9" width="7.2" height="13" fill="#e9efb0"/>
<ellipse cx="251.9" cy="862.9" rx="2.2" ry="2.6" fill="#8fb02a"/>
<rect x="256.1" y="844.2" width="7.2" height="27" rx="1.6" fill="#2fa85f"/>
<rect x="260.9" y="844.2" width="2.4" height="27" fill="#1f8c4c"/>
<rect x="256.1" y="851.2" width="7.2" height="13" fill="#e9efb0"/>
<ellipse cx="259.7" cy="858.2" rx="2.2" ry="2.6" fill="#8fb02a"/>
<rect x="263.8" y="839.5" width="7.2" height="27" rx="1.6" fill="#2fa85f"/>
<rect x="268.6" y="839.5" width="2.4" height="27" fill="#1f8c4c"/>
<rect x="263.8" y="846.5" width="7.2" height="13" fill="#e9efb0"/>
<ellipse cx="267.4" cy="853.5" rx="2.2" ry="2.6" fill="#8fb02a"/>
<polygon points="237.7,891 280.7,864.5 280.7,868 237.7,894.5" fill="#0f8a55"/>
<polygon points="237.7,891 280.7,864.5 277.7,863 234.7,889.5" fill="#35b877"/>
<rect x="225.1" y="904" width="7.2" height="27" rx="1.6" fill="#2fa85f"/>
<rect x="229.9" y="904" width="2.4" height="27" fill="#1f8c4c"/>
<rect x="225.1" y="911" width="7.2" height="13" fill="#e9efb0"/>
<ellipse cx="228.7" cy="918" rx="2.2" ry="2.6" fill="#8fb02a"/>
<rect x="232.8" y="899.3" width="7.2" height="27" rx="1.6" fill="#2fa85f"/>
<rect x="237.6" y="899.3" width="2.4" height="27" fill="#1f8c4c"/>
<rect x="232.8" y="906.3" width="7.2" height="13" fill="#e9efb0"/>
<ellipse cx="236.4" cy="913.3" rx="2.2" ry="2.6" fill="#8fb02a"/>
<rect x="240.6" y="894.6" width="7.2" height="27" rx="1.6" fill="#2fa85f"/>
<rect x="245.4" y="894.6" width="2.4" height="27" fill="#1f8c4c"/>
<rect x="240.6" y="901.6" width="7.2" height="13" fill="#e9efb0"/>
<ellipse cx="244.2" cy="908.6" rx="2.2" ry="2.6" fill="#8fb02a"/>
<rect x="248.3" y="889.9" width="7.2" height="27" rx="1.6" fill="#2fa85f"/>
<rect x="253.1" y="889.9" width="2.4" height="27" fill="#1f8c4c"/>
<rect x="248.3" y="896.9" width="7.2" height="13" fill="#e9efb0"/>
<ellipse cx="251.9" cy="903.9" rx="2.2" ry="2.6" fill="#8fb02a"/>
<rect x="256.1" y="885.2" width="7.2" height="27" rx="1.6" fill="#2fa85f"/>
<rect x="260.9" y="885.2" width="2.4" height="27" fill="#1f8c4c"/>
<rect x="256.1" y="892.2" width="7.2" height="13" fill="#e9efb0"/>
<ellipse cx="259.7" cy="899.2" rx="2.2" ry="2.6" fill="#8fb02a"/>
<rect x="263.8" y="880.5" width="7.2" height="27" rx="1.6" fill="#2fa85f"/>
<rect x="268.6" y="880.5" width="2.4" height="27" fill="#1f8c4c"/>
<rect x="263.8" y="887.5" width="7.2" height="13" fill="#e9efb0"/>
<ellipse cx="267.4" cy="894.5" rx="2.2" ry="2.6" fill="#8fb02a"/>
<polygon points="238.9,932 281.9,905.5 281.9,909 238.9,935.5" fill="#0f8a55"/>
<polygon points="238.9,932 281.9,905.5 278.9,904 235.9,930.5" fill="#35b877"/>
<path d="M268 786 Q276 800 278 830 Q281 880 292 915 L286 919.5 Q276 880 273.5 835 Q272 805 266 790z" fill="#2fb374" stroke="#0f6e45" stroke-width="0.6"/>
<path d="M205.7 812 L205.7 930.5 L244.4 951 Q238 900 235 862 Q231 832 219 817 Q212 812 205.7 812z" fill="#3dc07f" stroke="#0f7a4a" stroke-width="0.7"/>
<ellipse cx="215.5" cy="903" rx="5" ry="5.6" fill="#7a981b"/><ellipse cx="215" cy="902.5" rx="4.2" ry="4.8" fill="#a9c126"/>
<ellipse cx="223.5" cy="906.5" rx="5" ry="5.6" fill="#7a981b"/><ellipse cx="223" cy="906" rx="4.2" ry="4.8" fill="#a9c126"/>
<ellipse cx="220" cy="897" rx="4.6" ry="5" fill="#7a981b"/><ellipse cx="219.6" cy="896.6" rx="3.8" ry="4.2" fill="#b5cc2e"/>
<path d="M218 892 q1 -5 5 -6 q-0.5 4.5 -5 6z" fill="#4a8c1c"/>
<text transform="matrix(1 0.5 0 1 207.5 928)" x="0" y="0" font-size="9" font-weight="bold" fill="#178a55">olive oil</text>
<rect x="217" y="798" width="4" height="8" fill="#7fe0aa"/>
<rect x="219.6" y="798" width="1.4" height="8" fill="#3db777"/>
<ellipse cx="219" cy="806" rx="2" ry="1" fill="#3db777"/>
<rect x="243.6" y="781" width="4" height="8" fill="#7fe0aa"/>
<rect x="246.2" y="781" width="1.4" height="8" fill="#3db777"/>
<ellipse cx="245.6" cy="789" rx="2" ry="1" fill="#3db777"/>
<polygon points="197,771.1 200,769.5 200,808 197,809.6" fill="#bfeed5" stroke="#2c9a6e" stroke-width="0.5" stroke-linejoin="round"/>
<polygon points="197,771.1 251.5,736 254.5,734.3 200,769.5" fill="#e9fbf2" stroke="#2c9a6e" stroke-width="0.5" stroke-linejoin="round"/>
<polygon points="200,769.5 254.5,734.3 254.5,772.8 200,808" fill="#fbfffd" stroke="#2c9a6e" stroke-width="0.7" stroke-linejoin="round"/>
<text transform="matrix(1 -0.645 0 1 227.2 775.6)" x="0" y="0" font-size="11.8" font-weight="bold" text-anchor="middle" fill="#0e7a4d">中国市场</text>
<defs><linearGradient id="gCl" x1="0" y1="0" x2="1" y2="0"><stop offset="0" stop-color="#3fc27e"/><stop offset="0.3" stop-color="#6fd49c"/><stop offset="0.6" stop-color="#bfebd0"/><stop offset="1" stop-color="#d3f2df"/></linearGradient></defs>
<path transform="matrix(1 0.66 0 1 577.5 208)" d="M0 0 Q-2 -9 6 -10 Q8 -22 19 -21 Q29 -20 30 -10 Q34 -14 39 -9 Q42 -30 58 -34 Q76 -37 80 -20 Q92 -26 97 -12 Q106 -14 106 -3 Q107 2 104 0 Z" fill="url(#gCl)"/>
<path transform="matrix(1 0.66 0 1 569.5 213.5)" d="M0 0 Q-2 -9 6 -10 Q8 -22 19 -21 Q29 -20 30 -10 Q34 -14 39 -9 Q42 -30 58 -34 Q76 -37 80 -20 Q92 -26 97 -12 Q106 -14 106 -3 Q107 2 104 0 Z" fill="#fcfffd"/>
<path d="M581 227 q-2.2 3.4 -2.2 5 a2.2 2.2 0 0 0 4.4 0 q0 -1.6 -2.2 -5z" fill="#3fc883"/>
<path d="M581 235 q-2.2 3.4 -2.2 5 a2.2 2.2 0 0 0 4.4 0 q0 -1.6 -2.2 -5z" fill="#3fc883"/>
<path d="M581 243 q-2.2 3.4 -2.2 5 a2.2 2.2 0 0 0 4.4 0 q0 -1.6 -2.2 -5z" fill="#3fc883"/>
<path d="M581 251 q-2.2 3.4 -2.2 5 a2.2 2.2 0 0 0 4.4 0 q0 -1.6 -2.2 -5z" fill="#3fc883"/>
<path d="M586.5 230.5 q-2.2 3.4 -2.2 5 a2.2 2.2 0 0 0 4.4 0 q0 -1.6 -2.2 -5z" fill="#3fc883"/>
<path d="M586.5 238.5 q-2.2 3.4 -2.2 5 a2.2 2.2 0 0 0 4.4 0 q0 -1.6 -2.2 -5z" fill="#3fc883"/>
<path d="M586.5 246.5 q-2.2 3.4 -2.2 5 a2.2 2.2 0 0 0 4.4 0 q0 -1.6 -2.2 -5z" fill="#3fc883"/>
<path d="M586.5 254.5 q-2.2 3.4 -2.2 5 a2.2 2.2 0 0 0 4.4 0 q0 -1.6 -2.2 -5z" fill="#3fc883"/>
<path d="M592 234 q-2.2 3.4 -2.2 5 a2.2 2.2 0 0 0 4.4 0 q0 -1.6 -2.2 -5z" fill="#3fc883"/>
<path d="M592 242 q-2.2 3.4 -2.2 5 a2.2 2.2 0 0 0 4.4 0 q0 -1.6 -2.2 -5z" fill="#3fc883"/>
<path d="M592 250 q-2.2 3.4 -2.2 5 a2.2 2.2 0 0 0 4.4 0 q0 -1.6 -2.2 -5z" fill="#3fc883"/>
<path d="M592 258 q-2.2 3.4 -2.2 5 a2.2 2.2 0 0 0 4.4 0 q0 -1.6 -2.2 -5z" fill="#3fc883"/>
<rect x="495.8" y="264.3" width="1.9" height="9" fill="#e8742c"/>
<path d="M494 273.7 h5.4 l-2.7 -1.8z" fill="#e8742c"/>
<path d="M497.2 242.3 a9 9 0 0 0 0 18 z" fill="#e8fbf1"/>
<path d="M497.2 242.3 a9 9 0 0 1 0 18 z" fill="#2a9e85"/>
<circle cx="492.2" cy="248.2" r="0.55" fill="#7fbfae"/>
<circle cx="494.5" cy="254" r="0.55" fill="#7fbfae"/>
<circle cx="491.8" cy="252.7" r="0.55" fill="#7fbfae"/>
<circle cx="494.9" cy="245.9" r="0.55" fill="#7fbfae"/>
<circle cx="499.9" cy="247.7" r="0.55" fill="#bfeee0"/>
<circle cx="502.1" cy="252.2" r="0.55" fill="#bfeee0"/>
<circle cx="499.9" cy="255.8" r="0.55" fill="#bfeee0"/>
<circle cx="503.1" cy="249.5" r="0.55" fill="#bfeee0"/>
<path d="M491.4 251.3 a7.5 7.5 0 0 0 0 15 z" fill="#e8fbf1"/>
<path d="M491.4 251.3 a7.5 7.5 0 0 1 0 15 z" fill="#2a9e85"/>
<circle cx="487.3" cy="256.2" r="0.55" fill="#7fbfae"/>
<circle cx="489.1" cy="261.1" r="0.55" fill="#7fbfae"/>
<circle cx="486.9" cy="259.9" r="0.55" fill="#7fbfae"/>
<circle cx="489.5" cy="254.3" r="0.55" fill="#7fbfae"/>
<circle cx="493.6" cy="255.8" r="0.55" fill="#bfeee0"/>
<circle cx="495.5" cy="259.6" r="0.55" fill="#bfeee0"/>
<circle cx="493.6" cy="262.6" r="0.55" fill="#bfeee0"/>
<circle cx="496.3" cy="257.3" r="0.55" fill="#bfeee0"/>
<path d="M502.6 252.3 a7 7 0 0 0 0 14 z" fill="#e8fbf1"/>
<path d="M502.6 252.3 a7 7 0 0 1 0 14 z" fill="#2a9e85"/>
<circle cx="498.7" cy="256.9" r="0.55" fill="#7fbfae"/>
<circle cx="500.5" cy="261.4" r="0.55" fill="#7fbfae"/>
<circle cx="498.4" cy="260.4" r="0.55" fill="#7fbfae"/>
<circle cx="500.8" cy="255.1" r="0.55" fill="#7fbfae"/>
<circle cx="504.7" cy="256.5" r="0.55" fill="#bfeee0"/>
<circle cx="506.4" cy="260" r="0.55" fill="#bfeee0"/>
<circle cx="504.7" cy="262.8" r="0.55" fill="#bfeee0"/>
<circle cx="507.1" cy="257.9" r="0.55" fill="#bfeee0"/>
<rect x="555" y="273" width="1.9" height="9" fill="#e8742c"/>
<path d="M553.3 282.4 h5.4 l-2.7 -1.8z" fill="#e8742c"/>
<path d="M556.5 251 a9 9 0 0 0 0 18 z" fill="#e8fbf1"/>
<path d="M556.5 251 a9 9 0 0 1 0 18 z" fill="#2a9e85"/>
<circle cx="551.5" cy="256.9" r="0.55" fill="#7fbfae"/>
<circle cx="553.8" cy="262.7" r="0.55" fill="#7fbfae"/>
<circle cx="551.1" cy="261.4" r="0.55" fill="#7fbfae"/>
<circle cx="554.2" cy="254.6" r="0.55" fill="#7fbfae"/>
<circle cx="559.2" cy="256.4" r="0.55" fill="#bfeee0"/>
<circle cx="561.5" cy="260.9" r="0.55" fill="#bfeee0"/>
<circle cx="559.2" cy="264.5" r="0.55" fill="#bfeee0"/>
<circle cx="562.4" cy="258.2" r="0.55" fill="#bfeee0"/>
<path d="M550.7 260 a7.5 7.5 0 0 0 0 15 z" fill="#e8fbf1"/>
<path d="M550.7 260 a7.5 7.5 0 0 1 0 15 z" fill="#2a9e85"/>
<circle cx="546.6" cy="264.9" r="0.55" fill="#7fbfae"/>
<circle cx="548.5" cy="269.8" r="0.55" fill="#7fbfae"/>
<circle cx="546.2" cy="268.6" r="0.55" fill="#7fbfae"/>
<circle cx="548.8" cy="263" r="0.55" fill="#7fbfae"/>
<circle cx="553" cy="264.5" r="0.55" fill="#bfeee0"/>
<circle cx="554.8" cy="268.2" r="0.55" fill="#bfeee0"/>
<circle cx="553" cy="271.2" r="0.55" fill="#bfeee0"/>
<circle cx="555.6" cy="266" r="0.55" fill="#bfeee0"/>
<path d="M561.9 261 a7 7 0 0 0 0 14 z" fill="#e8fbf1"/>
<path d="M561.9 261 a7 7 0 0 1 0 14 z" fill="#2a9e85"/>
<circle cx="558" cy="265.6" r="0.55" fill="#7fbfae"/>
<circle cx="559.8" cy="270.1" r="0.55" fill="#7fbfae"/>
<circle cx="557.7" cy="269.1" r="0.55" fill="#7fbfae"/>
<circle cx="560.1" cy="263.8" r="0.55" fill="#7fbfae"/>
<circle cx="564" cy="265.2" r="0.55" fill="#bfeee0"/>
<circle cx="565.8" cy="268.7" r="0.55" fill="#bfeee0"/>
<circle cx="564" cy="271.5" r="0.55" fill="#bfeee0"/>
<circle cx="566.4" cy="266.6" r="0.55" fill="#bfeee0"/>
<rect x="468.2" y="316.3" width="1.9" height="9" fill="#e8742c"/>
<path d="M466.5 325.7 h5.4 l-2.7 -1.8z" fill="#e8742c"/>
<path d="M469.7 294.3 a9 9 0 0 0 0 18 z" fill="#e8fbf1"/>
<path d="M469.7 294.3 a9 9 0 0 1 0 18 z" fill="#2a9e85"/>
<circle cx="464.8" cy="300.2" r="0.55" fill="#7fbfae"/>
<circle cx="467" cy="306" r="0.55" fill="#7fbfae"/>
<circle cx="464.3" cy="304.7" r="0.55" fill="#7fbfae"/>
<circle cx="467.4" cy="297.9" r="0.55" fill="#7fbfae"/>
<circle cx="472.4" cy="299.7" r="0.55" fill="#bfeee0"/>
<circle cx="474.6" cy="304.2" r="0.55" fill="#bfeee0"/>
<circle cx="472.4" cy="307.8" r="0.55" fill="#bfeee0"/>
<circle cx="475.6" cy="301.5" r="0.55" fill="#bfeee0"/>
<path d="M463.9 303.3 a7.5 7.5 0 0 0 0 15 z" fill="#e8fbf1"/>
<path d="M463.9 303.3 a7.5 7.5 0 0 1 0 15 z" fill="#2a9e85"/>
<circle cx="459.8" cy="308.2" r="0.55" fill="#7fbfae"/>
<circle cx="461.6" cy="313.1" r="0.55" fill="#7fbfae"/>
<circle cx="459.4" cy="311.9" r="0.55" fill="#7fbfae"/>
<circle cx="462" cy="306.3" r="0.55" fill="#7fbfae"/>
<circle cx="466.1" cy="307.8" r="0.55" fill="#bfeee0"/>
<circle cx="468" cy="311.6" r="0.55" fill="#bfeee0"/>
<circle cx="466.1" cy="314.6" r="0.55" fill="#bfeee0"/>
<circle cx="468.8" cy="309.3" r="0.55" fill="#bfeee0"/>
<path d="M475.1 304.3 a7 7 0 0 0 0 14 z" fill="#e8fbf1"/>
<path d="M475.1 304.3 a7 7 0 0 1 0 14 z" fill="#2a9e85"/>
<circle cx="471.2" cy="308.9" r="0.55" fill="#7fbfae"/>
<circle cx="473" cy="313.4" r="0.55" fill="#7fbfae"/>
<circle cx="470.9" cy="312.4" r="0.55" fill="#7fbfae"/>
<circle cx="473.3" cy="307.1" r="0.55" fill="#7fbfae"/>
<circle cx="477.2" cy="308.5" r="0.55" fill="#bfeee0"/>
<circle cx="478.9" cy="312" r="0.55" fill="#bfeee0"/>
<circle cx="477.2" cy="314.8" r="0.55" fill="#bfeee0"/>
<circle cx="479.6" cy="309.9" r="0.55" fill="#bfeee0"/>
<rect x="500.2" y="332.3" width="1.9" height="9" fill="#e8742c"/>
<path d="M498.5 341.7 h5.4 l-2.7 -1.8z" fill="#e8742c"/>
<path d="M501.7 310.3 a9 9 0 0 0 0 18 z" fill="#e8fbf1"/>
<path d="M501.7 310.3 a9 9 0 0 1 0 18 z" fill="#2a9e85"/>
<circle cx="496.8" cy="316.2" r="0.55" fill="#7fbfae"/>
<circle cx="499" cy="322" r="0.55" fill="#7fbfae"/>
<circle cx="496.3" cy="320.7" r="0.55" fill="#7fbfae"/>
<circle cx="499.4" cy="313.9" r="0.55" fill="#7fbfae"/>
<circle cx="504.4" cy="315.7" r="0.55" fill="#bfeee0"/>
<circle cx="506.6" cy="320.2" r="0.55" fill="#bfeee0"/>
<circle cx="504.4" cy="323.8" r="0.55" fill="#bfeee0"/>
<circle cx="507.6" cy="317.5" r="0.55" fill="#bfeee0"/>
<path d="M495.9 319.3 a7.5 7.5 0 0 0 0 15 z" fill="#e8fbf1"/>
<path d="M495.9 319.3 a7.5 7.5 0 0 1 0 15 z" fill="#2a9e85"/>
<circle cx="491.8" cy="324.2" r="0.55" fill="#7fbfae"/>
<circle cx="493.6" cy="329.1" r="0.55" fill="#7fbfae"/>
<circle cx="491.4" cy="327.9" r="0.55" fill="#7fbfae"/>
<circle cx="494" cy="322.3" r="0.55" fill="#7fbfae"/>
<circle cx="498.1" cy="323.8" r="0.55" fill="#bfeee0"/>
<circle cx="500" cy="327.6" r="0.55" fill="#bfeee0"/>
<circle cx="498.1" cy="330.6" r="0.55" fill="#bfeee0"/>
<circle cx="500.8" cy="325.3" r="0.55" fill="#bfeee0"/>
<path d="M507.1 320.3 a7 7 0 0 0 0 14 z" fill="#e8fbf1"/>
<path d="M507.1 320.3 a7 7 0 0 1 0 14 z" fill="#2a9e85"/>
<circle cx="503.2" cy="324.9" r="0.55" fill="#7fbfae"/>
<circle cx="505" cy="329.4" r="0.55" fill="#7fbfae"/>
<circle cx="502.9" cy="328.4" r="0.55" fill="#7fbfae"/>
<circle cx="505.3" cy="323.1" r="0.55" fill="#7fbfae"/>
<circle cx="509.2" cy="324.5" r="0.55" fill="#bfeee0"/>
<circle cx="510.9" cy="328" r="0.55" fill="#bfeee0"/>
<circle cx="509.2" cy="330.8" r="0.55" fill="#bfeee0"/>
<circle cx="511.6" cy="325.9" r="0.55" fill="#bfeee0"/>
<rect x="558.3" y="368.3" width="1.9" height="9" fill="#e8742c"/>
<path d="M556.6 377.7 h5.4 l-2.7 -1.8z" fill="#e8742c"/>
<path d="M559.8 346.3 a9 9 0 0 0 0 18 z" fill="#e8fbf1"/>
<path d="M559.8 346.3 a9 9 0 0 1 0 18 z" fill="#2a9e85"/>
<circle cx="554.8" cy="352.2" r="0.55" fill="#7fbfae"/>
<circle cx="557.1" cy="358" r="0.55" fill="#7fbfae"/>
<circle cx="554.4" cy="356.7" r="0.55" fill="#7fbfae"/>
<circle cx="557.5" cy="349.9" r="0.55" fill="#7fbfae"/>
<circle cx="562.5" cy="351.7" r="0.55" fill="#bfeee0"/>
<circle cx="564.8" cy="356.2" r="0.55" fill="#bfeee0"/>
<circle cx="562.5" cy="359.8" r="0.55" fill="#bfeee0"/>
<circle cx="565.6" cy="353.5" r="0.55" fill="#bfeee0"/>
<path d="M554 355.3 a7.5 7.5 0 0 0 0 15 z" fill="#e8fbf1"/>
<path d="M554 355.3 a7.5 7.5 0 0 1 0 15 z" fill="#2a9e85"/>
<circle cx="549.9" cy="360.2" r="0.55" fill="#7fbfae"/>
<circle cx="551.8" cy="365.1" r="0.55" fill="#7fbfae"/>
<circle cx="549.5" cy="363.9" r="0.55" fill="#7fbfae"/>
<circle cx="552.1" cy="358.3" r="0.55" fill="#7fbfae"/>
<circle cx="556.2" cy="359.8" r="0.55" fill="#bfeee0"/>
<circle cx="558.1" cy="363.6" r="0.55" fill="#bfeee0"/>
<circle cx="556.2" cy="366.6" r="0.55" fill="#bfeee0"/>
<circle cx="558.9" cy="361.3" r="0.55" fill="#bfeee0"/>
<path d="M565.2 356.3 a7 7 0 0 0 0 14 z" fill="#e8fbf1"/>
<path d="M565.2 356.3 a7 7 0 0 1 0 14 z" fill="#2a9e85"/>
<circle cx="561.3" cy="360.9" r="0.55" fill="#7fbfae"/>
<circle cx="563.1" cy="365.4" r="0.55" fill="#7fbfae"/>
<circle cx="561" cy="364.4" r="0.55" fill="#7fbfae"/>
<circle cx="563.4" cy="359.1" r="0.55" fill="#7fbfae"/>
<circle cx="567.3" cy="360.5" r="0.55" fill="#bfeee0"/>
<circle cx="569" cy="364" r="0.55" fill="#bfeee0"/>
<circle cx="567.3" cy="366.8" r="0.55" fill="#bfeee0"/>
<circle cx="569.7" cy="361.9" r="0.55" fill="#bfeee0"/>
<rect x="615.2" y="316.8" width="1.9" height="9" fill="#e8742c"/>
<path d="M613.5 326.2 h5.4 l-2.7 -1.8z" fill="#e8742c"/>
<path d="M616.7 294.8 a9 9 0 0 0 0 18 z" fill="#e8fbf1"/>
<path d="M616.7 294.8 a9 9 0 0 1 0 18 z" fill="#2a9e85"/>
<circle cx="611.8" cy="300.7" r="0.55" fill="#7fbfae"/>
<circle cx="614" cy="306.5" r="0.55" fill="#7fbfae"/>
<circle cx="611.3" cy="305.2" r="0.55" fill="#7fbfae"/>
<circle cx="614.5" cy="298.4" r="0.55" fill="#7fbfae"/>
<circle cx="619.4" cy="300.2" r="0.55" fill="#bfeee0"/>
<circle cx="621.7" cy="304.7" r="0.55" fill="#bfeee0"/>
<circle cx="619.4" cy="308.3" r="0.55" fill="#bfeee0"/>
<circle cx="622.6" cy="302" r="0.55" fill="#bfeee0"/>
<path d="M610.9 303.8 a7.5 7.5 0 0 0 0 15 z" fill="#e8fbf1"/>
<path d="M610.9 303.8 a7.5 7.5 0 0 1 0 15 z" fill="#2a9e85"/>
<circle cx="606.8" cy="308.7" r="0.55" fill="#7fbfae"/>
<circle cx="608.7" cy="313.6" r="0.55" fill="#7fbfae"/>
<circle cx="606.4" cy="312.4" r="0.55" fill="#7fbfae"/>
<circle cx="609" cy="306.8" r="0.55" fill="#7fbfae"/>
<circle cx="613.2" cy="308.3" r="0.55" fill="#bfeee0"/>
<circle cx="615" cy="312.1" r="0.55" fill="#bfeee0"/>
<circle cx="613.2" cy="315.1" r="0.55" fill="#bfeee0"/>
<circle cx="615.8" cy="309.8" r="0.55" fill="#bfeee0"/>
<path d="M622.1 304.8 a7 7 0 0 0 0 14 z" fill="#e8fbf1"/>
<path d="M622.1 304.8 a7 7 0 0 1 0 14 z" fill="#2a9e85"/>
<circle cx="618.2" cy="309.4" r="0.55" fill="#7fbfae"/>
<circle cx="620" cy="313.9" r="0.55" fill="#7fbfae"/>
<circle cx="617.9" cy="312.9" r="0.55" fill="#7fbfae"/>
<circle cx="620.4" cy="307.6" r="0.55" fill="#7fbfae"/>
<circle cx="624.2" cy="309" r="0.55" fill="#bfeee0"/>
<circle cx="626" cy="312.5" r="0.55" fill="#bfeee0"/>
<circle cx="624.2" cy="315.3" r="0.55" fill="#bfeee0"/>
<circle cx="626.6" cy="310.4" r="0.55" fill="#bfeee0"/>
<rect x="509.5" y="292" width="4.2" height="16" fill="#7fe0aa"/>
<rect x="512.2" y="292" width="1.5" height="16" fill="#3db777"/>
<ellipse cx="511.6" cy="308" rx="2.1" ry="1.1" fill="#3db777"/>
<rect x="559.9" y="318" width="4.2" height="16" fill="#7fe0aa"/>
<rect x="562.6" y="318" width="1.5" height="16" fill="#3db777"/>
<ellipse cx="562" cy="334" rx="2.1" ry="1.1" fill="#3db777"/>
<polygon points="586,292.5 589,290.7 589,331.2 586,333" fill="#bfeed5" stroke="#2c9a6e" stroke-width="0.5" stroke-linejoin="round"/>
<polygon points="497,248 500,246.2 589,290.7 586,292.5" fill="#e9fbf2" stroke="#2c9a6e" stroke-width="0.5" stroke-linejoin="round"/>
<polygon points="497,248 586,292.5 586,333 497,288.5" fill="#fbfffd" stroke="#2c9a6e" stroke-width="0.7" stroke-linejoin="round"/>
<text transform="matrix(1 0.5 0 1 541.5 294.3)" x="0" y="0" font-size="10.3" font-weight="bold" text-anchor="middle" fill="#0e6e46">西班牙-科尔多瓦</text>
<path d="M96 827 Q112 862 141 868 L136 894 L166 868 L136 841 L139 855 Q116 852 96 827z" fill="url(#gBig1)"/>
<path d="M315 878 L350 859 L343 874 Q372 878 396 869 Q372 893 339 890 L332 911z" fill="url(#gBig2)"/>
<path d="M385 260 L401 231 L407 244 Q436 238 457 258 L455 263 Q436 251 413 257 L415 271z" fill="url(#gBig3)"/>
</svg></body></html>
